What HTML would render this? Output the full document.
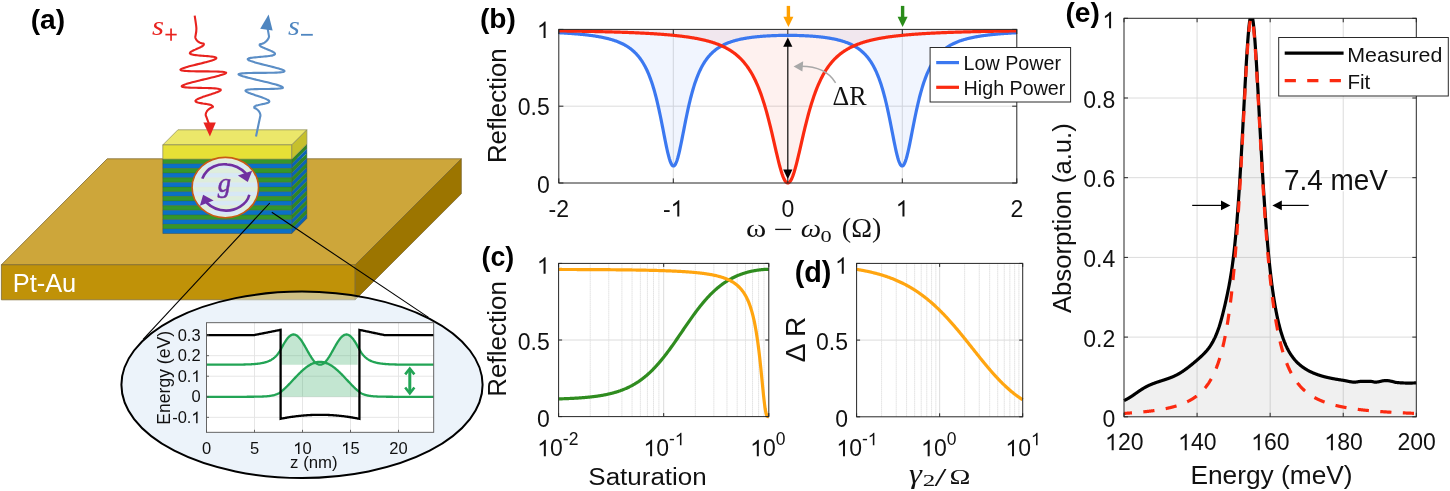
<!DOCTYPE html>
<html><head><meta charset="utf-8"><style>html,body{margin:0;padding:0;background:#fff;}svg{display:block;will-change:transform;}</style></head>
<body><svg width="1450" height="491" viewBox="0 0 1450 491">
<rect width="1450" height="491" fill="#fff"/>
<path d="M107.2,158.8 L461.3,158.8 L355.2,264.8 L1.4,264.8 Z" fill="#cda63a" stroke="#7d6a34" stroke-width="0.8" stroke-linejoin="round"/>
<path d="M1.4,264.8 L355.2,264.8 L355.2,299.8 L1.4,299.8 Z" fill="#c09208" stroke="#7d6a34" stroke-width="0.8" stroke-linejoin="round"/>
<path d="M355.2,264.8 L461.3,158.8 L461.3,193.8 L355.2,299.8 Z" fill="#9c7500" stroke="#7d6a34" stroke-width="0.8" stroke-linejoin="round"/>
<text x="12.68" y="291.85" style="font-family:'Liberation Sans', sans-serif;font-size:25.43px" fill="#fff">Pt-Au</text>
<rect x="162.8" y="159.1" width="129" height="4.7" fill="#35962a"/>
<path d="M291.8,159.1 L306.9,144 L306.9,148.7 L291.8,163.8 Z" fill="#2e8626" stroke="none" stroke-width="1" stroke-linejoin="round"/>
<rect x="162.8" y="163.75" width="129" height="4.7" fill="#0b70c6"/>
<path d="M291.8,163.75 L306.9,148.65 L306.9,153.35 L291.8,168.45 Z" fill="#0b62b4" stroke="none" stroke-width="1" stroke-linejoin="round"/>
<rect x="162.8" y="168.4" width="129" height="4.7" fill="#35962a"/>
<path d="M291.8,168.4 L306.9,153.3 L306.9,158 L291.8,173.1 Z" fill="#2e8626" stroke="none" stroke-width="1" stroke-linejoin="round"/>
<rect x="162.8" y="173.05" width="129" height="4.7" fill="#0b70c6"/>
<path d="M291.8,173.05 L306.9,157.95 L306.9,162.65 L291.8,177.75 Z" fill="#0b62b4" stroke="none" stroke-width="1" stroke-linejoin="round"/>
<rect x="162.8" y="177.7" width="129" height="4.7" fill="#35962a"/>
<path d="M291.8,177.7 L306.9,162.6 L306.9,167.3 L291.8,182.4 Z" fill="#2e8626" stroke="none" stroke-width="1" stroke-linejoin="round"/>
<rect x="162.8" y="182.35" width="129" height="4.7" fill="#0b70c6"/>
<path d="M291.8,182.35 L306.9,167.25 L306.9,171.95 L291.8,187.05 Z" fill="#0b62b4" stroke="none" stroke-width="1" stroke-linejoin="round"/>
<rect x="162.8" y="187" width="129" height="4.7" fill="#35962a"/>
<path d="M291.8,187 L306.9,171.9 L306.9,176.6 L291.8,191.7 Z" fill="#2e8626" stroke="none" stroke-width="1" stroke-linejoin="round"/>
<rect x="162.8" y="191.65" width="129" height="4.7" fill="#0b70c6"/>
<path d="M291.8,191.65 L306.9,176.55 L306.9,181.25 L291.8,196.35 Z" fill="#0b62b4" stroke="none" stroke-width="1" stroke-linejoin="round"/>
<rect x="162.8" y="196.3" width="129" height="4.7" fill="#35962a"/>
<path d="M291.8,196.3 L306.9,181.2 L306.9,185.9 L291.8,201 Z" fill="#2e8626" stroke="none" stroke-width="1" stroke-linejoin="round"/>
<rect x="162.8" y="200.95" width="129" height="4.7" fill="#0b70c6"/>
<path d="M291.8,200.95 L306.9,185.85 L306.9,190.55 L291.8,205.65 Z" fill="#0b62b4" stroke="none" stroke-width="1" stroke-linejoin="round"/>
<rect x="162.8" y="205.6" width="129" height="4.7" fill="#35962a"/>
<path d="M291.8,205.6 L306.9,190.5 L306.9,195.2 L291.8,210.3 Z" fill="#2e8626" stroke="none" stroke-width="1" stroke-linejoin="round"/>
<rect x="162.8" y="210.25" width="129" height="4.7" fill="#0b70c6"/>
<path d="M291.8,210.25 L306.9,195.15 L306.9,199.85 L291.8,214.95 Z" fill="#0b62b4" stroke="none" stroke-width="1" stroke-linejoin="round"/>
<rect x="162.8" y="214.9" width="129" height="4.7" fill="#35962a"/>
<path d="M291.8,214.9 L306.9,199.8 L306.9,204.5 L291.8,219.6 Z" fill="#2e8626" stroke="none" stroke-width="1" stroke-linejoin="round"/>
<rect x="162.8" y="219.55" width="129" height="4.7" fill="#0b70c6"/>
<path d="M291.8,219.55 L306.9,204.45 L306.9,209.15 L291.8,224.25 Z" fill="#0b62b4" stroke="none" stroke-width="1" stroke-linejoin="round"/>
<rect x="162.8" y="224.2" width="129" height="4.7" fill="#35962a"/>
<path d="M291.8,224.2 L306.9,209.1 L306.9,213.8 L291.8,228.9 Z" fill="#2e8626" stroke="none" stroke-width="1" stroke-linejoin="round"/>
<rect x="162.8" y="228.85" width="129" height="4.7" fill="#0b70c6"/>
<path d="M291.8,228.85 L306.9,213.75 L306.9,218.45 L291.8,233.55 Z" fill="#0b62b4" stroke="none" stroke-width="1" stroke-linejoin="round"/>
<line x1="162.8" y1="163.75" x2="291.8" y2="163.75" stroke="rgba(40,60,60,0.35)" stroke-width="0.6"/>
<line x1="162.8" y1="168.4" x2="291.8" y2="168.4" stroke="rgba(40,60,60,0.35)" stroke-width="0.6"/>
<line x1="162.8" y1="173.05" x2="291.8" y2="173.05" stroke="rgba(40,60,60,0.35)" stroke-width="0.6"/>
<line x1="162.8" y1="177.7" x2="291.8" y2="177.7" stroke="rgba(40,60,60,0.35)" stroke-width="0.6"/>
<line x1="162.8" y1="182.35" x2="291.8" y2="182.35" stroke="rgba(40,60,60,0.35)" stroke-width="0.6"/>
<line x1="162.8" y1="187" x2="291.8" y2="187" stroke="rgba(40,60,60,0.35)" stroke-width="0.6"/>
<line x1="162.8" y1="191.65" x2="291.8" y2="191.65" stroke="rgba(40,60,60,0.35)" stroke-width="0.6"/>
<line x1="162.8" y1="196.3" x2="291.8" y2="196.3" stroke="rgba(40,60,60,0.35)" stroke-width="0.6"/>
<line x1="162.8" y1="200.95" x2="291.8" y2="200.95" stroke="rgba(40,60,60,0.35)" stroke-width="0.6"/>
<line x1="162.8" y1="205.6" x2="291.8" y2="205.6" stroke="rgba(40,60,60,0.35)" stroke-width="0.6"/>
<line x1="162.8" y1="210.25" x2="291.8" y2="210.25" stroke="rgba(40,60,60,0.35)" stroke-width="0.6"/>
<line x1="162.8" y1="214.9" x2="291.8" y2="214.9" stroke="rgba(40,60,60,0.35)" stroke-width="0.6"/>
<line x1="162.8" y1="219.55" x2="291.8" y2="219.55" stroke="rgba(40,60,60,0.35)" stroke-width="0.6"/>
<line x1="162.8" y1="224.2" x2="291.8" y2="224.2" stroke="rgba(40,60,60,0.35)" stroke-width="0.6"/>
<line x1="162.8" y1="228.85" x2="291.8" y2="228.85" stroke="rgba(40,60,60,0.35)" stroke-width="0.6"/>
<path d="M177.9,129.8 L306.9,129.8 L291.8,144.9 L162.8,144.9 Z" fill="#ebe76a" stroke="#8a8a5a" stroke-width="0.7" stroke-linejoin="round"/>
<path d="M162.8,144.9 L291.8,144.9 L291.8,159.1 L162.8,159.1 Z" fill="#e6e036" stroke="#8a8a5a" stroke-width="0.7" stroke-linejoin="round"/>
<path d="M291.8,144.9 L306.9,129.8 L306.9,144 L291.8,159.1 Z" fill="#c6c02c" stroke="#8a8a5a" stroke-width="0.7" stroke-linejoin="round"/>
<path d="M162.8,159.1 L162.8,233.5 L291.8,233.5 L306.90000000000003,218.4 L306.90000000000003,144" fill="none" stroke="rgba(60,70,70,0.6)" stroke-width="0.7"/>
<line x1="291.8" y1="159.1" x2="291.8" y2="233.5" stroke="rgba(60,70,70,0.6)" stroke-width="0.7"/>
<ellipse cx="225.3" cy="187.6" rx="33.2" ry="30.2" fill="rgba(255,255,255,0.84)" stroke="#c85a14" stroke-width="1.6"/>
<path d="M202.3,178.6 C207,166 220,163.5 227,164.4 C235,165 241,168.5 246,173.5" fill="none" stroke="#7030a0" stroke-width="2.6"/>
<path d="M237.9,175.4 L252.2,170.7 L247.8,182 Z" fill="#7030a0" stroke="none" stroke-width="1" stroke-linejoin="round"/>
<path d="M249.3,194.8 C247,205 235,210.8 226,210.6 C218,210.4 211,207 206.5,202.5" fill="none" stroke="#7030a0" stroke-width="2.6"/>
<path d="M213.6,200.4 L203.1,194.8 L199.9,205.8 Z" fill="#7030a0" stroke="none" stroke-width="1" stroke-linejoin="round"/>
<text x="217.7" y="191.99" style="font-family:'Liberation Serif', serif;font-style:italic;font-size:26.57px" fill="#7030a0" stroke="#7030a0" stroke-width="0.5">g</text>
<path d="M194.7,15.7 C194.98,17.83 196.28,25.05 196.4,28.5 C196.52,31.95 195.58,35.02 195.4,36.4 C195.22,37.78 195.34,36.64 195.32,36.77 C195.31,36.9 195.31,37.05 195.32,37.19 C195.33,37.34 195.35,37.5 195.38,37.66 C195.42,37.82 195.46,37.98 195.52,38.15 C195.58,38.32 195.65,38.49 195.73,38.67 C195.81,38.84 195.91,39.02 196.01,39.19 C196.11,39.36 196.23,39.54 196.35,39.71 C196.47,39.89 196.61,40.06 196.75,40.23 C196.89,40.39 197.04,40.56 197.2,40.72 C197.36,40.88 197.52,41.03 197.69,41.18 C197.86,41.33 198.04,41.47 198.22,41.61 C198.4,41.75 198.59,41.88 198.77,42 C198.96,42.12 199.15,42.24 199.34,42.34 C199.53,42.45 199.73,42.55 199.91,42.64 C200.1,42.73 200.29,42.82 200.48,42.89 C200.66,42.97 200.85,43.03 201.03,43.09 C201.2,43.15 201.38,43.2 201.54,43.25 C201.71,43.29 201.87,43.33 202.02,43.36 C202.17,43.39 202.31,43.42 202.44,43.44 C202.57,43.46 202.7,43.47 202.81,43.48 C202.92,43.49 203.02,43.5 203.1,43.5 C203.19,43.51 203.26,43.51 203.32,43.51 C203.38,43.51 203.42,43.5 203.45,43.5 C203.48,43.5 203.46,43.45 203.5,43.5 C203.54,43.55 203.66,43.7 203.72,43.8 C203.77,43.91 203.82,44.01 203.84,44.12 C203.86,44.22 203.86,44.33 203.85,44.44 C203.83,44.55 203.8,44.66 203.74,44.78 C203.69,44.89 203.61,45.01 203.52,45.13 C203.43,45.24 203.32,45.36 203.19,45.49 C203.05,45.61 202.9,45.73 202.73,45.86 C202.57,45.99 202.38,46.12 202.18,46.25 C201.97,46.38 201.75,46.51 201.51,46.64 C201.28,46.78 201.02,46.91 200.76,47.05 C200.49,47.19 200.21,47.32 199.92,47.46 C199.64,47.6 199.33,47.75 199.02,47.89 C198.72,48.03 198.4,48.17 198.08,48.32 C197.75,48.46 197.42,48.6 197.09,48.75 C196.77,48.89 196.43,49.04 196.1,49.18 C195.77,49.33 195.44,49.47 195.12,49.62 C194.79,49.76 194.47,49.9 194.16,50.05 C193.85,50.19 193.55,50.33 193.26,50.47 C192.97,50.61 192.69,50.75 192.42,50.89 C192.16,51.03 191.91,51.17 191.68,51.3 C191.45,51.44 191.24,51.57 191.05,51.7 C190.86,51.83 190.69,51.96 190.55,52.08 C190.41,52.21 190.29,52.33 190.2,52.45 C190.1,52.57 190.05,52.68 190,52.8 C189.95,52.92 189.89,53.03 189.89,53.14 C189.88,53.25 189.9,53.36 189.95,53.46 C190.01,53.57 190.09,53.67 190.21,53.76 C190.33,53.86 190.48,53.95 190.66,54.04 C190.84,54.13 191.05,54.22 191.3,54.3 C191.54,54.38 191.82,54.46 192.12,54.54 C192.43,54.62 192.77,54.69 193.13,54.76 C193.5,54.83 193.89,54.89 194.31,54.96 C194.73,55.02 195.17,55.08 195.64,55.14 C196.1,55.2 196.6,55.26 197.1,55.31 C197.61,55.36 198.14,55.42 198.68,55.47 C199.22,55.52 199.78,55.56 200.35,55.61 C200.92,55.66 201.5,55.71 202.08,55.75 C202.66,55.8 203.25,55.84 203.84,55.89 C204.42,55.93 205.02,55.98 205.6,56.02 C206.18,56.07 206.76,56.12 207.32,56.16 C207.89,56.21 208.45,56.26 208.99,56.31 C209.53,56.36 210.05,56.41 210.56,56.46 C211.06,56.52 211.54,56.58 211.99,56.63 C212.45,56.69 212.88,56.76 213.28,56.82 C213.67,56.89 214.04,56.96 214.37,57.03 C214.7,57.1 215,57.18 215.25,57.26 C215.51,57.34 215.73,57.43 215.9,57.52 C216.08,57.61 216.22,57.7 216.3,57.8 C216.38,57.9 216.39,58.01 216.37,58.13 C216.35,58.24 216.28,58.36 216.17,58.48 C216.06,58.6 215.89,58.73 215.69,58.87 C215.48,59 215.23,59.14 214.93,59.28 C214.64,59.42 214.29,59.57 213.91,59.72 C213.52,59.88 213.09,60.03 212.63,60.2 C212.16,60.36 211.65,60.52 211.1,60.69 C210.56,60.86 209.98,61.04 209.36,61.21 C208.75,61.39 208.1,61.57 207.43,61.75 C206.76,61.94 206.05,62.12 205.33,62.31 C204.61,62.5 203.86,62.69 203.11,62.88 C202.35,63.07 201.57,63.27 200.79,63.46 C200.01,63.66 199.21,63.85 198.42,64.05 C197.62,64.24 196.82,64.44 196.03,64.63 C195.24,64.83 194.45,65.02 193.68,65.22 C192.91,65.41 192.14,65.6 191.4,65.79 C190.66,65.98 189.93,66.17 189.23,66.35 C188.54,66.54 187.86,66.72 187.23,66.9 C186.59,67.08 185.98,67.25 185.41,67.42 C184.84,67.59 184.31,67.76 183.83,67.92 C183.34,68.08 182.9,68.24 182.51,68.39 C182.12,68.54 181.77,68.69 181.48,68.83 C181.19,68.97 180.95,69.1 180.77,69.23 C180.59,69.36 180.43,69.48 180.4,69.6 C180.37,69.72 180.48,69.83 180.6,69.93 C180.73,70.04 180.91,70.13 181.16,70.22 C181.4,70.32 181.7,70.4 182.06,70.48 C182.41,70.56 182.83,70.63 183.29,70.7 C183.76,70.76 184.28,70.83 184.85,70.88 C185.42,70.94 186.04,70.98 186.7,71.03 C187.37,71.07 188.08,71.11 188.83,71.14 C189.57,71.18 190.37,71.21 191.19,71.23 C192.01,71.26 192.87,71.28 193.75,71.3 C194.63,71.32 195.55,71.33 196.47,71.34 C197.4,71.35 198.36,71.36 199.31,71.37 C200.27,71.38 201.25,71.38 202.22,71.39 C203.2,71.39 204.19,71.4 205.16,71.4 C206.13,71.4 207.11,71.41 208.07,71.41 C209.03,71.42 209.98,71.42 210.91,71.43 C211.83,71.44 212.74,71.45 213.62,71.46 C214.5,71.48 215.35,71.49 216.17,71.51 C216.98,71.53 217.77,71.55 218.51,71.58 C219.25,71.61 219.95,71.64 220.6,71.68 C221.24,71.71 221.85,71.75 222.4,71.8 C222.95,71.85 223.45,71.91 223.88,71.97 C224.32,72.03 224.7,72.09 225.02,72.17 C225.34,72.24 225.61,72.32 225.8,72.41 C226,72.5 226.18,72.59 226.2,72.7 C226.22,72.81 226.06,72.95 225.89,73.09 C225.73,73.22 225.5,73.36 225.21,73.51 C224.92,73.67 224.57,73.82 224.16,73.99 C223.75,74.15 223.28,74.32 222.76,74.5 C222.24,74.68 221.67,74.86 221.04,75.05 C220.42,75.24 219.75,75.44 219.04,75.64 C218.32,75.84 217.56,76.05 216.77,76.26 C215.98,76.47 215.15,76.68 214.29,76.9 C213.44,77.12 212.54,77.34 211.64,77.56 C210.73,77.79 209.8,78.01 208.86,78.24 C207.92,78.47 206.96,78.7 206,78.93 C205.04,79.16 204.07,79.39 203.11,79.62 C202.15,79.86 201.19,80.09 200.24,80.32 C199.3,80.55 198.35,80.77 197.44,81 C196.52,81.23 195.62,81.45 194.75,81.67 C193.88,81.89 193.02,82.11 192.21,82.33 C191.4,82.54 190.62,82.75 189.88,82.95 C189.14,83.16 188.44,83.36 187.78,83.56 C187.13,83.75 186.51,83.94 185.96,84.13 C185.4,84.31 184.88,84.49 184.43,84.66 C183.97,84.83 183.57,85 183.23,85.16 C182.88,85.32 182.59,85.47 182.36,85.61 C182.13,85.76 181.96,85.9 181.85,86.03 C181.74,86.16 181.65,86.29 181.7,86.4 C181.75,86.51 181.96,86.6 182.17,86.69 C182.38,86.78 182.66,86.87 182.98,86.95 C183.31,87.02 183.69,87.09 184.12,87.16 C184.55,87.22 185.03,87.28 185.56,87.34 C186.08,87.39 186.66,87.44 187.27,87.48 C187.88,87.52 188.53,87.56 189.22,87.6 C189.9,87.63 190.62,87.66 191.37,87.69 C192.11,87.72 192.89,87.74 193.68,87.76 C194.46,87.78 195.28,87.8 196.1,87.82 C196.93,87.84 197.77,87.85 198.61,87.87 C199.45,87.89 200.3,87.9 201.15,87.92 C201.99,87.93 202.84,87.95 203.68,87.96 C204.51,87.98 205.34,88 206.15,88.02 C206.96,88.03 207.76,88.06 208.53,88.08 C209.3,88.1 210.06,88.13 210.78,88.16 C211.5,88.19 212.2,88.22 212.87,88.26 C213.53,88.3 214.16,88.34 214.75,88.38 C215.35,88.43 215.91,88.48 216.42,88.53 C216.93,88.59 217.41,88.65 217.84,88.71 C218.27,88.78 218.65,88.84 218.99,88.92 C219.33,89 219.62,89.08 219.87,89.16 C220.12,89.25 220.31,89.34 220.46,89.44 C220.61,89.54 220.72,89.64 220.77,89.75 C220.83,89.86 220.85,89.98 220.8,90.1 C220.75,90.22 220.64,90.34 220.5,90.47 C220.35,90.6 220.16,90.74 219.93,90.88 C219.7,91.02 219.43,91.16 219.12,91.31 C218.82,91.46 218.47,91.61 218.1,91.77 C217.72,91.93 217.31,92.09 216.88,92.26 C216.44,92.42 215.98,92.59 215.49,92.76 C215.01,92.94 214.49,93.11 213.97,93.29 C213.45,93.47 212.9,93.65 212.35,93.83 C211.79,94.01 211.22,94.19 210.65,94.38 C210.08,94.56 209.5,94.75 208.92,94.93 C208.35,95.12 207.76,95.31 207.19,95.49 C206.62,95.68 206.05,95.87 205.49,96.05 C204.93,96.23 204.38,96.42 203.84,96.6 C203.31,96.78 202.79,96.96 202.29,97.14 C201.79,97.32 201.31,97.5 200.85,97.67 C200.39,97.85 199.96,98.02 199.55,98.19 C199.14,98.36 198.76,98.52 198.41,98.68 C198.05,98.85 197.73,99 197.44,99.16 C197.15,99.31 196.88,99.46 196.65,99.61 C196.43,99.76 196.23,99.9 196.07,100.04 C195.9,100.18 195.77,100.31 195.68,100.44 C195.58,100.57 195.52,100.7 195.49,100.82 C195.46,100.94 195.47,101.06 195.5,101.17 C195.54,101.29 195.62,101.4 195.7,101.5 C195.78,101.6 195.88,101.7 196.01,101.79 C196.13,101.89 196.3,101.98 196.48,102.07 C196.66,102.15 196.87,102.24 197.11,102.32 C197.34,102.4 197.6,102.47 197.87,102.55 C198.15,102.62 198.45,102.69 198.76,102.76 C199.07,102.83 199.4,102.9 199.74,102.96 C200.09,103.03 200.44,103.09 200.81,103.15 C201.17,103.22 201.55,103.28 201.93,103.34 C202.3,103.4 202.69,103.46 203.08,103.52 C203.46,103.57 203.85,103.63 204.24,103.69 C204.63,103.75 205.01,103.81 205.39,103.87 C205.77,103.93 206.15,103.99 206.51,104.05 C206.88,104.11 207.24,104.17 207.58,104.24 C207.93,104.3 208.27,104.37 208.59,104.43 C208.91,104.5 209.22,104.57 209.51,104.64 C209.8,104.71 210.07,104.79 210.33,104.86 C210.59,104.94 210.83,105.02 211.05,105.1 C211.26,105.18 211.47,105.26 211.65,105.35 C211.83,105.43 211.99,105.52 212.13,105.62 C212.26,105.71 212.38,105.8 212.48,105.9 C212.58,106 212.66,106.1 212.71,106.2 C212.77,106.3 212.81,106.41 212.82,106.52 C212.84,106.63 212.84,106.74 212.82,106.85 C212.8,106.96 212.73,107.14 212.7,107.2 C212.67,107.26 212.68,107.2 212.65,107.21 C212.62,107.21 212.57,107.22 212.51,107.24 C212.44,107.25 212.37,107.27 212.28,107.3 C212.19,107.32 212.08,107.35 211.97,107.39 C211.85,107.43 211.73,107.48 211.59,107.53 C211.46,107.58 211.31,107.64 211.16,107.71 C211.01,107.78 210.85,107.86 210.69,107.94 C210.53,108.03 210.35,108.12 210.18,108.23 C210.01,108.33 209.84,108.44 209.66,108.56 C209.48,108.68 209.31,108.81 209.13,108.95 C208.95,109.08 208.78,109.23 208.61,109.38 C208.43,109.53 208.26,109.7 208.1,109.86 C207.94,110.03 207.78,110.2 207.62,110.38 C207.47,110.56 207.32,110.75 207.18,110.94 C207.04,111.13 206.91,111.32 206.79,111.52 C206.67,111.71 206.55,111.91 206.45,112.11 C206.35,112.31 206.25,112.51 206.17,112.72 C206.09,112.92 206.02,113.12 205.96,113.31 C205.9,113.51 205.85,113.71 205.81,113.9 C205.77,114.09 205.75,114.27 205.73,114.45 C205.72,114.63 205.72,114.81 205.73,114.97 C205.73,115.14 205.76,115.3 205.79,115.44 C205.82,115.59 205.86,115.73 205.91,115.86 C205.96,115.98 205.55,114.76 206.1,116.2 C206.65,117.64 208.68,123.12 209.2,124.5" fill="none" stroke="#e8231f" stroke-width="2.1" stroke-linejoin="round"/>
<path d="M203.4,122.4 L215.8,122.4 L209.9,136.6 Z" fill="#e8231f" stroke="none" stroke-width="1" stroke-linejoin="round"/>
<path d="M256,136.5 C256.68,133.25 259.39,120.31 260.1,117 C260.81,113.69 260.22,116.78 260.26,116.65 C260.31,116.52 260.34,116.38 260.37,116.23 C260.4,116.08 260.42,115.92 260.42,115.76 C260.43,115.59 260.43,115.41 260.42,115.23 C260.41,115.05 260.38,114.86 260.35,114.67 C260.32,114.48 260.28,114.28 260.23,114.08 C260.17,113.88 260.11,113.68 260.04,113.48 C259.97,113.28 259.89,113.08 259.8,112.88 C259.71,112.67 259.61,112.47 259.51,112.28 C259.4,112.08 259.29,111.89 259.17,111.7 C259.05,111.51 258.92,111.32 258.79,111.14 C258.66,110.97 258.52,110.79 258.38,110.62 C258.23,110.46 258.09,110.3 257.94,110.15 C257.79,109.99 257.64,109.85 257.49,109.71 C257.33,109.58 257.18,109.45 257.03,109.33 C256.88,109.21 256.72,109.1 256.57,109 C256.43,108.9 256.28,108.81 256.14,108.72 C256,108.64 255.86,108.56 255.73,108.49 C255.6,108.43 255.47,108.37 255.36,108.32 C255.24,108.26 255.13,108.22 255.03,108.18 C254.93,108.15 254.84,108.12 254.77,108.09 C254.69,108.07 254.62,108.05 254.57,108.04 C254.51,108.02 254.47,108.01 254.44,108.01 C254.41,108 254.43,108.06 254.4,108 C254.37,107.94 254.29,107.76 254.26,107.65 C254.23,107.54 254.21,107.42 254.22,107.31 C254.22,107.21 254.24,107.1 254.27,106.99 C254.31,106.89 254.37,106.79 254.44,106.69 C254.52,106.59 254.61,106.49 254.72,106.4 C254.83,106.3 254.96,106.21 255.11,106.12 C255.26,106.03 255.42,105.94 255.61,105.86 C255.79,105.77 255.99,105.69 256.21,105.61 C256.43,105.53 256.67,105.45 256.92,105.38 C257.16,105.3 257.43,105.23 257.71,105.16 C257.98,105.08 258.28,105.01 258.58,104.94 C258.88,104.87 259.19,104.8 259.51,104.74 C259.83,104.67 260.16,104.6 260.5,104.54 C260.83,104.47 261.17,104.41 261.51,104.34 C261.85,104.28 262.2,104.21 262.54,104.15 C262.88,104.08 263.22,104.02 263.56,103.95 C263.89,103.88 264.23,103.82 264.55,103.75 C264.88,103.68 265.19,103.61 265.5,103.54 C265.8,103.47 266.1,103.4 266.38,103.32 C266.65,103.25 266.92,103.17 267.17,103.09 C267.41,103.01 267.64,102.93 267.85,102.85 C268.06,102.76 268.25,102.67 268.41,102.58 C268.57,102.49 268.72,102.4 268.83,102.3 C268.95,102.2 269.02,102.1 269.1,102 C269.18,101.9 269.26,101.8 269.3,101.69 C269.34,101.58 269.35,101.47 269.33,101.36 C269.31,101.24 269.26,101.13 269.18,101 C269.1,100.88 268.98,100.75 268.84,100.62 C268.7,100.49 268.52,100.36 268.31,100.22 C268.11,100.08 267.87,99.93 267.61,99.79 C267.34,99.64 267.04,99.49 266.72,99.34 C266.4,99.18 266.04,99.02 265.67,98.86 C265.29,98.7 264.89,98.54 264.46,98.37 C264.04,98.2 263.59,98.03 263.13,97.86 C262.66,97.69 262.17,97.51 261.68,97.34 C261.18,97.16 260.66,96.98 260.14,96.8 C259.61,96.62 259.08,96.44 258.54,96.26 C258,96.08 257.45,95.89 256.9,95.71 C256.36,95.53 255.81,95.34 255.27,95.16 C254.73,94.98 254.19,94.8 253.66,94.62 C253.14,94.44 252.62,94.26 252.12,94.09 C251.62,93.91 251.13,93.74 250.66,93.56 C250.2,93.39 249.75,93.22 249.33,93.06 C248.92,92.89 248.52,92.73 248.16,92.57 C247.8,92.42 247.46,92.26 247.16,92.11 C246.87,91.96 246.6,91.82 246.37,91.68 C246.15,91.54 245.96,91.4 245.81,91.27 C245.67,91.14 245.55,91.02 245.5,90.9 C245.45,90.78 245.45,90.68 245.49,90.57 C245.53,90.47 245.61,90.37 245.74,90.28 C245.87,90.19 246.05,90.1 246.27,90.02 C246.5,89.94 246.76,89.86 247.08,89.79 C247.39,89.73 247.75,89.66 248.15,89.6 C248.55,89.55 248.99,89.49 249.47,89.45 C249.95,89.4 250.48,89.36 251.04,89.32 C251.6,89.28 252.2,89.25 252.82,89.22 C253.45,89.19 254.12,89.16 254.81,89.14 C255.49,89.12 256.21,89.1 256.95,89.08 C257.69,89.07 258.45,89.05 259.23,89.04 C260,89.03 260.8,89.02 261.6,89.01 C262.4,89 263.22,89 264.03,88.99 C264.84,88.98 265.66,88.97 266.47,88.97 C267.28,88.96 268.1,88.95 268.89,88.94 C269.69,88.93 270.48,88.92 271.24,88.9 C272.01,88.89 272.76,88.87 273.48,88.85 C274.2,88.83 274.9,88.81 275.57,88.78 C276.23,88.76 276.87,88.72 277.46,88.69 C278.05,88.65 278.61,88.61 279.13,88.56 C279.64,88.52 280.11,88.46 280.53,88.41 C280.95,88.35 281.32,88.28 281.64,88.21 C281.96,88.14 282.23,88.06 282.44,87.98 C282.65,87.89 282.85,87.81 282.9,87.7 C282.95,87.59 282.86,87.46 282.76,87.33 C282.65,87.2 282.49,87.07 282.26,86.92 C282.04,86.78 281.76,86.63 281.42,86.47 C281.09,86.31 280.69,86.15 280.25,85.98 C279.8,85.8 279.3,85.63 278.75,85.44 C278.2,85.26 277.6,85.07 276.95,84.88 C276.31,84.68 275.62,84.48 274.89,84.28 C274.16,84.08 273.38,83.87 272.58,83.66 C271.78,83.45 270.94,83.23 270.08,83.01 C269.22,82.8 268.32,82.57 267.41,82.35 C266.5,82.13 265.57,81.9 264.63,81.68 C263.69,81.45 262.73,81.23 261.77,81 C260.82,80.77 259.85,80.55 258.9,80.32 C257.94,80.1 256.98,79.87 256.05,79.65 C255.11,79.43 254.17,79.2 253.27,78.99 C252.36,78.77 251.47,78.55 250.61,78.34 C249.75,78.13 248.91,77.92 248.12,77.72 C247.32,77.52 246.56,77.32 245.84,77.12 C245.12,76.93 244.44,76.74 243.81,76.56 C243.18,76.37 242.59,76.2 242.06,76.02 C241.53,75.85 241.06,75.69 240.64,75.53 C240.22,75.37 239.86,75.22 239.56,75.08 C239.26,74.93 239.01,74.8 238.84,74.67 C238.66,74.54 238.49,74.41 238.5,74.3 C238.51,74.19 238.69,74.09 238.89,74 C239.08,73.91 239.34,73.82 239.65,73.74 C239.97,73.67 240.35,73.59 240.78,73.53 C241.22,73.46 241.71,73.4 242.26,73.35 C242.81,73.3 243.41,73.25 244.06,73.21 C244.7,73.17 245.4,73.13 246.14,73.1 C246.88,73.07 247.66,73.04 248.48,73.02 C249.29,72.99 250.15,72.98 251.03,72.96 C251.91,72.94 252.82,72.93 253.75,72.92 C254.68,72.91 255.63,72.9 256.59,72.89 C257.55,72.88 258.54,72.87 259.51,72.87 C260.49,72.86 261.48,72.86 262.46,72.85 C263.44,72.84 264.43,72.84 265.39,72.83 C266.35,72.82 267.31,72.81 268.25,72.8 C269.18,72.79 270.1,72.77 270.99,72.75 C271.88,72.74 272.75,72.72 273.58,72.69 C274.4,72.67 275.2,72.64 275.96,72.61 C276.71,72.57 277.43,72.54 278.1,72.49 C278.77,72.45 279.4,72.4 279.98,72.35 C280.55,72.3 281.08,72.24 281.55,72.18 C282.03,72.11 282.45,72.04 282.81,71.96 C283.17,71.89 283.48,71.8 283.72,71.71 C283.97,71.62 284.16,71.53 284.29,71.43 C284.42,71.32 284.53,71.22 284.5,71.1 C284.47,70.98 284.31,70.85 284.12,70.71 C283.94,70.58 283.7,70.44 283.41,70.29 C283.12,70.14 282.77,69.99 282.37,69.83 C281.98,69.68 281.53,69.51 281.04,69.34 C280.55,69.18 280.01,69 279.43,68.83 C278.86,68.65 278.24,68.47 277.59,68.28 C276.94,68.1 276.26,67.91 275.55,67.72 C274.84,67.52 274.1,67.33 273.35,67.13 C272.6,66.94 271.82,66.74 271.03,66.54 C270.25,66.34 269.44,66.14 268.64,65.94 C267.83,65.73 267.01,65.53 266.21,65.33 C265.4,65.13 264.59,64.93 263.79,64.72 C262.99,64.52 262.19,64.32 261.42,64.13 C260.65,63.93 259.88,63.73 259.14,63.54 C258.41,63.34 257.68,63.15 257,62.96 C256.31,62.78 255.64,62.59 255.01,62.41 C254.38,62.23 253.78,62.05 253.22,61.87 C252.66,61.7 252.14,61.53 251.66,61.36 C251.17,61.2 250.73,61.04 250.33,60.88 C249.93,60.72 249.58,60.57 249.27,60.42 C248.96,60.28 248.69,60.13 248.48,60 C248.26,59.86 248.09,59.73 247.97,59.6 C247.85,59.47 247.77,59.35 247.74,59.24 C247.72,59.12 247.73,59 247.8,58.9 C247.87,58.8 248.01,58.7 248.19,58.61 C248.36,58.52 248.58,58.43 248.83,58.34 C249.09,58.26 249.39,58.18 249.72,58.1 C250.05,58.03 250.42,57.96 250.82,57.89 C251.22,57.82 251.66,57.75 252.12,57.69 C252.58,57.63 253.08,57.57 253.59,57.51 C254.1,57.45 254.64,57.39 255.19,57.34 C255.74,57.28 256.31,57.23 256.89,57.18 C257.47,57.13 258.06,57.08 258.66,57.03 C259.26,56.97 259.86,56.92 260.47,56.87 C261.07,56.82 261.68,56.77 262.28,56.72 C262.88,56.67 263.48,56.62 264.06,56.56 C264.65,56.51 265.23,56.45 265.79,56.4 C266.35,56.34 266.9,56.28 267.42,56.22 C267.95,56.16 268.46,56.1 268.95,56.03 C269.43,55.96 269.9,55.9 270.33,55.83 C270.77,55.75 271.18,55.68 271.56,55.6 C271.94,55.53 272.3,55.44 272.62,55.36 C272.94,55.28 273.23,55.19 273.49,55.1 C273.75,55.01 273.98,54.92 274.17,54.82 C274.36,54.72 274.52,54.62 274.65,54.52 C274.77,54.42 274.87,54.31 274.93,54.2 C274.99,54.09 275.01,53.97 275.01,53.86 C275,53.74 274.95,53.62 274.9,53.5 C274.85,53.38 274.79,53.25 274.69,53.12 C274.59,52.99 274.46,52.86 274.3,52.72 C274.15,52.59 273.97,52.45 273.77,52.31 C273.56,52.18 273.34,52.04 273.09,51.9 C272.85,51.75 272.58,51.61 272.29,51.47 C272.01,51.33 271.71,51.18 271.4,51.04 C271.09,50.89 270.76,50.74 270.42,50.6 C270.09,50.45 269.74,50.31 269.39,50.16 C269.04,50.02 268.68,49.87 268.33,49.73 C267.97,49.58 267.6,49.44 267.25,49.3 C266.89,49.15 266.53,49.01 266.18,48.87 C265.83,48.73 265.48,48.59 265.14,48.45 C264.8,48.31 264.47,48.17 264.15,48.04 C263.83,47.9 263.52,47.77 263.22,47.64 C262.93,47.51 262.65,47.38 262.38,47.25 C262.12,47.12 261.87,47 261.64,46.87 C261.41,46.75 261.19,46.62 261,46.5 C260.81,46.38 260.63,46.26 260.48,46.15 C260.32,46.03 260.19,45.92 260.07,45.8 C259.96,45.69 259.87,45.58 259.8,45.47 C259.72,45.36 259.67,45.25 259.64,45.14 C259.61,45.03 259.6,44.93 259.61,44.82 C259.62,44.72 259.65,44.61 259.7,44.51 C259.75,44.4 259.86,44.25 259.9,44.2 C259.94,44.15 259.92,44.2 259.95,44.2 C259.98,44.2 260.03,44.2 260.1,44.19 C260.17,44.19 260.25,44.18 260.34,44.17 C260.44,44.16 260.55,44.14 260.67,44.12 C260.79,44.1 260.93,44.08 261.08,44.04 C261.22,44.01 261.38,43.97 261.55,43.92 C261.71,43.88 261.89,43.82 262.08,43.76 C262.26,43.69 262.45,43.62 262.65,43.54 C262.85,43.46 263.05,43.37 263.26,43.27 C263.46,43.17 263.67,43.06 263.88,42.95 C264.09,42.83 264.31,42.7 264.52,42.57 C264.73,42.43 264.94,42.29 265.15,42.14 C265.36,41.99 265.56,41.82 265.76,41.66 C265.96,41.49 266.16,41.31 266.35,41.13 C266.54,40.95 266.73,40.77 266.9,40.57 C267.07,40.38 267.24,40.19 267.4,39.99 C267.56,39.79 267.71,39.59 267.84,39.38 C267.98,39.18 268.11,38.97 268.22,38.77 C268.34,38.57 268.44,38.36 268.53,38.16 C268.62,37.96 268.7,37.76 268.76,37.57 C268.83,37.37 268.88,37.18 268.92,37 C268.96,36.82 268.98,36.65 268.99,36.48 C269,36.31 269,36.15 268.99,36.01 C268.97,35.86 269.2,37.27 268.9,35.6 C268.6,33.93 267.48,27.6 267.2,26" fill="none" stroke="#5b8ec6" stroke-width="2.1" stroke-linejoin="round"/>
<path d="M260.2,28.8 L272.6,30.6 L268.6,14.6 Z" fill="#4f86c0" stroke="none" stroke-width="1" stroke-linejoin="round"/>
<text x="152.09" y="34.82" style="font-family:'Liberation Serif', serif;font-style:italic;font-size:27.92px" fill="#e8231f" textLength="12.01" lengthAdjust="spacingAndGlyphs">s</text>
<line x1="165.4" y1="34.6" x2="176.7" y2="34.6" stroke="#e8231f" stroke-width="1.7"/>
<line x1="171.05" y1="28.6" x2="171.05" y2="40.8" stroke="#e8231f" stroke-width="1.7"/>
<text x="288.1" y="34.82" style="font-family:'Liberation Serif', serif;font-style:italic;font-size:27.92px" fill="#4f86c0" textLength="11.79" lengthAdjust="spacingAndGlyphs">s</text>
<line x1="301" y1="34.8" x2="312.8" y2="34.8" stroke="#4f86c0" stroke-width="1.8"/>
<line x1="269.8" y1="203" x2="143.1" y2="339.3" stroke="#000" stroke-width="1.1"/>
<line x1="271.8" y1="212.3" x2="428.5" y2="317.4" stroke="#000" stroke-width="1.1"/>
<ellipse cx="302" cy="384.8" rx="180.6" ry="93.2" fill="rgba(218,232,246,0.52)" stroke="#000" stroke-width="2"/>
<rect x="206.5" y="322.7" width="227.2" height="109.6" fill="#fff"/>
<line x1="254.5" y1="322.7" x2="254.5" y2="432.3" stroke="#e3e3e3" stroke-width="0.9"/>
<line x1="302.5" y1="322.7" x2="302.5" y2="432.3" stroke="#e3e3e3" stroke-width="0.9"/>
<line x1="350.5" y1="322.7" x2="350.5" y2="432.3" stroke="#e3e3e3" stroke-width="0.9"/>
<line x1="398.5" y1="322.7" x2="398.5" y2="432.3" stroke="#e3e3e3" stroke-width="0.9"/>
<line x1="206.5" y1="417.37" x2="433.7" y2="417.37" stroke="#e3e3e3" stroke-width="0.9"/>
<line x1="206.5" y1="396.8" x2="433.7" y2="396.8" stroke="#e3e3e3" stroke-width="0.9"/>
<line x1="206.5" y1="376.23" x2="433.7" y2="376.23" stroke="#e3e3e3" stroke-width="0.9"/>
<line x1="206.5" y1="355.66" x2="433.7" y2="355.66" stroke="#e3e3e3" stroke-width="0.9"/>
<line x1="206.5" y1="335.09" x2="433.7" y2="335.09" stroke="#e3e3e3" stroke-width="0.9"/>
<clipPath id="icl"><rect x="206.5" y="322.7" width="227.2" height="109.6"/></clipPath>
<g clip-path="url(#icl)">
<path d="M280.71,391.96 L281.16,391.61 L281.62,391.24 L282.07,390.87 L282.53,390.49 L282.98,390.1 L283.44,389.7 L283.9,389.29 L284.35,388.88 L284.81,388.46 L285.26,388.03 L285.72,387.59 L286.17,387.15 L286.63,386.7 L287.08,386.25 L287.54,385.79 L287.99,385.33 L288.45,384.87 L288.9,384.4 L289.36,383.92 L289.81,383.44 L290.27,382.97 L290.72,382.48 L291.18,382 L291.64,381.51 L292.09,381.03 L292.55,380.54 L293,380.05 L293.46,379.57 L293.91,379.08 L294.37,378.59 L294.82,378.11 L295.28,377.63 L295.73,377.14 L296.19,376.66 L296.64,376.19 L297.1,375.71 L297.55,375.24 L298.01,374.78 L298.46,374.31 L298.92,373.86 L299.37,373.4 L299.83,372.95 L300.29,372.51 L300.74,372.07 L301.2,371.64 L301.65,371.21 L302.11,370.79 L302.56,370.38 L303.02,369.97 L303.47,369.57 L303.93,369.18 L304.38,368.8 L304.84,368.42 L305.29,368.06 L305.75,367.7 L306.2,367.35 L306.66,367.01 L307.11,366.68 L307.57,366.35 L308.02,366.04 L308.48,365.74 L308.94,365.45 L309.39,365.17 L309.85,364.89 L310.3,364.63 L310.76,364.38 L311.21,364.14 L311.67,363.92 L312.12,363.7 L312.58,363.49 L313.03,363.3 L313.49,363.12 L313.94,362.95 L314.4,362.79 L314.85,362.64 L315.31,362.51 L315.76,362.38 L316.22,362.27 L316.67,362.17 L317.13,362.09 L317.59,362.01 L318.04,361.95 L318.5,361.9 L318.95,361.87 L319.41,361.84 L319.86,361.83 L320.32,361.83 L320.77,361.85 L321.23,361.87 L321.68,361.91 L322.14,361.96 L322.59,362.03 L323.05,362.1 L323.5,362.19 L323.96,362.29 L324.41,362.4 L324.87,362.53 L325.32,362.67 L325.78,362.82 L326.24,362.98 L326.69,363.15 L327.15,363.33 L327.6,363.53 L328.06,363.74 L328.51,363.96 L328.97,364.19 L329.42,364.43 L329.88,364.68 L330.33,364.94 L330.79,365.22 L331.24,365.5 L331.7,365.8 L332.15,366.1 L332.61,366.41 L333.06,366.74 L333.52,367.07 L333.97,367.41 L334.43,367.76 L334.89,368.13 L335.34,368.49 L335.8,368.87 L336.25,369.26 L336.71,369.65 L337.16,370.05 L337.62,370.46 L338.07,370.87 L338.53,371.29 L338.98,371.72 L339.44,372.15 L339.89,372.59 L340.35,373.04 L340.8,373.49 L341.26,373.94 L341.71,374.4 L342.17,374.87 L342.63,375.34 L343.08,375.81 L343.54,376.28 L343.99,376.76 L344.45,377.24 L344.9,377.72 L345.36,378.21 L345.81,378.69 L346.27,379.18 L346.72,379.67 L347.18,380.15 L347.63,380.64 L348.09,381.13 L348.54,381.61 L349,382.1 L349.45,382.58 L349.91,383.06 L350.36,383.54 L350.82,384.02 L351.28,384.49 L351.73,384.96 L352.19,385.43 L352.64,385.89 L353.1,386.35 L353.55,386.8 L354.01,387.25 L354.46,387.69 L354.92,388.12 L355.37,388.55 L355.83,388.97 L356.28,389.38 L356.74,389.79 L357.19,390.19 L357.65,390.57 L357.65,396.8 L280.71,396.8 Z" fill="rgba(40,165,90,0.28)" stroke="none" stroke-width="1" stroke-linejoin="round"/>
<path d="M280.71,349.46 L281.16,348.62 L281.62,347.79 L282.07,346.96 L282.53,346.14 L282.98,345.33 L283.44,344.53 L283.9,343.75 L284.35,342.99 L284.81,342.25 L285.26,341.53 L285.72,340.84 L286.17,340.17 L286.63,339.53 L287.08,338.93 L287.54,338.35 L287.99,337.81 L288.45,337.31 L288.9,336.84 L289.36,336.42 L289.81,336.03 L290.27,335.68 L290.72,335.38 L291.18,335.12 L291.64,334.9 L292.09,334.73 L292.55,334.6 L293,334.51 L293.46,334.48 L293.91,334.48 L294.37,334.53 L294.82,334.63 L295.28,334.77 L295.73,334.96 L296.19,335.18 L296.64,335.46 L297.1,335.77 L297.55,336.12 L298.01,336.52 L298.46,336.95 L298.92,337.42 L299.37,337.92 L299.83,338.46 L300.29,339.04 L300.74,339.64 L301.2,340.27 L301.65,340.93 L302.11,341.62 L302.56,342.32 L303.02,343.05 L303.47,343.8 L303.93,344.57 L304.38,345.34 L304.84,346.14 L305.29,346.94 L305.75,347.75 L306.2,348.56 L306.66,349.38 L307.11,350.19 L307.57,351.01 L308.02,351.82 L308.48,352.62 L308.94,353.42 L309.39,354.2 L309.85,354.97 L310.3,355.73 L310.76,356.46 L311.21,357.18 L311.67,357.87 L312.12,358.54 L312.58,359.19 L313.03,359.8 L313.49,360.39 L313.94,360.94 L314.4,361.47 L314.85,361.95 L315.31,362.4 L315.76,362.82 L316.22,363.19 L316.67,363.53 L317.13,363.82 L317.59,364.08 L318.04,364.29 L318.5,364.46 L318.95,364.59 L319.41,364.67 L319.86,364.71 L320.32,364.7 L320.77,364.65 L321.23,364.56 L321.68,364.43 L322.14,364.25 L322.59,364.03 L323.05,363.76 L323.5,363.46 L323.96,363.12 L324.41,362.73 L324.87,362.31 L325.32,361.85 L325.78,361.36 L326.24,360.83 L326.69,360.27 L327.15,359.68 L327.6,359.05 L328.06,358.4 L328.51,357.73 L328.97,357.03 L329.42,356.31 L329.88,355.57 L330.33,354.81 L330.79,354.04 L331.24,353.25 L331.7,352.46 L332.15,351.65 L332.61,350.84 L333.06,350.02 L333.52,349.2 L333.97,348.39 L334.43,347.58 L334.89,346.77 L335.34,345.97 L335.8,345.18 L336.25,344.4 L336.71,343.64 L337.16,342.9 L337.62,342.17 L338.07,341.47 L338.53,340.79 L338.98,340.14 L339.44,339.51 L339.89,338.91 L340.35,338.35 L340.8,337.82 L341.26,337.32 L341.71,336.86 L342.17,336.43 L342.63,336.05 L343.08,335.7 L343.54,335.4 L343.99,335.14 L344.45,334.92 L344.9,334.74 L345.36,334.61 L345.81,334.53 L346.27,334.48 L346.72,334.49 L347.18,334.54 L347.63,334.63 L348.09,334.77 L348.54,334.95 L349,335.18 L349.45,335.45 L349.91,335.76 L350.36,336.12 L350.82,336.52 L351.28,336.95 L351.73,337.43 L352.19,337.94 L352.64,338.49 L353.1,339.07 L353.55,339.68 L354.01,340.32 L354.46,341 L354.92,341.7 L355.37,342.42 L355.83,343.17 L356.28,343.93 L356.74,344.72 L357.19,345.52 L357.65,346.33 L357.65,364.71 L280.71,364.71 Z" fill="rgba(40,165,90,0.28)" stroke="none" stroke-width="1" stroke-linejoin="round"/>
<path d="M206.5,396.8 L206.96,396.8 L207.41,396.8 L207.87,396.8 L208.32,396.8 L208.78,396.8 L209.23,396.8 L209.69,396.8 L210.14,396.8 L210.6,396.8 L211.05,396.8 L211.51,396.8 L211.96,396.8 L212.42,396.8 L212.87,396.8 L213.33,396.8 L213.78,396.8 L214.24,396.8 L214.69,396.8 L215.15,396.8 L215.61,396.8 L216.06,396.8 L216.52,396.8 L216.97,396.8 L217.43,396.8 L217.88,396.8 L218.34,396.8 L218.79,396.8 L219.25,396.8 L219.7,396.8 L220.16,396.8 L220.61,396.8 L221.07,396.8 L221.52,396.8 L221.98,396.8 L222.43,396.8 L222.89,396.8 L223.34,396.8 L223.8,396.8 L224.26,396.8 L224.71,396.8 L225.17,396.8 L225.62,396.8 L226.08,396.8 L226.53,396.8 L226.99,396.8 L227.44,396.8 L227.9,396.8 L228.35,396.8 L228.81,396.8 L229.26,396.8 L229.72,396.8 L230.17,396.8 L230.63,396.8 L231.08,396.8 L231.54,396.8 L231.99,396.8 L232.45,396.8 L232.91,396.8 L233.36,396.8 L233.82,396.8 L234.27,396.8 L234.73,396.8 L235.18,396.8 L235.64,396.8 L236.09,396.8 L236.55,396.8 L237,396.79 L237.46,396.79 L237.91,396.79 L238.37,396.79 L238.82,396.79 L239.28,396.79 L239.73,396.79 L240.19,396.79 L240.65,396.79 L241.1,396.79 L241.56,396.79 L242.01,396.79 L242.47,396.79 L242.92,396.79 L243.38,396.79 L243.83,396.78 L244.29,396.78 L244.74,396.78 L245.2,396.78 L245.65,396.78 L246.11,396.78 L246.56,396.78 L247.02,396.77 L247.47,396.77 L247.93,396.77 L248.38,396.77 L248.84,396.77 L249.3,396.76 L249.75,396.76 L250.21,396.76 L250.66,396.76 L251.12,396.75 L251.57,396.75 L252.03,396.75 L252.48,396.74 L252.94,396.74 L253.39,396.73 L253.85,396.73 L254.3,396.72 L254.76,396.72 L255.21,396.71 L255.67,396.7 L256.12,396.7 L256.58,396.69 L257.03,396.68 L257.49,396.67 L257.95,396.66 L258.4,396.65 L258.86,396.64 L259.31,396.63 L259.77,396.62 L260.22,396.61 L260.68,396.59 L261.13,396.58 L261.59,396.56 L262.04,396.54 L262.5,396.52 L262.95,396.5 L263.41,396.48 L263.86,396.46 L264.32,396.43 L264.77,396.41 L265.23,396.38 L265.68,396.35 L266.14,396.31 L266.6,396.28 L267.05,396.24 L267.51,396.2 L267.96,396.15 L268.42,396.1 L268.87,396.05 L269.33,396 L269.78,395.94 L270.24,395.87 L270.69,395.81 L271.15,395.73 L271.6,395.65 L272.06,395.57 L272.51,395.48 L272.97,395.38 L273.42,395.27 L273.88,395.16 L274.33,395.04 L274.79,394.91 L275.25,394.76 L275.7,394.61 L276.16,394.45 L276.61,394.27 L277.07,394.09 L277.52,393.88 L277.98,393.66 L278.43,393.43 L278.89,393.18 L279.34,392.91 L279.8,392.61 L280.25,392.3 L280.71,391.96 L281.16,391.61 L281.62,391.24 L282.07,390.87 L282.53,390.49 L282.98,390.1 L283.44,389.7 L283.9,389.29 L284.35,388.88 L284.81,388.46 L285.26,388.03 L285.72,387.59 L286.17,387.15 L286.63,386.7 L287.08,386.25 L287.54,385.79 L287.99,385.33 L288.45,384.87 L288.9,384.4 L289.36,383.92 L289.81,383.44 L290.27,382.97 L290.72,382.48 L291.18,382 L291.64,381.51 L292.09,381.03 L292.55,380.54 L293,380.05 L293.46,379.57 L293.91,379.08 L294.37,378.59 L294.82,378.11 L295.28,377.63 L295.73,377.14 L296.19,376.66 L296.64,376.19 L297.1,375.71 L297.55,375.24 L298.01,374.78 L298.46,374.31 L298.92,373.86 L299.37,373.4 L299.83,372.95 L300.29,372.51 L300.74,372.07 L301.2,371.64 L301.65,371.21 L302.11,370.79 L302.56,370.38 L303.02,369.97 L303.47,369.57 L303.93,369.18 L304.38,368.8 L304.84,368.42 L305.29,368.06 L305.75,367.7 L306.2,367.35 L306.66,367.01 L307.11,366.68 L307.57,366.35 L308.02,366.04 L308.48,365.74 L308.94,365.45 L309.39,365.17 L309.85,364.89 L310.3,364.63 L310.76,364.38 L311.21,364.14 L311.67,363.92 L312.12,363.7 L312.58,363.49 L313.03,363.3 L313.49,363.12 L313.94,362.95 L314.4,362.79 L314.85,362.64 L315.31,362.51 L315.76,362.38 L316.22,362.27 L316.67,362.17 L317.13,362.09 L317.59,362.01 L318.04,361.95 L318.5,361.9 L318.95,361.87 L319.41,361.84 L319.86,361.83 L320.32,361.83 L320.77,361.85 L321.23,361.87 L321.68,361.91 L322.14,361.96 L322.59,362.03 L323.05,362.1 L323.5,362.19 L323.96,362.29 L324.41,362.4 L324.87,362.53 L325.32,362.67 L325.78,362.82 L326.24,362.98 L326.69,363.15 L327.15,363.33 L327.6,363.53 L328.06,363.74 L328.51,363.96 L328.97,364.19 L329.42,364.43 L329.88,364.68 L330.33,364.94 L330.79,365.22 L331.24,365.5 L331.7,365.8 L332.15,366.1 L332.61,366.41 L333.06,366.74 L333.52,367.07 L333.97,367.41 L334.43,367.76 L334.89,368.13 L335.34,368.49 L335.8,368.87 L336.25,369.26 L336.71,369.65 L337.16,370.05 L337.62,370.46 L338.07,370.87 L338.53,371.29 L338.98,371.72 L339.44,372.15 L339.89,372.59 L340.35,373.04 L340.8,373.49 L341.26,373.94 L341.71,374.4 L342.17,374.87 L342.63,375.34 L343.08,375.81 L343.54,376.28 L343.99,376.76 L344.45,377.24 L344.9,377.72 L345.36,378.21 L345.81,378.69 L346.27,379.18 L346.72,379.67 L347.18,380.15 L347.63,380.64 L348.09,381.13 L348.54,381.61 L349,382.1 L349.45,382.58 L349.91,383.06 L350.36,383.54 L350.82,384.02 L351.28,384.49 L351.73,384.96 L352.19,385.43 L352.64,385.89 L353.1,386.35 L353.55,386.8 L354.01,387.25 L354.46,387.69 L354.92,388.12 L355.37,388.55 L355.83,388.97 L356.28,389.38 L356.74,389.79 L357.19,390.19 L357.65,390.57 L358.1,390.95 L358.56,391.33 L359.01,391.69 L359.47,392.04 L359.93,392.37 L360.38,392.68 L360.84,392.97 L361.29,393.23 L361.75,393.48 L362.2,393.71 L362.66,393.93 L363.11,394.13 L363.57,394.31 L364.02,394.49 L364.48,394.65 L364.93,394.8 L365.39,394.93 L365.84,395.06 L366.3,395.18 L366.75,395.3 L367.21,395.4 L367.66,395.5 L368.12,395.59 L368.58,395.67 L369.03,395.75 L369.49,395.82 L369.94,395.89 L370.4,395.95 L370.85,396.01 L371.31,396.06 L371.76,396.11 L372.22,396.16 L372.67,396.2 L373.13,396.25 L373.58,396.28 L374.04,396.32 L374.49,396.35 L374.95,396.38 L375.4,396.41 L375.86,396.44 L376.31,396.46 L376.77,396.49 L377.23,396.51 L377.68,396.53 L378.14,396.55 L378.59,396.56 L379.05,396.58 L379.5,396.59 L379.96,396.61 L380.41,396.62 L380.87,396.63 L381.32,396.64 L381.78,396.66 L382.23,396.67 L382.69,396.67 L383.14,396.68 L383.6,396.69 L384.05,396.7 L384.51,396.71 L384.96,396.71 L385.42,396.72 L385.88,396.72 L386.33,396.73 L386.79,396.73 L387.24,396.74 L387.7,396.74 L388.15,396.75 L388.61,396.75 L389.06,396.75 L389.52,396.76 L389.97,396.76 L390.43,396.76 L390.88,396.76 L391.34,396.77 L391.79,396.77 L392.25,396.77 L392.7,396.77 L393.16,396.78 L393.61,396.78 L394.07,396.78 L394.53,396.78 L394.98,396.78 L395.44,396.78 L395.89,396.78 L396.35,396.78 L396.8,396.79 L397.26,396.79 L397.71,396.79 L398.17,396.79 L398.62,396.79 L399.08,396.79 L399.53,396.79 L399.99,396.79 L400.44,396.79 L400.9,396.79 L401.35,396.79 L401.81,396.79 L402.27,396.79 L402.72,396.79 L403.18,396.79 L403.63,396.8 L404.09,396.8 L404.54,396.8 L405,396.8 L405.45,396.8 L405.91,396.8 L406.36,396.8 L406.82,396.8 L407.27,396.8 L407.73,396.8 L408.18,396.8 L408.64,396.8 L409.09,396.8 L409.55,396.8 L410,396.8 L410.46,396.8 L410.92,396.8 L411.37,396.8 L411.83,396.8 L412.28,396.8 L412.74,396.8 L413.19,396.8 L413.65,396.8 L414.1,396.8 L414.56,396.8 L415.01,396.8 L415.47,396.8 L415.92,396.8 L416.38,396.8 L416.83,396.8 L417.29,396.8 L417.74,396.8 L418.2,396.8 L418.65,396.8 L419.11,396.8 L419.57,396.8 L420.02,396.8 L420.48,396.8 L420.93,396.8 L421.39,396.8 L421.84,396.8 L422.3,396.8 L422.75,396.8 L423.21,396.8 L423.66,396.8 L424.12,396.8 L424.57,396.8 L425.03,396.8 L425.48,396.8 L425.94,396.8 L426.39,396.8 L426.85,396.8 L427.3,396.8 L427.76,396.8 L428.22,396.8 L428.67,396.8 L429.13,396.8 L429.58,396.8 L430.04,396.8 L430.49,396.8 L430.95,396.8 L431.4,396.8 L431.86,396.8 L432.31,396.8 L432.77,396.8 L433.22,396.8 L433.68,396.8" fill="none" stroke="#22a455" stroke-width="2.3"/>
<path d="M206.5,364.71 L206.96,364.71 L207.41,364.71 L207.87,364.71 L208.32,364.71 L208.78,364.71 L209.23,364.71 L209.69,364.71 L210.14,364.71 L210.6,364.71 L211.05,364.71 L211.51,364.71 L211.96,364.71 L212.42,364.71 L212.87,364.71 L213.33,364.71 L213.78,364.71 L214.24,364.71 L214.69,364.71 L215.15,364.71 L215.61,364.71 L216.06,364.71 L216.52,364.71 L216.97,364.71 L217.43,364.71 L217.88,364.71 L218.34,364.71 L218.79,364.7 L219.25,364.7 L219.7,364.7 L220.16,364.7 L220.61,364.7 L221.07,364.7 L221.52,364.7 L221.98,364.7 L222.43,364.7 L222.89,364.7 L223.34,364.7 L223.8,364.7 L224.26,364.7 L224.71,364.69 L225.17,364.69 L225.62,364.69 L226.08,364.69 L226.53,364.69 L226.99,364.69 L227.44,364.69 L227.9,364.68 L228.35,364.68 L228.81,364.68 L229.26,364.68 L229.72,364.68 L230.17,364.68 L230.63,364.67 L231.08,364.67 L231.54,364.67 L231.99,364.67 L232.45,364.66 L232.91,364.66 L233.36,364.66 L233.82,364.65 L234.27,364.65 L234.73,364.65 L235.18,364.64 L235.64,364.64 L236.09,364.64 L236.55,364.63 L237,364.63 L237.46,364.62 L237.91,364.62 L238.37,364.61 L238.82,364.61 L239.28,364.6 L239.73,364.59 L240.19,364.59 L240.65,364.58 L241.1,364.57 L241.56,364.56 L242.01,364.56 L242.47,364.55 L242.92,364.54 L243.38,364.53 L243.83,364.52 L244.29,364.51 L244.74,364.5 L245.2,364.49 L245.65,364.47 L246.11,364.46 L246.56,364.45 L247.02,364.43 L247.47,364.42 L247.93,364.4 L248.38,364.38 L248.84,364.36 L249.3,364.34 L249.75,364.32 L250.21,364.3 L250.66,364.28 L251.12,364.26 L251.57,364.23 L252.03,364.21 L252.48,364.18 L252.94,364.15 L253.39,364.12 L253.85,364.08 L254.3,364.05 L254.76,364.01 L255.21,363.98 L255.67,363.94 L256.12,363.89 L256.58,363.85 L257.03,363.8 L257.49,363.75 L257.95,363.7 L258.4,363.64 L258.86,363.58 L259.31,363.52 L259.77,363.46 L260.22,363.39 L260.68,363.32 L261.13,363.24 L261.59,363.16 L262.04,363.07 L262.5,362.98 L262.95,362.89 L263.41,362.79 L263.86,362.68 L264.32,362.57 L264.77,362.45 L265.23,362.33 L265.68,362.19 L266.14,362.06 L266.6,361.91 L267.05,361.75 L267.51,361.59 L267.96,361.42 L268.42,361.23 L268.87,361.04 L269.33,360.84 L269.78,360.62 L270.24,360.39 L270.69,360.15 L271.15,359.9 L271.6,359.63 L272.06,359.34 L272.51,359.04 L272.97,358.72 L273.42,358.39 L273.88,358.03 L274.33,357.66 L274.79,357.26 L275.25,356.84 L275.7,356.4 L276.16,355.93 L276.61,355.43 L277.07,354.91 L277.52,354.35 L277.98,353.77 L278.43,353.15 L278.89,352.49 L279.34,351.8 L279.8,351.06 L280.25,350.28 L280.71,349.46 L281.16,348.62 L281.62,347.79 L282.07,346.96 L282.53,346.14 L282.98,345.33 L283.44,344.53 L283.9,343.75 L284.35,342.99 L284.81,342.25 L285.26,341.53 L285.72,340.84 L286.17,340.17 L286.63,339.53 L287.08,338.93 L287.54,338.35 L287.99,337.81 L288.45,337.31 L288.9,336.84 L289.36,336.42 L289.81,336.03 L290.27,335.68 L290.72,335.38 L291.18,335.12 L291.64,334.9 L292.09,334.73 L292.55,334.6 L293,334.51 L293.46,334.48 L293.91,334.48 L294.37,334.53 L294.82,334.63 L295.28,334.77 L295.73,334.96 L296.19,335.18 L296.64,335.46 L297.1,335.77 L297.55,336.12 L298.01,336.52 L298.46,336.95 L298.92,337.42 L299.37,337.92 L299.83,338.46 L300.29,339.04 L300.74,339.64 L301.2,340.27 L301.65,340.93 L302.11,341.62 L302.56,342.32 L303.02,343.05 L303.47,343.8 L303.93,344.57 L304.38,345.34 L304.84,346.14 L305.29,346.94 L305.75,347.75 L306.2,348.56 L306.66,349.38 L307.11,350.19 L307.57,351.01 L308.02,351.82 L308.48,352.62 L308.94,353.42 L309.39,354.2 L309.85,354.97 L310.3,355.73 L310.76,356.46 L311.21,357.18 L311.67,357.87 L312.12,358.54 L312.58,359.19 L313.03,359.8 L313.49,360.39 L313.94,360.94 L314.4,361.47 L314.85,361.95 L315.31,362.4 L315.76,362.82 L316.22,363.19 L316.67,363.53 L317.13,363.82 L317.59,364.08 L318.04,364.29 L318.5,364.46 L318.95,364.59 L319.41,364.67 L319.86,364.71 L320.32,364.7 L320.77,364.65 L321.23,364.56 L321.68,364.43 L322.14,364.25 L322.59,364.03 L323.05,363.76 L323.5,363.46 L323.96,363.12 L324.41,362.73 L324.87,362.31 L325.32,361.85 L325.78,361.36 L326.24,360.83 L326.69,360.27 L327.15,359.68 L327.6,359.05 L328.06,358.4 L328.51,357.73 L328.97,357.03 L329.42,356.31 L329.88,355.57 L330.33,354.81 L330.79,354.04 L331.24,353.25 L331.7,352.46 L332.15,351.65 L332.61,350.84 L333.06,350.02 L333.52,349.2 L333.97,348.39 L334.43,347.58 L334.89,346.77 L335.34,345.97 L335.8,345.18 L336.25,344.4 L336.71,343.64 L337.16,342.9 L337.62,342.17 L338.07,341.47 L338.53,340.79 L338.98,340.14 L339.44,339.51 L339.89,338.91 L340.35,338.35 L340.8,337.82 L341.26,337.32 L341.71,336.86 L342.17,336.43 L342.63,336.05 L343.08,335.7 L343.54,335.4 L343.99,335.14 L344.45,334.92 L344.9,334.74 L345.36,334.61 L345.81,334.53 L346.27,334.48 L346.72,334.49 L347.18,334.54 L347.63,334.63 L348.09,334.77 L348.54,334.95 L349,335.18 L349.45,335.45 L349.91,335.76 L350.36,336.12 L350.82,336.52 L351.28,336.95 L351.73,337.43 L352.19,337.94 L352.64,338.49 L353.1,339.07 L353.55,339.68 L354.01,340.32 L354.46,341 L354.92,341.7 L355.37,342.42 L355.83,343.17 L356.28,343.93 L356.74,344.72 L357.19,345.52 L357.65,346.33 L358.1,347.15 L358.56,347.98 L359.01,348.82 L359.47,349.66 L359.93,350.47 L360.38,351.23 L360.84,351.96 L361.29,352.64 L361.75,353.29 L362.2,353.9 L362.66,354.48 L363.11,355.03 L363.57,355.55 L364.02,356.03 L364.48,356.5 L364.93,356.93 L365.39,357.35 L365.84,357.74 L366.3,358.11 L366.75,358.46 L367.21,358.79 L367.66,359.11 L368.12,359.4 L368.58,359.68 L369.03,359.95 L369.49,360.2 L369.94,360.44 L370.4,360.66 L370.85,360.88 L371.31,361.08 L371.76,361.27 L372.22,361.45 L372.67,361.62 L373.13,361.78 L373.58,361.94 L374.04,362.08 L374.49,362.22 L374.95,362.35 L375.4,362.47 L375.86,362.59 L376.31,362.7 L376.77,362.8 L377.23,362.9 L377.68,363 L378.14,363.09 L378.59,363.17 L379.05,363.25 L379.5,363.33 L379.96,363.4 L380.41,363.47 L380.87,363.53 L381.32,363.59 L381.78,363.65 L382.23,363.71 L382.69,363.76 L383.14,363.81 L383.6,363.85 L384.05,363.9 L384.51,363.94 L384.96,363.98 L385.42,364.02 L385.88,364.06 L386.33,364.09 L386.79,364.12 L387.24,364.15 L387.7,364.18 L388.15,364.21 L388.61,364.24 L389.06,364.26 L389.52,364.28 L389.97,364.31 L390.43,364.33 L390.88,364.35 L391.34,364.37 L391.79,364.38 L392.25,364.4 L392.7,364.42 L393.16,364.43 L393.61,364.45 L394.07,364.46 L394.53,364.47 L394.98,364.49 L395.44,364.5 L395.89,364.51 L396.35,364.52 L396.8,364.53 L397.26,364.54 L397.71,364.55 L398.17,364.56 L398.62,364.57 L399.08,364.57 L399.53,364.58 L399.99,364.59 L400.44,364.59 L400.9,364.6 L401.35,364.61 L401.81,364.61 L402.27,364.62 L402.72,364.62 L403.18,364.63 L403.63,364.63 L404.09,364.64 L404.54,364.64 L405,364.64 L405.45,364.65 L405.91,364.65 L406.36,364.65 L406.82,364.66 L407.27,364.66 L407.73,364.66 L408.18,364.67 L408.64,364.67 L409.09,364.67 L409.55,364.67 L410,364.68 L410.46,364.68 L410.92,364.68 L411.37,364.68 L411.83,364.68 L412.28,364.68 L412.74,364.69 L413.19,364.69 L413.65,364.69 L414.1,364.69 L414.56,364.69 L415.01,364.69 L415.47,364.69 L415.92,364.7 L416.38,364.7 L416.83,364.7 L417.29,364.7 L417.74,364.7 L418.2,364.7 L418.65,364.7 L419.11,364.7 L419.57,364.7 L420.02,364.7 L420.48,364.7 L420.93,364.7 L421.39,364.7 L421.84,364.7 L422.3,364.71 L422.75,364.71 L423.21,364.71 L423.66,364.71 L424.12,364.71 L424.57,364.71 L425.03,364.71 L425.48,364.71 L425.94,364.71 L426.39,364.71 L426.85,364.71 L427.3,364.71 L427.76,364.71 L428.22,364.71 L428.67,364.71 L429.13,364.71 L429.58,364.71 L430.04,364.71 L430.49,364.71 L430.95,364.71 L431.4,364.71 L431.86,364.71 L432.31,364.71 L432.77,364.71 L433.22,364.71 L433.68,364.71" fill="none" stroke="#22a455" stroke-width="2.3"/>
<path d="M206.5,335.09 L207.25,335.09 L208,335.09 L208.75,335.09 L209.49,335.09 L210.24,335.09 L210.99,335.09 L211.74,335.09 L212.49,335.09 L213.24,335.09 L213.99,335.09 L214.73,335.09 L215.48,335.09 L216.23,335.09 L216.98,335.09 L217.73,335.09 L218.48,335.09 L219.23,335.09 L219.97,335.09 L220.72,335.09 L221.47,335.09 L222.22,335.09 L222.97,335.09 L223.72,335.09 L224.47,335.09 L225.22,335.09 L225.96,335.09 L226.71,335.09 L227.46,335.09 L228.21,335.09 L228.96,335.09 L229.71,335.09 L230.46,335.09 L231.2,335.09 L231.95,335.09 L232.7,335.09 L233.45,335.09 L234.2,335.09 L234.95,335.09 L235.7,335.09 L236.44,335.09 L237.19,335.09 L237.94,335.09 L238.69,335.09 L239.44,335.09 L240.19,335.09 L240.94,335.09 L241.68,335.09 L242.43,335.09 L243.18,335.09 L243.93,335.09 L244.68,335.09 L245.43,335.09 L246.18,335.09 L246.92,335.09 L247.67,335.09 L248.42,335.09 L249.17,335.09 L249.92,335.09 L250.67,335.09 L251.42,335.09 L252.16,335.09 L252.91,335.09 L253.66,335.09 L254.41,335.03 L255.16,334.88 L255.91,334.74 L256.66,334.59 L257.41,334.44 L258.15,334.29 L258.9,334.14 L259.65,333.99 L260.4,333.85 L261.15,333.7 L261.9,333.55 L262.65,333.4 L263.39,333.25 L264.14,333.11 L264.89,332.96 L265.64,332.81 L266.39,332.66 L267.14,332.51 L267.89,332.36 L268.63,332.22 L269.38,332.07 L270.13,331.92 L270.88,331.77 L271.63,331.62 L272.38,331.47 L273.13,331.33 L273.87,331.18 L274.62,331.03 L275.37,330.88 L276.12,330.73 L276.87,330.59 L277.62,330.44 L278.37,330.29 L279.11,330.14 L279.86,329.99 L280.61,329.84 L280.61,418.81 L281.41,418.65 L282.2,418.49 L283,418.34 L283.8,418.19 L284.59,418.04 L285.39,417.9 L286.18,417.75 L286.98,417.62 L287.78,417.48 L288.57,417.35 L289.37,417.22 L290.17,417.1 L290.96,416.98 L291.76,416.86 L292.55,416.75 L293.35,416.63 L294.15,416.53 L294.94,416.42 L295.74,416.32 L296.53,416.22 L297.33,416.13 L298.13,416.03 L298.92,415.95 L299.72,415.86 L300.52,415.78 L301.31,415.7 L302.11,415.63 L302.9,415.55 L303.7,415.48 L304.5,415.42 L305.29,415.36 L306.09,415.3 L306.88,415.24 L307.68,415.19 L308.48,415.14 L309.27,415.1 L310.07,415.05 L310.86,415.01 L311.66,414.98 L312.46,414.94 L313.25,414.92 L314.05,414.89 L314.85,414.87 L315.64,414.85 L316.44,414.83 L317.23,414.82 L318.03,414.81 L318.83,414.8 L319.62,414.8 L320.42,414.8 L321.21,414.8 L322.01,414.81 L322.81,414.82 L323.6,414.83 L324.4,414.85 L325.19,414.87 L325.99,414.89 L326.79,414.92 L327.58,414.95 L328.38,414.98 L329.18,415.02 L329.97,415.06 L330.77,415.1 L331.56,415.15 L332.36,415.2 L333.16,415.25 L333.95,415.3 L334.75,415.36 L335.54,415.43 L336.34,415.49 L337.14,415.56 L337.93,415.63 L338.73,415.71 L339.52,415.79 L340.32,415.87 L341.12,415.96 L341.91,416.05 L342.71,416.14 L343.51,416.23 L344.3,416.33 L345.1,416.43 L345.89,416.54 L346.69,416.65 L347.49,416.76 L348.28,416.87 L349.08,416.99 L349.87,417.11 L350.67,417.24 L351.47,417.37 L352.26,417.5 L353.06,417.63 L353.86,417.77 L354.65,417.91 L355.45,418.06 L356.24,418.21 L357.04,418.36 L357.84,418.51 L358.63,418.67 L359.43,418.83 L359.43,329.84 L360.18,330 L360.93,330.16 L361.69,330.32 L362.44,330.48 L363.2,330.63 L363.95,330.79 L364.7,330.95 L365.46,331.11 L366.21,331.26 L366.96,331.42 L367.72,331.58 L368.47,331.74 L369.22,331.9 L369.98,332.05 L370.73,332.21 L371.48,332.37 L372.24,332.53 L372.99,332.68 L373.74,332.84 L374.5,333 L375.25,333.16 L376,333.31 L376.76,333.47 L377.51,333.63 L378.26,333.79 L379.02,333.95 L379.77,334.1 L380.52,334.26 L381.28,334.42 L382.03,334.58 L382.79,334.73 L383.54,334.89 L384.29,335.05 L385.05,335.09 L385.8,335.09 L386.55,335.09 L387.31,335.09 L388.06,335.09 L388.81,335.09 L389.57,335.09 L390.32,335.09 L391.07,335.09 L391.83,335.09 L392.58,335.09 L393.33,335.09 L394.09,335.09 L394.84,335.09 L395.59,335.09 L396.35,335.09 L397.1,335.09 L397.85,335.09 L398.61,335.09 L399.36,335.09 L400.11,335.09 L400.87,335.09 L401.62,335.09 L402.37,335.09 L403.13,335.09 L403.88,335.09 L404.64,335.09 L405.39,335.09 L406.14,335.09 L406.9,335.09 L407.65,335.09 L408.4,335.09 L409.16,335.09 L409.91,335.09 L410.66,335.09 L411.42,335.09 L412.17,335.09 L412.92,335.09 L413.68,335.09 L414.43,335.09 L415.18,335.09 L415.94,335.09 L416.69,335.09 L417.44,335.09 L418.2,335.09 L418.95,335.09 L419.7,335.09 L420.46,335.09 L421.21,335.09 L421.96,335.09 L422.72,335.09 L423.47,335.09 L424.23,335.09 L424.98,335.09 L425.73,335.09 L426.49,335.09 L427.24,335.09 L427.99,335.09 L428.75,335.09 L429.5,335.09 L430.25,335.09 L431.01,335.09 L431.76,335.09 L432.51,335.09 L433.27,335.09 L434.02,335.09" fill="none" stroke="#000" stroke-width="2.3" stroke-linejoin="miter"/>
<line x1="409.8" y1="370.61" x2="409.8" y2="391.3" stroke="#22a455" stroke-width="3"/>
<polyline points="405.2,374.41 409.8,368.61 414.4,374.41" fill="none" stroke="#22a455" stroke-width="2.6" stroke-linejoin="miter"/>
<polyline points="405.2,387.5 409.8,393.3 414.4,387.5" fill="none" stroke="#22a455" stroke-width="2.6" stroke-linejoin="miter"/>
</g>
<rect x="206.5" y="322.7" width="227.2" height="109.6" fill="none" stroke="#555" stroke-width="0.9"/>
<line x1="206.5" y1="432.3" x2="206.5" y2="429.8" stroke="#555" stroke-width="0.9"/>
<text x="201.91" y="454" style="font-family:'Liberation Sans', sans-serif;font-size:16.5px" fill="#111">0</text>
<line x1="254.5" y1="432.3" x2="254.5" y2="429.8" stroke="#555" stroke-width="0.9"/>
<text x="249.91" y="454" style="font-family:'Liberation Sans', sans-serif;font-size:16.5px" fill="#111">5</text>
<line x1="302.5" y1="432.3" x2="302.5" y2="429.8" stroke="#555" stroke-width="0.9"/>
<path d="M0.3726,0 L0.2847,0 L0.2847,-0.560 C0.2637,-0.540 0.235,-0.519 0.1987,-0.497 C0.1625,-0.475 0.1303,-0.459 0.104,-0.454 L0.104,-0.539 C0.1504,-0.561 0.1952,-0.589 0.2446,-0.630 C0.2940,-0.672 0.3090,-0.695 0.3228,-0.716 L0.3726,-0.716 Z" transform="translate(293.32,454) scale(16.5)" fill="#111"/>
<text x="302.5" y="454" style="font-family:'Liberation Sans', sans-serif;font-size:16.5px" fill="#111">0</text>
<line x1="350.5" y1="432.3" x2="350.5" y2="429.8" stroke="#555" stroke-width="0.9"/>
<path d="M0.3726,0 L0.2847,0 L0.2847,-0.560 C0.2637,-0.540 0.235,-0.519 0.1987,-0.497 C0.1625,-0.475 0.1303,-0.459 0.104,-0.454 L0.104,-0.539 C0.1504,-0.561 0.1952,-0.589 0.2446,-0.630 C0.2940,-0.672 0.3090,-0.695 0.3228,-0.716 L0.3726,-0.716 Z" transform="translate(341.32,454) scale(16.5)" fill="#111"/>
<text x="350.5" y="454" style="font-family:'Liberation Sans', sans-serif;font-size:16.5px" fill="#111">5</text>
<line x1="398.5" y1="432.3" x2="398.5" y2="429.8" stroke="#555" stroke-width="0.9"/>
<text x="389.32" y="454" style="font-family:'Liberation Sans', sans-serif;font-size:16.5px" fill="#111">20</text>
<line x1="206.5" y1="417.37" x2="209" y2="417.37" stroke="#555" stroke-width="0.9"/>
<text x="172.17" y="423.19" style="font-family:'Liberation Sans', sans-serif;font-size:16.5px" fill="#111">-0.</text>
<path d="M0.3726,0 L0.2847,0 L0.2847,-0.560 C0.2637,-0.540 0.235,-0.519 0.1987,-0.497 C0.1625,-0.475 0.1303,-0.459 0.104,-0.454 L0.104,-0.539 C0.1504,-0.561 0.1952,-0.589 0.2446,-0.630 C0.2940,-0.672 0.3090,-0.695 0.3228,-0.716 L0.3726,-0.716 Z" transform="translate(191.42,423.19) scale(16.5)" fill="#111"/>
<line x1="206.5" y1="396.8" x2="209" y2="396.8" stroke="#555" stroke-width="0.9"/>
<text x="191.42" y="402.49" style="font-family:'Liberation Sans', sans-serif;font-size:16.5px" fill="#111">0</text>
<line x1="206.5" y1="376.23" x2="209" y2="376.23" stroke="#555" stroke-width="0.9"/>
<text x="177.66" y="382.05" style="font-family:'Liberation Sans', sans-serif;font-size:16.5px" fill="#111">0.</text>
<path d="M0.3726,0 L0.2847,0 L0.2847,-0.560 C0.2637,-0.540 0.235,-0.519 0.1987,-0.497 C0.1625,-0.475 0.1303,-0.459 0.104,-0.454 L0.104,-0.539 C0.1504,-0.561 0.1952,-0.589 0.2446,-0.630 C0.2940,-0.672 0.3090,-0.695 0.3228,-0.716 L0.3726,-0.716 Z" transform="translate(191.42,382.05) scale(16.5)" fill="#111"/>
<line x1="206.5" y1="355.66" x2="209" y2="355.66" stroke="#555" stroke-width="0.9"/>
<text x="177.66" y="361.35" style="font-family:'Liberation Sans', sans-serif;font-size:16.5px" fill="#111">0.2</text>
<line x1="206.5" y1="335.09" x2="209" y2="335.09" stroke="#555" stroke-width="0.9"/>
<text x="177.66" y="340.78" style="font-family:'Liberation Sans', sans-serif;font-size:16.5px" fill="#111">0.3</text>
<text x="0" y="0" transform="translate(170.04,424.71) rotate(-90)" style="font-family:'Liberation Sans', sans-serif;font-size:17.57px" fill="#111">Energy (eV)</text>
<text x="290.13" y="467.61" style="font-family:'Liberation Sans', sans-serif;font-size:16.15px" fill="#111" textLength="47.53" lengthAdjust="spacingAndGlyphs">z (nm)</text>
<text x="30.69" y="29.39" style="font-family:'Liberation Sans', sans-serif;font-weight:bold;font-size:28.13px" fill="#000">(a)</text>
<line x1="673.3" y1="29.4" x2="673.3" y2="183" stroke="#dcdcdc" stroke-width="1"/>
<line x1="787.8" y1="29.4" x2="787.8" y2="183" stroke="#dcdcdc" stroke-width="1"/>
<line x1="902.3" y1="29.4" x2="902.3" y2="183" stroke="#dcdcdc" stroke-width="1"/>
<line x1="558.8" y1="106.2" x2="1016.8" y2="106.2" stroke="#dcdcdc" stroke-width="1"/>
<path d="M558.8,32.73 L559.37,32.76 L559.94,32.79 L560.52,32.82 L561.09,32.86 L561.66,32.89 L562.24,32.92 L562.81,32.95 L563.38,32.99 L563.95,33.02 L564.52,33.06 L565.1,33.09 L565.67,33.13 L566.24,33.16 L566.81,33.2 L567.39,33.24 L567.96,33.28 L568.53,33.32 L569.11,33.36 L569.68,33.4 L570.25,33.44 L570.82,33.48 L571.39,33.52 L571.97,33.56 L572.54,33.6 L573.11,33.65 L573.68,33.69 L574.26,33.74 L574.83,33.78 L575.4,33.83 L575.97,33.88 L576.55,33.93 L577.12,33.98 L577.69,34.03 L578.26,34.08 L578.84,34.13 L579.41,34.18 L579.98,34.24 L580.55,34.29 L581.13,34.35 L581.7,34.4 L582.27,34.46 L582.84,34.52 L583.42,34.58 L583.99,34.64 L584.56,34.7 L585.13,34.76 L585.71,34.83 L586.28,34.89 L586.85,34.96 L587.42,35.03 L588,35.09 L588.57,35.17 L589.14,35.24 L589.71,35.31 L590.29,35.38 L590.86,35.46 L591.43,35.54 L592,35.62 L592.58,35.7 L593.15,35.78 L593.72,35.86 L594.29,35.95 L594.87,36.03 L595.44,36.12 L596.01,36.21 L596.58,36.31 L597.16,36.4 L597.73,36.5 L598.3,36.59 L598.88,36.7 L599.45,36.8 L600.02,36.9 L600.59,37.01 L601.16,37.12 L601.74,37.23 L602.31,37.35 L602.88,37.46 L603.45,37.58 L604.03,37.7 L604.6,37.83 L605.17,37.96 L605.75,38.09 L606.32,38.22 L606.89,38.36 L607.46,38.5 L608.03,38.64 L608.61,38.79 L609.18,38.94 L609.75,39.1 L610.32,39.25 L610.9,39.42 L611.47,39.58 L612.04,39.75 L612.62,39.93 L613.19,40.11 L613.76,40.29 L614.33,40.48 L614.9,40.67 L615.48,40.87 L616.05,41.08 L616.62,41.29 L617.19,41.5 L617.77,41.72 L618.34,41.95 L618.91,42.18 L619.48,42.42 L620.06,42.67 L620.63,42.92 L621.2,43.18 L621.77,43.45 L622.35,43.73 L622.92,44.01 L623.49,44.3 L624.06,44.6 L624.64,44.91 L625.21,45.23 L625.78,45.56 L626.35,45.9 L626.93,46.25 L627.5,46.61 L628.07,46.99 L628.64,47.37 L629.22,47.77 L629.79,48.18 L630.36,48.6 L630.93,49.04 L631.51,49.49 L632.08,49.96 L632.65,50.44 L633.22,50.94 L633.8,51.45 L634.37,51.99 L634.94,52.54 L635.51,53.11 L636.09,53.7 L636.66,54.32 L637.23,54.95 L637.8,55.61 L638.38,56.29 L638.95,57 L639.52,57.74 L640.09,58.5 L640.67,59.29 L641.24,60.11 L641.81,60.96 L642.38,61.84 L642.96,62.76 L643.53,63.72 L644.1,64.71 L644.67,65.74 L645.25,66.81 L645.82,67.92 L646.39,69.08 L646.96,70.29 L647.54,71.54 L648.11,72.84 L648.68,74.2 L649.25,75.6 L649.83,77.07 L650.4,78.59 L650.97,80.18 L651.54,81.82 L652.12,83.53 L652.69,85.31 L653.26,87.16 L653.83,89.07 L654.41,91.06 L654.98,93.12 L655.55,95.26 L656.12,97.47 L656.7,99.76 L657.27,102.12 L657.84,104.55 L658.41,107.06 L658.99,109.64 L659.56,112.29 L660.13,115 L660.7,117.77 L661.28,120.6 L661.85,123.47 L662.42,126.37 L663,129.3 L663.57,132.24 L664.14,135.18 L664.71,138.11 L665.28,140.99 L665.86,143.83 L666.43,146.59 L667,149.26 L667.57,151.81 L668.15,154.22 L668.72,156.46 L669.29,158.52 L669.87,160.36 L670.44,161.98 L671.01,163.34 L671.58,164.44 L672.15,165.26 L672.73,165.78 L673.3,166.01 L673.87,165.93 L674.44,165.56 L675.02,164.89 L675.59,163.93 L676.16,162.7 L676.73,161.21 L677.31,159.48 L677.88,157.52 L678.45,155.37 L679.02,153.05 L679.6,150.57 L680.17,147.96 L680.74,145.25 L681.31,142.45 L681.89,139.59 L682.46,136.68 L683.03,133.76 L683.61,130.82 L684.18,127.89 L684.75,124.97 L685.32,122.09 L685.89,119.25 L686.47,116.46 L687.04,113.72 L687.61,111.05 L688.18,108.44 L688.76,105.9 L689.33,103.44 L689.9,101.05 L690.47,98.73 L691.05,96.49 L691.62,94.32 L692.19,92.23 L692.76,90.22 L693.34,88.27 L693.91,86.4 L694.48,84.6 L695.05,82.86 L695.63,81.19 L696.2,79.59 L696.77,78.04 L697.34,76.56 L697.92,75.13 L698.49,73.76 L699.06,72.44 L699.63,71.17 L700.21,69.95 L700.78,68.78 L701.35,67.65 L701.92,66.57 L702.5,65.53 L703.07,64.53 L703.64,63.56 L704.21,62.64 L704.79,61.74 L705.36,60.88 L705.93,60.06 L706.5,59.26 L707.08,58.5 L707.65,57.76 L708.22,57.05 L708.79,56.36 L709.37,55.7 L709.94,55.06 L710.51,54.45 L711.08,53.85 L711.66,53.28 L712.23,52.73 L712.8,52.2 L713.38,51.68 L713.95,51.18 L714.52,50.7 L715.09,50.24 L715.66,49.79 L716.24,49.35 L716.81,48.93 L717.38,48.53 L717.95,48.13 L718.53,47.75 L719.1,47.39 L719.67,47.03 L720.24,46.68 L720.82,46.35 L721.39,46.02 L721.96,45.71 L722.53,45.41 L723.11,45.11 L723.68,44.82 L724.25,44.55 L724.82,44.28 L725.4,44.02 L725.97,43.76 L726.54,43.52 L727.12,43.28 L727.69,43.04 L728.26,42.82 L728.83,42.6 L729.4,42.39 L729.98,42.18 L730.55,41.98 L731.12,41.78 L731.69,41.59 L732.27,41.41 L732.84,41.23 L733.41,41.06 L733.98,40.89 L734.56,40.72 L735.13,40.56 L735.7,40.4 L736.27,40.25 L736.85,40.1 L737.42,39.96 L737.99,39.82 L738.56,39.68 L739.14,39.55 L739.71,39.42 L740.28,39.29 L740.86,39.17 L741.43,39.05 L742,38.93 L742.57,38.82 L743.14,38.71 L743.72,38.6 L744.29,38.5 L744.86,38.39 L745.43,38.3 L746.01,38.2 L746.58,38.1 L747.15,38.01 L747.72,37.92 L748.3,37.83 L748.87,37.75 L749.44,37.67 L750.01,37.58 L750.59,37.51 L751.16,37.43 L751.73,37.35 L752.3,37.28 L752.88,37.21 L753.45,37.14 L754.02,37.07 L754.59,37.01 L755.17,36.94 L755.74,36.88 L756.31,36.82 L756.88,36.76 L757.46,36.71 L758.03,36.65 L758.6,36.6 L759.17,36.54 L759.75,36.49 L760.32,36.44 L760.89,36.39 L761.46,36.35 L762.04,36.3 L762.61,36.26 L763.18,36.21 L763.75,36.17 L764.33,36.13 L764.9,36.09 L765.47,36.05 L766.04,36.02 L766.62,35.98 L767.19,35.95 L767.76,35.91 L768.33,35.88 L768.91,35.85 L769.48,35.82 L770.05,35.79 L770.62,35.76 L771.2,35.74 L771.77,35.71 L772.34,35.68 L772.91,35.66 L773.49,35.64 L774.06,35.62 L774.63,35.6 L775.2,35.58 L775.78,35.56 L776.35,35.54 L776.92,35.52 L777.5,35.5 L778.07,35.49 L778.64,35.47 L779.21,35.46 L779.78,35.45 L780.36,35.44 L780.93,35.43 L781.5,35.42 L782.07,35.41 L782.65,35.4 L783.22,35.39 L783.79,35.39 L784.37,35.38 L784.94,35.38 L785.51,35.37 L786.08,35.37 L786.65,35.37 L787.23,35.36 L787.8,35.36 L788.37,35.36 L788.94,35.37 L789.52,35.37 L790.09,35.37 L790.66,35.38 L791.24,35.38 L791.81,35.39 L792.38,35.39 L792.95,35.4 L793.52,35.41 L794.1,35.42 L794.67,35.43 L795.24,35.44 L795.81,35.45 L796.39,35.46 L796.96,35.47 L797.53,35.49 L798.1,35.5 L798.68,35.52 L799.25,35.54 L799.82,35.56 L800.39,35.58 L800.97,35.6 L801.54,35.62 L802.11,35.64 L802.68,35.66 L803.26,35.68 L803.83,35.71 L804.4,35.74 L804.97,35.76 L805.55,35.79 L806.12,35.82 L806.69,35.85 L807.26,35.88 L807.84,35.91 L808.41,35.95 L808.98,35.98 L809.55,36.02 L810.13,36.05 L810.7,36.09 L811.27,36.13 L811.84,36.17 L812.42,36.21 L812.99,36.26 L813.56,36.3 L814.13,36.35 L814.71,36.39 L815.28,36.44 L815.85,36.49 L816.42,36.54 L817,36.6 L817.57,36.65 L818.14,36.71 L818.71,36.76 L819.29,36.82 L819.86,36.88 L820.43,36.94 L821,37.01 L821.58,37.07 L822.15,37.14 L822.72,37.21 L823.29,37.28 L823.87,37.35 L824.44,37.43 L825.01,37.51 L825.59,37.58 L826.16,37.67 L826.73,37.75 L827.3,37.83 L827.88,37.92 L828.45,38.01 L829.02,38.1 L829.59,38.2 L830.16,38.3 L830.74,38.39 L831.31,38.5 L831.88,38.6 L832.45,38.71 L833.03,38.82 L833.6,38.93 L834.17,39.05 L834.74,39.17 L835.32,39.29 L835.89,39.42 L836.46,39.55 L837.03,39.68 L837.61,39.82 L838.18,39.96 L838.75,40.1 L839.33,40.25 L839.9,40.4 L840.47,40.56 L841.04,40.72 L841.62,40.89 L842.19,41.06 L842.76,41.23 L843.33,41.41 L843.9,41.59 L844.48,41.78 L845.05,41.98 L845.62,42.18 L846.19,42.39 L846.77,42.6 L847.34,42.82 L847.91,43.04 L848.48,43.28 L849.06,43.52 L849.63,43.76 L850.2,44.02 L850.77,44.28 L851.35,44.55 L851.92,44.82 L852.49,45.11 L853.06,45.41 L853.64,45.71 L854.21,46.02 L854.78,46.35 L855.36,46.68 L855.93,47.03 L856.5,47.39 L857.07,47.75 L857.64,48.13 L858.22,48.53 L858.79,48.93 L859.36,49.35 L859.93,49.79 L860.51,50.24 L861.08,50.7 L861.65,51.18 L862.22,51.68 L862.8,52.2 L863.37,52.73 L863.94,53.28 L864.51,53.85 L865.09,54.45 L865.66,55.06 L866.23,55.7 L866.8,56.36 L867.38,57.05 L867.95,57.76 L868.52,58.5 L869.1,59.26 L869.67,60.06 L870.24,60.88 L870.81,61.74 L871.38,62.64 L871.96,63.56 L872.53,64.53 L873.1,65.53 L873.67,66.57 L874.25,67.65 L874.82,68.78 L875.39,69.95 L875.96,71.17 L876.54,72.44 L877.11,73.76 L877.68,75.13 L878.25,76.56 L878.83,78.04 L879.4,79.59 L879.97,81.19 L880.54,82.86 L881.12,84.6 L881.69,86.4 L882.26,88.27 L882.84,90.22 L883.41,92.23 L883.98,94.32 L884.55,96.49 L885.12,98.73 L885.7,101.05 L886.27,103.44 L886.84,105.9 L887.41,108.44 L887.99,111.05 L888.56,113.72 L889.13,116.46 L889.7,119.25 L890.28,122.09 L890.85,124.97 L891.42,127.89 L891.99,130.82 L892.57,133.76 L893.14,136.68 L893.71,139.59 L894.28,142.45 L894.86,145.25 L895.43,147.96 L896,150.57 L896.58,153.05 L897.15,155.37 L897.72,157.52 L898.29,159.48 L898.87,161.21 L899.44,162.7 L900.01,163.93 L900.58,164.89 L901.15,165.56 L901.73,165.93 L902.3,166.01 L902.87,165.78 L903.44,165.26 L904.02,164.44 L904.59,163.34 L905.16,161.98 L905.73,160.36 L906.31,158.52 L906.88,156.46 L907.45,154.22 L908.02,151.81 L908.6,149.26 L909.17,146.59 L909.74,143.83 L910.32,140.99 L910.89,138.11 L911.46,135.18 L912.03,132.24 L912.61,129.3 L913.18,126.37 L913.75,123.47 L914.32,120.6 L914.89,117.77 L915.47,115 L916.04,112.29 L916.61,109.64 L917.18,107.06 L917.76,104.55 L918.33,102.12 L918.9,99.76 L919.47,97.47 L920.05,95.26 L920.62,93.12 L921.19,91.06 L921.76,89.07 L922.34,87.16 L922.91,85.31 L923.48,83.53 L924.05,81.82 L924.63,80.18 L925.2,78.59 L925.77,77.07 L926.35,75.6 L926.92,74.2 L927.49,72.84 L928.06,71.54 L928.63,70.29 L929.21,69.08 L929.78,67.92 L930.35,66.81 L930.92,65.74 L931.5,64.71 L932.07,63.72 L932.64,62.76 L933.21,61.84 L933.79,60.96 L934.36,60.11 L934.93,59.29 L935.5,58.5 L936.08,57.74 L936.65,57 L937.22,56.29 L937.79,55.61 L938.37,54.95 L938.94,54.32 L939.51,53.7 L940.09,53.11 L940.66,52.54 L941.23,51.99 L941.8,51.45 L942.38,50.94 L942.95,50.44 L943.52,49.96 L944.09,49.49 L944.66,49.04 L945.24,48.6 L945.81,48.18 L946.38,47.77 L946.95,47.37 L947.53,46.99 L948.1,46.61 L948.67,46.25 L949.24,45.9 L949.82,45.56 L950.39,45.23 L950.96,44.91 L951.53,44.6 L952.11,44.3 L952.68,44.01 L953.25,43.73 L953.83,43.45 L954.4,43.18 L954.97,42.92 L955.54,42.67 L956.12,42.42 L956.69,42.18 L957.26,41.95 L957.83,41.72 L958.4,41.5 L958.98,41.29 L959.55,41.08 L960.12,40.87 L960.69,40.67 L961.27,40.48 L961.84,40.29 L962.41,40.11 L962.98,39.93 L963.56,39.75 L964.13,39.58 L964.7,39.42 L965.27,39.25 L965.85,39.1 L966.42,38.94 L966.99,38.79 L967.57,38.64 L968.14,38.5 L968.71,38.36 L969.28,38.22 L969.86,38.09 L970.43,37.96 L971,37.83 L971.57,37.7 L972.14,37.58 L972.72,37.46 L973.29,37.35 L973.86,37.23 L974.43,37.12 L975.01,37.01 L975.58,36.9 L976.15,36.8 L976.72,36.7 L977.3,36.59 L977.87,36.5 L978.44,36.4 L979.01,36.31 L979.59,36.21 L980.16,36.12 L980.73,36.03 L981.3,35.95 L981.88,35.86 L982.45,35.78 L983.02,35.7 L983.6,35.62 L984.17,35.54 L984.74,35.46 L985.31,35.38 L985.88,35.31 L986.46,35.24 L987.03,35.17 L987.6,35.09 L988.17,35.03 L988.75,34.96 L989.32,34.89 L989.89,34.83 L990.46,34.76 L991.04,34.7 L991.61,34.64 L992.18,34.58 L992.75,34.52 L993.33,34.46 L993.9,34.4 L994.47,34.35 L995.04,34.29 L995.62,34.24 L996.19,34.18 L996.76,34.13 L997.34,34.08 L997.91,34.03 L998.48,33.98 L999.05,33.93 L999.62,33.88 L1000.2,33.83 L1000.77,33.78 L1001.34,33.74 L1001.91,33.69 L1002.49,33.65 L1003.06,33.6 L1003.63,33.56 L1004.2,33.52 L1004.78,33.48 L1005.35,33.44 L1005.92,33.4 L1006.49,33.36 L1007.07,33.32 L1007.64,33.28 L1008.21,33.24 L1008.78,33.2 L1009.36,33.16 L1009.93,33.13 L1010.5,33.09 L1011.08,33.06 L1011.65,33.02 L1012.22,32.99 L1012.79,32.95 L1013.37,32.92 L1013.94,32.89 L1014.51,32.86 L1015.08,32.82 L1015.65,32.79 L1016.23,32.76 L1016.8,32.73 L1016.8,29.4 L558.8,29.4 Z" fill="rgba(60,120,235,0.07)" stroke="none" stroke-width="1" stroke-linejoin="round"/>
<path d="M558.8,30.92 L559.37,30.93 L559.94,30.94 L560.52,30.94 L561.09,30.95 L561.66,30.96 L562.24,30.97 L562.81,30.97 L563.38,30.98 L563.95,30.99 L564.52,31 L565.1,31.01 L565.67,31.02 L566.24,31.02 L566.81,31.03 L567.39,31.04 L567.96,31.05 L568.53,31.06 L569.11,31.07 L569.68,31.07 L570.25,31.08 L570.82,31.09 L571.39,31.1 L571.97,31.11 L572.54,31.12 L573.11,31.13 L573.68,31.14 L574.26,31.15 L574.83,31.16 L575.4,31.16 L575.97,31.17 L576.55,31.18 L577.12,31.19 L577.69,31.2 L578.26,31.21 L578.84,31.22 L579.41,31.23 L579.98,31.24 L580.55,31.25 L581.13,31.26 L581.7,31.27 L582.27,31.28 L582.84,31.29 L583.42,31.3 L583.99,31.31 L584.56,31.33 L585.13,31.34 L585.71,31.35 L586.28,31.36 L586.85,31.37 L587.42,31.38 L588,31.39 L588.57,31.4 L589.14,31.41 L589.71,31.43 L590.29,31.44 L590.86,31.45 L591.43,31.46 L592,31.47 L592.58,31.48 L593.15,31.5 L593.72,31.51 L594.29,31.52 L594.87,31.53 L595.44,31.55 L596.01,31.56 L596.58,31.57 L597.16,31.58 L597.73,31.6 L598.3,31.61 L598.88,31.62 L599.45,31.64 L600.02,31.65 L600.59,31.66 L601.16,31.68 L601.74,31.69 L602.31,31.71 L602.88,31.72 L603.45,31.73 L604.03,31.75 L604.6,31.76 L605.17,31.78 L605.75,31.79 L606.32,31.81 L606.89,31.82 L607.46,31.84 L608.03,31.85 L608.61,31.87 L609.18,31.88 L609.75,31.9 L610.32,31.92 L610.9,31.93 L611.47,31.95 L612.04,31.96 L612.62,31.98 L613.19,32 L613.76,32.01 L614.33,32.03 L614.9,32.05 L615.48,32.07 L616.05,32.08 L616.62,32.1 L617.19,32.12 L617.77,32.14 L618.34,32.15 L618.91,32.17 L619.48,32.19 L620.06,32.21 L620.63,32.23 L621.2,32.25 L621.77,32.27 L622.35,32.29 L622.92,32.31 L623.49,32.33 L624.06,32.35 L624.64,32.37 L625.21,32.39 L625.78,32.41 L626.35,32.43 L626.93,32.45 L627.5,32.47 L628.07,32.49 L628.64,32.52 L629.22,32.54 L629.79,32.56 L630.36,32.58 L630.93,32.61 L631.51,32.63 L632.08,32.65 L632.65,32.68 L633.22,32.7 L633.8,32.72 L634.37,32.75 L634.94,32.77 L635.51,32.8 L636.09,32.82 L636.66,32.85 L637.23,32.87 L637.8,32.9 L638.38,32.92 L638.95,32.95 L639.52,32.98 L640.09,33.01 L640.67,33.03 L641.24,33.06 L641.81,33.09 L642.38,33.12 L642.96,33.15 L643.53,33.17 L644.1,33.2 L644.67,33.23 L645.25,33.26 L645.82,33.29 L646.39,33.33 L646.96,33.36 L647.54,33.39 L648.11,33.42 L648.68,33.45 L649.25,33.48 L649.83,33.52 L650.4,33.55 L650.97,33.59 L651.54,33.62 L652.12,33.65 L652.69,33.69 L653.26,33.72 L653.83,33.76 L654.41,33.8 L654.98,33.83 L655.55,33.87 L656.12,33.91 L656.7,33.95 L657.27,33.99 L657.84,34.03 L658.41,34.07 L658.99,34.11 L659.56,34.15 L660.13,34.19 L660.7,34.23 L661.28,34.27 L661.85,34.32 L662.42,34.36 L663,34.4 L663.57,34.45 L664.14,34.49 L664.71,34.54 L665.28,34.59 L665.86,34.63 L666.43,34.68 L667,34.73 L667.57,34.78 L668.15,34.83 L668.72,34.88 L669.29,34.93 L669.87,34.98 L670.44,35.03 L671.01,35.09 L671.58,35.14 L672.15,35.2 L672.73,35.25 L673.3,35.31 L673.87,35.36 L674.44,35.42 L675.02,35.48 L675.59,35.54 L676.16,35.6 L676.73,35.66 L677.31,35.73 L677.88,35.79 L678.45,35.85 L679.02,35.92 L679.6,35.99 L680.17,36.05 L680.74,36.12 L681.31,36.19 L681.89,36.26 L682.46,36.33 L683.03,36.4 L683.61,36.48 L684.18,36.55 L684.75,36.63 L685.32,36.71 L685.89,36.78 L686.47,36.86 L687.04,36.94 L687.61,37.03 L688.18,37.11 L688.76,37.19 L689.33,37.28 L689.9,37.37 L690.47,37.46 L691.05,37.55 L691.62,37.64 L692.19,37.73 L692.76,37.83 L693.34,37.93 L693.91,38.02 L694.48,38.12 L695.05,38.23 L695.63,38.33 L696.2,38.44 L696.77,38.54 L697.34,38.65 L697.92,38.76 L698.49,38.88 L699.06,38.99 L699.63,39.11 L700.21,39.23 L700.78,39.35 L701.35,39.47 L701.92,39.6 L702.5,39.73 L703.07,39.86 L703.64,39.99 L704.21,40.12 L704.79,40.26 L705.36,40.4 L705.93,40.55 L706.5,40.69 L707.08,40.84 L707.65,40.99 L708.22,41.15 L708.79,41.3 L709.37,41.47 L709.94,41.63 L710.51,41.8 L711.08,41.97 L711.66,42.14 L712.23,42.32 L712.8,42.5 L713.38,42.68 L713.95,42.87 L714.52,43.07 L715.09,43.26 L715.66,43.46 L716.24,43.67 L716.81,43.88 L717.38,44.09 L717.95,44.31 L718.53,44.53 L719.1,44.76 L719.67,44.99 L720.24,45.23 L720.82,45.47 L721.39,45.72 L721.96,45.98 L722.53,46.24 L723.11,46.5 L723.68,46.78 L724.25,47.05 L724.82,47.34 L725.4,47.63 L725.97,47.93 L726.54,48.23 L727.12,48.55 L727.69,48.87 L728.26,49.19 L728.83,49.53 L729.4,49.87 L729.98,50.23 L730.55,50.59 L731.12,50.96 L731.69,51.34 L732.27,51.72 L732.84,52.12 L733.41,52.53 L733.98,52.95 L734.56,53.38 L735.13,53.82 L735.7,54.27 L736.27,54.74 L736.85,55.21 L737.42,55.7 L737.99,56.2 L738.56,56.72 L739.14,57.25 L739.71,57.79 L740.28,58.35 L740.86,58.92 L741.43,59.51 L742,60.12 L742.57,60.74 L743.14,61.38 L743.72,62.04 L744.29,62.72 L744.86,63.42 L745.43,64.13 L746.01,64.87 L746.58,65.63 L747.15,66.41 L747.72,67.21 L748.3,68.04 L748.87,68.89 L749.44,69.76 L750.01,70.66 L750.59,71.59 L751.16,72.55 L751.73,73.53 L752.3,74.54 L752.88,75.59 L753.45,76.66 L754.02,77.77 L754.59,78.91 L755.17,80.08 L755.74,81.29 L756.31,82.54 L756.88,83.82 L757.46,85.14 L758.03,86.5 L758.6,87.9 L759.17,89.34 L759.75,90.82 L760.32,92.35 L760.89,93.92 L761.46,95.54 L762.04,97.2 L762.61,98.9 L763.18,100.66 L763.75,102.46 L764.33,104.3 L764.9,106.2 L765.47,108.14 L766.04,110.14 L766.62,112.18 L767.19,114.26 L767.76,116.39 L768.33,118.57 L768.91,120.79 L769.48,123.06 L770.05,125.36 L770.62,127.7 L771.2,130.08 L771.77,132.49 L772.34,134.92 L772.91,137.38 L773.49,139.85 L774.06,142.34 L774.63,144.83 L775.2,147.33 L775.78,149.81 L776.35,152.28 L776.92,154.72 L777.5,157.13 L778.07,159.5 L778.64,161.81 L779.21,164.06 L779.78,166.24 L780.36,168.33 L780.93,170.32 L781.5,172.2 L782.07,173.96 L782.65,175.6 L783.22,177.09 L783.79,178.44 L784.37,179.62 L784.94,180.64 L785.51,181.48 L786.08,182.14 L786.65,182.62 L787.23,182.9 L787.8,183 L788.37,182.9 L788.94,182.62 L789.52,182.14 L790.09,181.48 L790.66,180.64 L791.24,179.62 L791.81,178.44 L792.38,177.09 L792.95,175.6 L793.52,173.96 L794.1,172.2 L794.67,170.32 L795.24,168.33 L795.81,166.24 L796.39,164.06 L796.96,161.81 L797.53,159.5 L798.1,157.13 L798.68,154.72 L799.25,152.28 L799.82,149.81 L800.39,147.33 L800.97,144.83 L801.54,142.34 L802.11,139.85 L802.68,137.38 L803.26,134.92 L803.83,132.49 L804.4,130.08 L804.97,127.7 L805.55,125.36 L806.12,123.06 L806.69,120.79 L807.26,118.57 L807.84,116.39 L808.41,114.26 L808.98,112.18 L809.55,110.14 L810.13,108.14 L810.7,106.2 L811.27,104.3 L811.84,102.46 L812.42,100.66 L812.99,98.9 L813.56,97.2 L814.13,95.54 L814.71,93.92 L815.28,92.35 L815.85,90.82 L816.42,89.34 L817,87.9 L817.57,86.5 L818.14,85.14 L818.71,83.82 L819.29,82.54 L819.86,81.29 L820.43,80.08 L821,78.91 L821.58,77.77 L822.15,76.66 L822.72,75.59 L823.29,74.54 L823.87,73.53 L824.44,72.55 L825.01,71.59 L825.59,70.66 L826.16,69.76 L826.73,68.89 L827.3,68.04 L827.88,67.21 L828.45,66.41 L829.02,65.63 L829.59,64.87 L830.16,64.13 L830.74,63.42 L831.31,62.72 L831.88,62.04 L832.45,61.38 L833.03,60.74 L833.6,60.12 L834.17,59.51 L834.74,58.92 L835.32,58.35 L835.89,57.79 L836.46,57.25 L837.03,56.72 L837.61,56.2 L838.18,55.7 L838.75,55.21 L839.33,54.74 L839.9,54.27 L840.47,53.82 L841.04,53.38 L841.62,52.95 L842.19,52.53 L842.76,52.12 L843.33,51.72 L843.9,51.34 L844.48,50.96 L845.05,50.59 L845.62,50.23 L846.19,49.87 L846.77,49.53 L847.34,49.19 L847.91,48.87 L848.48,48.55 L849.06,48.23 L849.63,47.93 L850.2,47.63 L850.77,47.34 L851.35,47.05 L851.92,46.78 L852.49,46.5 L853.06,46.24 L853.64,45.98 L854.21,45.72 L854.78,45.47 L855.36,45.23 L855.93,44.99 L856.5,44.76 L857.07,44.53 L857.64,44.31 L858.22,44.09 L858.79,43.88 L859.36,43.67 L859.93,43.46 L860.51,43.26 L861.08,43.07 L861.65,42.87 L862.22,42.68 L862.8,42.5 L863.37,42.32 L863.94,42.14 L864.51,41.97 L865.09,41.8 L865.66,41.63 L866.23,41.47 L866.8,41.3 L867.38,41.15 L867.95,40.99 L868.52,40.84 L869.1,40.69 L869.67,40.55 L870.24,40.4 L870.81,40.26 L871.38,40.12 L871.96,39.99 L872.53,39.86 L873.1,39.73 L873.67,39.6 L874.25,39.47 L874.82,39.35 L875.39,39.23 L875.96,39.11 L876.54,38.99 L877.11,38.88 L877.68,38.76 L878.25,38.65 L878.83,38.54 L879.4,38.44 L879.97,38.33 L880.54,38.23 L881.12,38.12 L881.69,38.02 L882.26,37.93 L882.84,37.83 L883.41,37.73 L883.98,37.64 L884.55,37.55 L885.12,37.46 L885.7,37.37 L886.27,37.28 L886.84,37.19 L887.41,37.11 L887.99,37.03 L888.56,36.94 L889.13,36.86 L889.7,36.78 L890.28,36.71 L890.85,36.63 L891.42,36.55 L891.99,36.48 L892.57,36.4 L893.14,36.33 L893.71,36.26 L894.28,36.19 L894.86,36.12 L895.43,36.05 L896,35.99 L896.58,35.92 L897.15,35.85 L897.72,35.79 L898.29,35.73 L898.87,35.66 L899.44,35.6 L900.01,35.54 L900.58,35.48 L901.15,35.42 L901.73,35.36 L902.3,35.31 L902.87,35.25 L903.44,35.2 L904.02,35.14 L904.59,35.09 L905.16,35.03 L905.73,34.98 L906.31,34.93 L906.88,34.88 L907.45,34.83 L908.02,34.78 L908.6,34.73 L909.17,34.68 L909.74,34.63 L910.32,34.59 L910.89,34.54 L911.46,34.49 L912.03,34.45 L912.61,34.4 L913.18,34.36 L913.75,34.32 L914.32,34.27 L914.89,34.23 L915.47,34.19 L916.04,34.15 L916.61,34.11 L917.18,34.07 L917.76,34.03 L918.33,33.99 L918.9,33.95 L919.47,33.91 L920.05,33.87 L920.62,33.83 L921.19,33.8 L921.76,33.76 L922.34,33.72 L922.91,33.69 L923.48,33.65 L924.05,33.62 L924.63,33.59 L925.2,33.55 L925.77,33.52 L926.35,33.48 L926.92,33.45 L927.49,33.42 L928.06,33.39 L928.63,33.36 L929.21,33.33 L929.78,33.29 L930.35,33.26 L930.92,33.23 L931.5,33.2 L932.07,33.17 L932.64,33.15 L933.21,33.12 L933.79,33.09 L934.36,33.06 L934.93,33.03 L935.5,33.01 L936.08,32.98 L936.65,32.95 L937.22,32.92 L937.79,32.9 L938.37,32.87 L938.94,32.85 L939.51,32.82 L940.09,32.8 L940.66,32.77 L941.23,32.75 L941.8,32.72 L942.38,32.7 L942.95,32.68 L943.52,32.65 L944.09,32.63 L944.66,32.61 L945.24,32.58 L945.81,32.56 L946.38,32.54 L946.95,32.52 L947.53,32.49 L948.1,32.47 L948.67,32.45 L949.24,32.43 L949.82,32.41 L950.39,32.39 L950.96,32.37 L951.53,32.35 L952.11,32.33 L952.68,32.31 L953.25,32.29 L953.83,32.27 L954.4,32.25 L954.97,32.23 L955.54,32.21 L956.12,32.19 L956.69,32.17 L957.26,32.15 L957.83,32.14 L958.4,32.12 L958.98,32.1 L959.55,32.08 L960.12,32.07 L960.69,32.05 L961.27,32.03 L961.84,32.01 L962.41,32 L962.98,31.98 L963.56,31.96 L964.13,31.95 L964.7,31.93 L965.27,31.92 L965.85,31.9 L966.42,31.88 L966.99,31.87 L967.57,31.85 L968.14,31.84 L968.71,31.82 L969.28,31.81 L969.86,31.79 L970.43,31.78 L971,31.76 L971.57,31.75 L972.14,31.73 L972.72,31.72 L973.29,31.71 L973.86,31.69 L974.43,31.68 L975.01,31.66 L975.58,31.65 L976.15,31.64 L976.72,31.62 L977.3,31.61 L977.87,31.6 L978.44,31.58 L979.01,31.57 L979.59,31.56 L980.16,31.55 L980.73,31.53 L981.3,31.52 L981.88,31.51 L982.45,31.5 L983.02,31.48 L983.6,31.47 L984.17,31.46 L984.74,31.45 L985.31,31.44 L985.88,31.43 L986.46,31.41 L987.03,31.4 L987.6,31.39 L988.17,31.38 L988.75,31.37 L989.32,31.36 L989.89,31.35 L990.46,31.34 L991.04,31.33 L991.61,31.31 L992.18,31.3 L992.75,31.29 L993.33,31.28 L993.9,31.27 L994.47,31.26 L995.04,31.25 L995.62,31.24 L996.19,31.23 L996.76,31.22 L997.34,31.21 L997.91,31.2 L998.48,31.19 L999.05,31.18 L999.62,31.17 L1000.2,31.16 L1000.77,31.16 L1001.34,31.15 L1001.91,31.14 L1002.49,31.13 L1003.06,31.12 L1003.63,31.11 L1004.2,31.1 L1004.78,31.09 L1005.35,31.08 L1005.92,31.07 L1006.49,31.07 L1007.07,31.06 L1007.64,31.05 L1008.21,31.04 L1008.78,31.03 L1009.36,31.02 L1009.93,31.02 L1010.5,31.01 L1011.08,31 L1011.65,30.99 L1012.22,30.98 L1012.79,30.97 L1013.37,30.97 L1013.94,30.96 L1014.51,30.95 L1015.08,30.94 L1015.65,30.94 L1016.23,30.93 L1016.8,30.92 L1016.8,29.4 L558.8,29.4 Z" fill="rgba(245,60,30,0.07)" stroke="none" stroke-width="1" stroke-linejoin="round"/>
<path d="M558.8,32.73 L559.37,32.76 L559.94,32.79 L560.52,32.82 L561.09,32.86 L561.66,32.89 L562.24,32.92 L562.81,32.95 L563.38,32.99 L563.95,33.02 L564.52,33.06 L565.1,33.09 L565.67,33.13 L566.24,33.16 L566.81,33.2 L567.39,33.24 L567.96,33.28 L568.53,33.32 L569.11,33.36 L569.68,33.4 L570.25,33.44 L570.82,33.48 L571.39,33.52 L571.97,33.56 L572.54,33.6 L573.11,33.65 L573.68,33.69 L574.26,33.74 L574.83,33.78 L575.4,33.83 L575.97,33.88 L576.55,33.93 L577.12,33.98 L577.69,34.03 L578.26,34.08 L578.84,34.13 L579.41,34.18 L579.98,34.24 L580.55,34.29 L581.13,34.35 L581.7,34.4 L582.27,34.46 L582.84,34.52 L583.42,34.58 L583.99,34.64 L584.56,34.7 L585.13,34.76 L585.71,34.83 L586.28,34.89 L586.85,34.96 L587.42,35.03 L588,35.09 L588.57,35.17 L589.14,35.24 L589.71,35.31 L590.29,35.38 L590.86,35.46 L591.43,35.54 L592,35.62 L592.58,35.7 L593.15,35.78 L593.72,35.86 L594.29,35.95 L594.87,36.03 L595.44,36.12 L596.01,36.21 L596.58,36.31 L597.16,36.4 L597.73,36.5 L598.3,36.59 L598.88,36.7 L599.45,36.8 L600.02,36.9 L600.59,37.01 L601.16,37.12 L601.74,37.23 L602.31,37.35 L602.88,37.46 L603.45,37.58 L604.03,37.7 L604.6,37.83 L605.17,37.96 L605.75,38.09 L606.32,38.22 L606.89,38.36 L607.46,38.5 L608.03,38.64 L608.61,38.79 L609.18,38.94 L609.75,39.1 L610.32,39.25 L610.9,39.42 L611.47,39.58 L612.04,39.75 L612.62,39.93 L613.19,40.11 L613.76,40.29 L614.33,40.48 L614.9,40.67 L615.48,40.87 L616.05,41.08 L616.62,41.29 L617.19,41.5 L617.77,41.72 L618.34,41.95 L618.91,42.18 L619.48,42.42 L620.06,42.67 L620.63,42.92 L621.2,43.18 L621.77,43.45 L622.35,43.73 L622.92,44.01 L623.49,44.3 L624.06,44.6 L624.64,44.91 L625.21,45.23 L625.78,45.56 L626.35,45.9 L626.93,46.25 L627.5,46.61 L628.07,46.99 L628.64,47.37 L629.22,47.77 L629.79,48.18 L630.36,48.6 L630.93,49.04 L631.51,49.49 L632.08,49.96 L632.65,50.44 L633.22,50.94 L633.8,51.45 L634.37,51.99 L634.94,52.54 L635.51,53.11 L636.09,53.7 L636.66,54.32 L637.23,54.95 L637.8,55.61 L638.38,56.29 L638.95,57 L639.52,57.74 L640.09,58.5 L640.67,59.29 L641.24,60.11 L641.81,60.96 L642.38,61.84 L642.96,62.76 L643.53,63.72 L644.1,64.71 L644.67,65.74 L645.25,66.81 L645.82,67.92 L646.39,69.08 L646.96,70.29 L647.54,71.54 L648.11,72.84 L648.68,74.2 L649.25,75.6 L649.83,77.07 L650.4,78.59 L650.97,80.18 L651.54,81.82 L652.12,83.53 L652.69,85.31 L653.26,87.16 L653.83,89.07 L654.41,91.06 L654.98,93.12 L655.55,95.26 L656.12,97.47 L656.7,99.76 L657.27,102.12 L657.84,104.55 L658.41,107.06 L658.99,109.64 L659.56,112.29 L660.13,115 L660.7,117.77 L661.28,120.6 L661.85,123.47 L662.42,126.37 L663,129.3 L663.57,132.24 L664.14,135.18 L664.71,138.11 L665.28,140.99 L665.86,143.83 L666.43,146.59 L667,149.26 L667.57,151.81 L668.15,154.22 L668.72,156.46 L669.29,158.52 L669.87,160.36 L670.44,161.98 L671.01,163.34 L671.58,164.44 L672.15,165.26 L672.73,165.78 L673.3,166.01 L673.87,165.93 L674.44,165.56 L675.02,164.89 L675.59,163.93 L676.16,162.7 L676.73,161.21 L677.31,159.48 L677.88,157.52 L678.45,155.37 L679.02,153.05 L679.6,150.57 L680.17,147.96 L680.74,145.25 L681.31,142.45 L681.89,139.59 L682.46,136.68 L683.03,133.76 L683.61,130.82 L684.18,127.89 L684.75,124.97 L685.32,122.09 L685.89,119.25 L686.47,116.46 L687.04,113.72 L687.61,111.05 L688.18,108.44 L688.76,105.9 L689.33,103.44 L689.9,101.05 L690.47,98.73 L691.05,96.49 L691.62,94.32 L692.19,92.23 L692.76,90.22 L693.34,88.27 L693.91,86.4 L694.48,84.6 L695.05,82.86 L695.63,81.19 L696.2,79.59 L696.77,78.04 L697.34,76.56 L697.92,75.13 L698.49,73.76 L699.06,72.44 L699.63,71.17 L700.21,69.95 L700.78,68.78 L701.35,67.65 L701.92,66.57 L702.5,65.53 L703.07,64.53 L703.64,63.56 L704.21,62.64 L704.79,61.74 L705.36,60.88 L705.93,60.06 L706.5,59.26 L707.08,58.5 L707.65,57.76 L708.22,57.05 L708.79,56.36 L709.37,55.7 L709.94,55.06 L710.51,54.45 L711.08,53.85 L711.66,53.28 L712.23,52.73 L712.8,52.2 L713.38,51.68 L713.95,51.18 L714.52,50.7 L715.09,50.24 L715.66,49.79 L716.24,49.35 L716.81,48.93 L717.38,48.53 L717.95,48.13 L718.53,47.75 L719.1,47.39 L719.67,47.03 L720.24,46.68 L720.82,46.35 L721.39,46.02 L721.96,45.71 L722.53,45.41 L723.11,45.11 L723.68,44.82 L724.25,44.55 L724.82,44.28 L725.4,44.02 L725.97,43.76 L726.54,43.52 L727.12,43.28 L727.69,43.04 L728.26,42.82 L728.83,42.6 L729.4,42.39 L729.98,42.18 L730.55,41.98 L731.12,41.78 L731.69,41.59 L732.27,41.41 L732.84,41.23 L733.41,41.06 L733.98,40.89 L734.56,40.72 L735.13,40.56 L735.7,40.4 L736.27,40.25 L736.85,40.1 L737.42,39.96 L737.99,39.82 L738.56,39.68 L739.14,39.55 L739.71,39.42 L740.28,39.29 L740.86,39.17 L741.43,39.05 L742,38.93 L742.57,38.82 L743.14,38.71 L743.72,38.6 L744.29,38.5 L744.86,38.39 L745.43,38.3 L746.01,38.2 L746.58,38.1 L747.15,38.01 L747.72,37.92 L748.3,37.83 L748.87,37.75 L749.44,37.67 L750.01,37.58 L750.59,37.51 L751.16,37.43 L751.73,37.35 L752.3,37.28 L752.88,37.21 L753.45,37.14 L754.02,37.07 L754.59,37.01 L755.17,36.94 L755.74,36.88 L756.31,36.82 L756.88,36.76 L757.46,36.71 L758.03,36.65 L758.6,36.6 L759.17,36.54 L759.75,36.49 L760.32,36.44 L760.89,36.39 L761.46,36.35 L762.04,36.3 L762.61,36.26 L763.18,36.21 L763.75,36.17 L764.33,36.13 L764.9,36.09 L765.47,36.05 L766.04,36.02 L766.62,35.98 L767.19,35.95 L767.76,35.91 L768.33,35.88 L768.91,35.85 L769.48,35.82 L770.05,35.79 L770.62,35.76 L771.2,35.74 L771.77,35.71 L772.34,35.68 L772.91,35.66 L773.49,35.64 L774.06,35.62 L774.63,35.6 L775.2,35.58 L775.78,35.56 L776.35,35.54 L776.92,35.52 L777.5,35.5 L778.07,35.49 L778.64,35.47 L779.21,35.46 L779.78,35.45 L780.36,35.44 L780.93,35.43 L781.5,35.42 L782.07,35.41 L782.65,35.4 L783.22,35.39 L783.79,35.39 L784.37,35.38 L784.94,35.38 L785.51,35.37 L786.08,35.37 L786.65,35.37 L787.23,35.36 L787.8,35.36 L788.37,35.36 L788.94,35.37 L789.52,35.37 L790.09,35.37 L790.66,35.38 L791.24,35.38 L791.81,35.39 L792.38,35.39 L792.95,35.4 L793.52,35.41 L794.1,35.42 L794.67,35.43 L795.24,35.44 L795.81,35.45 L796.39,35.46 L796.96,35.47 L797.53,35.49 L798.1,35.5 L798.68,35.52 L799.25,35.54 L799.82,35.56 L800.39,35.58 L800.97,35.6 L801.54,35.62 L802.11,35.64 L802.68,35.66 L803.26,35.68 L803.83,35.71 L804.4,35.74 L804.97,35.76 L805.55,35.79 L806.12,35.82 L806.69,35.85 L807.26,35.88 L807.84,35.91 L808.41,35.95 L808.98,35.98 L809.55,36.02 L810.13,36.05 L810.7,36.09 L811.27,36.13 L811.84,36.17 L812.42,36.21 L812.99,36.26 L813.56,36.3 L814.13,36.35 L814.71,36.39 L815.28,36.44 L815.85,36.49 L816.42,36.54 L817,36.6 L817.57,36.65 L818.14,36.71 L818.71,36.76 L819.29,36.82 L819.86,36.88 L820.43,36.94 L821,37.01 L821.58,37.07 L822.15,37.14 L822.72,37.21 L823.29,37.28 L823.87,37.35 L824.44,37.43 L825.01,37.51 L825.59,37.58 L826.16,37.67 L826.73,37.75 L827.3,37.83 L827.88,37.92 L828.45,38.01 L829.02,38.1 L829.59,38.2 L830.16,38.3 L830.74,38.39 L831.31,38.5 L831.88,38.6 L832.45,38.71 L833.03,38.82 L833.6,38.93 L834.17,39.05 L834.74,39.17 L835.32,39.29 L835.89,39.42 L836.46,39.55 L837.03,39.68 L837.61,39.82 L838.18,39.96 L838.75,40.1 L839.33,40.25 L839.9,40.4 L840.47,40.56 L841.04,40.72 L841.62,40.89 L842.19,41.06 L842.76,41.23 L843.33,41.41 L843.9,41.59 L844.48,41.78 L845.05,41.98 L845.62,42.18 L846.19,42.39 L846.77,42.6 L847.34,42.82 L847.91,43.04 L848.48,43.28 L849.06,43.52 L849.63,43.76 L850.2,44.02 L850.77,44.28 L851.35,44.55 L851.92,44.82 L852.49,45.11 L853.06,45.41 L853.64,45.71 L854.21,46.02 L854.78,46.35 L855.36,46.68 L855.93,47.03 L856.5,47.39 L857.07,47.75 L857.64,48.13 L858.22,48.53 L858.79,48.93 L859.36,49.35 L859.93,49.79 L860.51,50.24 L861.08,50.7 L861.65,51.18 L862.22,51.68 L862.8,52.2 L863.37,52.73 L863.94,53.28 L864.51,53.85 L865.09,54.45 L865.66,55.06 L866.23,55.7 L866.8,56.36 L867.38,57.05 L867.95,57.76 L868.52,58.5 L869.1,59.26 L869.67,60.06 L870.24,60.88 L870.81,61.74 L871.38,62.64 L871.96,63.56 L872.53,64.53 L873.1,65.53 L873.67,66.57 L874.25,67.65 L874.82,68.78 L875.39,69.95 L875.96,71.17 L876.54,72.44 L877.11,73.76 L877.68,75.13 L878.25,76.56 L878.83,78.04 L879.4,79.59 L879.97,81.19 L880.54,82.86 L881.12,84.6 L881.69,86.4 L882.26,88.27 L882.84,90.22 L883.41,92.23 L883.98,94.32 L884.55,96.49 L885.12,98.73 L885.7,101.05 L886.27,103.44 L886.84,105.9 L887.41,108.44 L887.99,111.05 L888.56,113.72 L889.13,116.46 L889.7,119.25 L890.28,122.09 L890.85,124.97 L891.42,127.89 L891.99,130.82 L892.57,133.76 L893.14,136.68 L893.71,139.59 L894.28,142.45 L894.86,145.25 L895.43,147.96 L896,150.57 L896.58,153.05 L897.15,155.37 L897.72,157.52 L898.29,159.48 L898.87,161.21 L899.44,162.7 L900.01,163.93 L900.58,164.89 L901.15,165.56 L901.73,165.93 L902.3,166.01 L902.87,165.78 L903.44,165.26 L904.02,164.44 L904.59,163.34 L905.16,161.98 L905.73,160.36 L906.31,158.52 L906.88,156.46 L907.45,154.22 L908.02,151.81 L908.6,149.26 L909.17,146.59 L909.74,143.83 L910.32,140.99 L910.89,138.11 L911.46,135.18 L912.03,132.24 L912.61,129.3 L913.18,126.37 L913.75,123.47 L914.32,120.6 L914.89,117.77 L915.47,115 L916.04,112.29 L916.61,109.64 L917.18,107.06 L917.76,104.55 L918.33,102.12 L918.9,99.76 L919.47,97.47 L920.05,95.26 L920.62,93.12 L921.19,91.06 L921.76,89.07 L922.34,87.16 L922.91,85.31 L923.48,83.53 L924.05,81.82 L924.63,80.18 L925.2,78.59 L925.77,77.07 L926.35,75.6 L926.92,74.2 L927.49,72.84 L928.06,71.54 L928.63,70.29 L929.21,69.08 L929.78,67.92 L930.35,66.81 L930.92,65.74 L931.5,64.71 L932.07,63.72 L932.64,62.76 L933.21,61.84 L933.79,60.96 L934.36,60.11 L934.93,59.29 L935.5,58.5 L936.08,57.74 L936.65,57 L937.22,56.29 L937.79,55.61 L938.37,54.95 L938.94,54.32 L939.51,53.7 L940.09,53.11 L940.66,52.54 L941.23,51.99 L941.8,51.45 L942.38,50.94 L942.95,50.44 L943.52,49.96 L944.09,49.49 L944.66,49.04 L945.24,48.6 L945.81,48.18 L946.38,47.77 L946.95,47.37 L947.53,46.99 L948.1,46.61 L948.67,46.25 L949.24,45.9 L949.82,45.56 L950.39,45.23 L950.96,44.91 L951.53,44.6 L952.11,44.3 L952.68,44.01 L953.25,43.73 L953.83,43.45 L954.4,43.18 L954.97,42.92 L955.54,42.67 L956.12,42.42 L956.69,42.18 L957.26,41.95 L957.83,41.72 L958.4,41.5 L958.98,41.29 L959.55,41.08 L960.12,40.87 L960.69,40.67 L961.27,40.48 L961.84,40.29 L962.41,40.11 L962.98,39.93 L963.56,39.75 L964.13,39.58 L964.7,39.42 L965.27,39.25 L965.85,39.1 L966.42,38.94 L966.99,38.79 L967.57,38.64 L968.14,38.5 L968.71,38.36 L969.28,38.22 L969.86,38.09 L970.43,37.96 L971,37.83 L971.57,37.7 L972.14,37.58 L972.72,37.46 L973.29,37.35 L973.86,37.23 L974.43,37.12 L975.01,37.01 L975.58,36.9 L976.15,36.8 L976.72,36.7 L977.3,36.59 L977.87,36.5 L978.44,36.4 L979.01,36.31 L979.59,36.21 L980.16,36.12 L980.73,36.03 L981.3,35.95 L981.88,35.86 L982.45,35.78 L983.02,35.7 L983.6,35.62 L984.17,35.54 L984.74,35.46 L985.31,35.38 L985.88,35.31 L986.46,35.24 L987.03,35.17 L987.6,35.09 L988.17,35.03 L988.75,34.96 L989.32,34.89 L989.89,34.83 L990.46,34.76 L991.04,34.7 L991.61,34.64 L992.18,34.58 L992.75,34.52 L993.33,34.46 L993.9,34.4 L994.47,34.35 L995.04,34.29 L995.62,34.24 L996.19,34.18 L996.76,34.13 L997.34,34.08 L997.91,34.03 L998.48,33.98 L999.05,33.93 L999.62,33.88 L1000.2,33.83 L1000.77,33.78 L1001.34,33.74 L1001.91,33.69 L1002.49,33.65 L1003.06,33.6 L1003.63,33.56 L1004.2,33.52 L1004.78,33.48 L1005.35,33.44 L1005.92,33.4 L1006.49,33.36 L1007.07,33.32 L1007.64,33.28 L1008.21,33.24 L1008.78,33.2 L1009.36,33.16 L1009.93,33.13 L1010.5,33.09 L1011.08,33.06 L1011.65,33.02 L1012.22,32.99 L1012.79,32.95 L1013.37,32.92 L1013.94,32.89 L1014.51,32.86 L1015.08,32.82 L1015.65,32.79 L1016.23,32.76 L1016.8,32.73" fill="none" stroke="#3b78f0" stroke-width="3.2" stroke-linejoin="round"/>
<path d="M558.8,30.92 L559.37,30.93 L559.94,30.94 L560.52,30.94 L561.09,30.95 L561.66,30.96 L562.24,30.97 L562.81,30.97 L563.38,30.98 L563.95,30.99 L564.52,31 L565.1,31.01 L565.67,31.02 L566.24,31.02 L566.81,31.03 L567.39,31.04 L567.96,31.05 L568.53,31.06 L569.11,31.07 L569.68,31.07 L570.25,31.08 L570.82,31.09 L571.39,31.1 L571.97,31.11 L572.54,31.12 L573.11,31.13 L573.68,31.14 L574.26,31.15 L574.83,31.16 L575.4,31.16 L575.97,31.17 L576.55,31.18 L577.12,31.19 L577.69,31.2 L578.26,31.21 L578.84,31.22 L579.41,31.23 L579.98,31.24 L580.55,31.25 L581.13,31.26 L581.7,31.27 L582.27,31.28 L582.84,31.29 L583.42,31.3 L583.99,31.31 L584.56,31.33 L585.13,31.34 L585.71,31.35 L586.28,31.36 L586.85,31.37 L587.42,31.38 L588,31.39 L588.57,31.4 L589.14,31.41 L589.71,31.43 L590.29,31.44 L590.86,31.45 L591.43,31.46 L592,31.47 L592.58,31.48 L593.15,31.5 L593.72,31.51 L594.29,31.52 L594.87,31.53 L595.44,31.55 L596.01,31.56 L596.58,31.57 L597.16,31.58 L597.73,31.6 L598.3,31.61 L598.88,31.62 L599.45,31.64 L600.02,31.65 L600.59,31.66 L601.16,31.68 L601.74,31.69 L602.31,31.71 L602.88,31.72 L603.45,31.73 L604.03,31.75 L604.6,31.76 L605.17,31.78 L605.75,31.79 L606.32,31.81 L606.89,31.82 L607.46,31.84 L608.03,31.85 L608.61,31.87 L609.18,31.88 L609.75,31.9 L610.32,31.92 L610.9,31.93 L611.47,31.95 L612.04,31.96 L612.62,31.98 L613.19,32 L613.76,32.01 L614.33,32.03 L614.9,32.05 L615.48,32.07 L616.05,32.08 L616.62,32.1 L617.19,32.12 L617.77,32.14 L618.34,32.15 L618.91,32.17 L619.48,32.19 L620.06,32.21 L620.63,32.23 L621.2,32.25 L621.77,32.27 L622.35,32.29 L622.92,32.31 L623.49,32.33 L624.06,32.35 L624.64,32.37 L625.21,32.39 L625.78,32.41 L626.35,32.43 L626.93,32.45 L627.5,32.47 L628.07,32.49 L628.64,32.52 L629.22,32.54 L629.79,32.56 L630.36,32.58 L630.93,32.61 L631.51,32.63 L632.08,32.65 L632.65,32.68 L633.22,32.7 L633.8,32.72 L634.37,32.75 L634.94,32.77 L635.51,32.8 L636.09,32.82 L636.66,32.85 L637.23,32.87 L637.8,32.9 L638.38,32.92 L638.95,32.95 L639.52,32.98 L640.09,33.01 L640.67,33.03 L641.24,33.06 L641.81,33.09 L642.38,33.12 L642.96,33.15 L643.53,33.17 L644.1,33.2 L644.67,33.23 L645.25,33.26 L645.82,33.29 L646.39,33.33 L646.96,33.36 L647.54,33.39 L648.11,33.42 L648.68,33.45 L649.25,33.48 L649.83,33.52 L650.4,33.55 L650.97,33.59 L651.54,33.62 L652.12,33.65 L652.69,33.69 L653.26,33.72 L653.83,33.76 L654.41,33.8 L654.98,33.83 L655.55,33.87 L656.12,33.91 L656.7,33.95 L657.27,33.99 L657.84,34.03 L658.41,34.07 L658.99,34.11 L659.56,34.15 L660.13,34.19 L660.7,34.23 L661.28,34.27 L661.85,34.32 L662.42,34.36 L663,34.4 L663.57,34.45 L664.14,34.49 L664.71,34.54 L665.28,34.59 L665.86,34.63 L666.43,34.68 L667,34.73 L667.57,34.78 L668.15,34.83 L668.72,34.88 L669.29,34.93 L669.87,34.98 L670.44,35.03 L671.01,35.09 L671.58,35.14 L672.15,35.2 L672.73,35.25 L673.3,35.31 L673.87,35.36 L674.44,35.42 L675.02,35.48 L675.59,35.54 L676.16,35.6 L676.73,35.66 L677.31,35.73 L677.88,35.79 L678.45,35.85 L679.02,35.92 L679.6,35.99 L680.17,36.05 L680.74,36.12 L681.31,36.19 L681.89,36.26 L682.46,36.33 L683.03,36.4 L683.61,36.48 L684.18,36.55 L684.75,36.63 L685.32,36.71 L685.89,36.78 L686.47,36.86 L687.04,36.94 L687.61,37.03 L688.18,37.11 L688.76,37.19 L689.33,37.28 L689.9,37.37 L690.47,37.46 L691.05,37.55 L691.62,37.64 L692.19,37.73 L692.76,37.83 L693.34,37.93 L693.91,38.02 L694.48,38.12 L695.05,38.23 L695.63,38.33 L696.2,38.44 L696.77,38.54 L697.34,38.65 L697.92,38.76 L698.49,38.88 L699.06,38.99 L699.63,39.11 L700.21,39.23 L700.78,39.35 L701.35,39.47 L701.92,39.6 L702.5,39.73 L703.07,39.86 L703.64,39.99 L704.21,40.12 L704.79,40.26 L705.36,40.4 L705.93,40.55 L706.5,40.69 L707.08,40.84 L707.65,40.99 L708.22,41.15 L708.79,41.3 L709.37,41.47 L709.94,41.63 L710.51,41.8 L711.08,41.97 L711.66,42.14 L712.23,42.32 L712.8,42.5 L713.38,42.68 L713.95,42.87 L714.52,43.07 L715.09,43.26 L715.66,43.46 L716.24,43.67 L716.81,43.88 L717.38,44.09 L717.95,44.31 L718.53,44.53 L719.1,44.76 L719.67,44.99 L720.24,45.23 L720.82,45.47 L721.39,45.72 L721.96,45.98 L722.53,46.24 L723.11,46.5 L723.68,46.78 L724.25,47.05 L724.82,47.34 L725.4,47.63 L725.97,47.93 L726.54,48.23 L727.12,48.55 L727.69,48.87 L728.26,49.19 L728.83,49.53 L729.4,49.87 L729.98,50.23 L730.55,50.59 L731.12,50.96 L731.69,51.34 L732.27,51.72 L732.84,52.12 L733.41,52.53 L733.98,52.95 L734.56,53.38 L735.13,53.82 L735.7,54.27 L736.27,54.74 L736.85,55.21 L737.42,55.7 L737.99,56.2 L738.56,56.72 L739.14,57.25 L739.71,57.79 L740.28,58.35 L740.86,58.92 L741.43,59.51 L742,60.12 L742.57,60.74 L743.14,61.38 L743.72,62.04 L744.29,62.72 L744.86,63.42 L745.43,64.13 L746.01,64.87 L746.58,65.63 L747.15,66.41 L747.72,67.21 L748.3,68.04 L748.87,68.89 L749.44,69.76 L750.01,70.66 L750.59,71.59 L751.16,72.55 L751.73,73.53 L752.3,74.54 L752.88,75.59 L753.45,76.66 L754.02,77.77 L754.59,78.91 L755.17,80.08 L755.74,81.29 L756.31,82.54 L756.88,83.82 L757.46,85.14 L758.03,86.5 L758.6,87.9 L759.17,89.34 L759.75,90.82 L760.32,92.35 L760.89,93.92 L761.46,95.54 L762.04,97.2 L762.61,98.9 L763.18,100.66 L763.75,102.46 L764.33,104.3 L764.9,106.2 L765.47,108.14 L766.04,110.14 L766.62,112.18 L767.19,114.26 L767.76,116.39 L768.33,118.57 L768.91,120.79 L769.48,123.06 L770.05,125.36 L770.62,127.7 L771.2,130.08 L771.77,132.49 L772.34,134.92 L772.91,137.38 L773.49,139.85 L774.06,142.34 L774.63,144.83 L775.2,147.33 L775.78,149.81 L776.35,152.28 L776.92,154.72 L777.5,157.13 L778.07,159.5 L778.64,161.81 L779.21,164.06 L779.78,166.24 L780.36,168.33 L780.93,170.32 L781.5,172.2 L782.07,173.96 L782.65,175.6 L783.22,177.09 L783.79,178.44 L784.37,179.62 L784.94,180.64 L785.51,181.48 L786.08,182.14 L786.65,182.62 L787.23,182.9 L787.8,183 L788.37,182.9 L788.94,182.62 L789.52,182.14 L790.09,181.48 L790.66,180.64 L791.24,179.62 L791.81,178.44 L792.38,177.09 L792.95,175.6 L793.52,173.96 L794.1,172.2 L794.67,170.32 L795.24,168.33 L795.81,166.24 L796.39,164.06 L796.96,161.81 L797.53,159.5 L798.1,157.13 L798.68,154.72 L799.25,152.28 L799.82,149.81 L800.39,147.33 L800.97,144.83 L801.54,142.34 L802.11,139.85 L802.68,137.38 L803.26,134.92 L803.83,132.49 L804.4,130.08 L804.97,127.7 L805.55,125.36 L806.12,123.06 L806.69,120.79 L807.26,118.57 L807.84,116.39 L808.41,114.26 L808.98,112.18 L809.55,110.14 L810.13,108.14 L810.7,106.2 L811.27,104.3 L811.84,102.46 L812.42,100.66 L812.99,98.9 L813.56,97.2 L814.13,95.54 L814.71,93.92 L815.28,92.35 L815.85,90.82 L816.42,89.34 L817,87.9 L817.57,86.5 L818.14,85.14 L818.71,83.82 L819.29,82.54 L819.86,81.29 L820.43,80.08 L821,78.91 L821.58,77.77 L822.15,76.66 L822.72,75.59 L823.29,74.54 L823.87,73.53 L824.44,72.55 L825.01,71.59 L825.59,70.66 L826.16,69.76 L826.73,68.89 L827.3,68.04 L827.88,67.21 L828.45,66.41 L829.02,65.63 L829.59,64.87 L830.16,64.13 L830.74,63.42 L831.31,62.72 L831.88,62.04 L832.45,61.38 L833.03,60.74 L833.6,60.12 L834.17,59.51 L834.74,58.92 L835.32,58.35 L835.89,57.79 L836.46,57.25 L837.03,56.72 L837.61,56.2 L838.18,55.7 L838.75,55.21 L839.33,54.74 L839.9,54.27 L840.47,53.82 L841.04,53.38 L841.62,52.95 L842.19,52.53 L842.76,52.12 L843.33,51.72 L843.9,51.34 L844.48,50.96 L845.05,50.59 L845.62,50.23 L846.19,49.87 L846.77,49.53 L847.34,49.19 L847.91,48.87 L848.48,48.55 L849.06,48.23 L849.63,47.93 L850.2,47.63 L850.77,47.34 L851.35,47.05 L851.92,46.78 L852.49,46.5 L853.06,46.24 L853.64,45.98 L854.21,45.72 L854.78,45.47 L855.36,45.23 L855.93,44.99 L856.5,44.76 L857.07,44.53 L857.64,44.31 L858.22,44.09 L858.79,43.88 L859.36,43.67 L859.93,43.46 L860.51,43.26 L861.08,43.07 L861.65,42.87 L862.22,42.68 L862.8,42.5 L863.37,42.32 L863.94,42.14 L864.51,41.97 L865.09,41.8 L865.66,41.63 L866.23,41.47 L866.8,41.3 L867.38,41.15 L867.95,40.99 L868.52,40.84 L869.1,40.69 L869.67,40.55 L870.24,40.4 L870.81,40.26 L871.38,40.12 L871.96,39.99 L872.53,39.86 L873.1,39.73 L873.67,39.6 L874.25,39.47 L874.82,39.35 L875.39,39.23 L875.96,39.11 L876.54,38.99 L877.11,38.88 L877.68,38.76 L878.25,38.65 L878.83,38.54 L879.4,38.44 L879.97,38.33 L880.54,38.23 L881.12,38.12 L881.69,38.02 L882.26,37.93 L882.84,37.83 L883.41,37.73 L883.98,37.64 L884.55,37.55 L885.12,37.46 L885.7,37.37 L886.27,37.28 L886.84,37.19 L887.41,37.11 L887.99,37.03 L888.56,36.94 L889.13,36.86 L889.7,36.78 L890.28,36.71 L890.85,36.63 L891.42,36.55 L891.99,36.48 L892.57,36.4 L893.14,36.33 L893.71,36.26 L894.28,36.19 L894.86,36.12 L895.43,36.05 L896,35.99 L896.58,35.92 L897.15,35.85 L897.72,35.79 L898.29,35.73 L898.87,35.66 L899.44,35.6 L900.01,35.54 L900.58,35.48 L901.15,35.42 L901.73,35.36 L902.3,35.31 L902.87,35.25 L903.44,35.2 L904.02,35.14 L904.59,35.09 L905.16,35.03 L905.73,34.98 L906.31,34.93 L906.88,34.88 L907.45,34.83 L908.02,34.78 L908.6,34.73 L909.17,34.68 L909.74,34.63 L910.32,34.59 L910.89,34.54 L911.46,34.49 L912.03,34.45 L912.61,34.4 L913.18,34.36 L913.75,34.32 L914.32,34.27 L914.89,34.23 L915.47,34.19 L916.04,34.15 L916.61,34.11 L917.18,34.07 L917.76,34.03 L918.33,33.99 L918.9,33.95 L919.47,33.91 L920.05,33.87 L920.62,33.83 L921.19,33.8 L921.76,33.76 L922.34,33.72 L922.91,33.69 L923.48,33.65 L924.05,33.62 L924.63,33.59 L925.2,33.55 L925.77,33.52 L926.35,33.48 L926.92,33.45 L927.49,33.42 L928.06,33.39 L928.63,33.36 L929.21,33.33 L929.78,33.29 L930.35,33.26 L930.92,33.23 L931.5,33.2 L932.07,33.17 L932.64,33.15 L933.21,33.12 L933.79,33.09 L934.36,33.06 L934.93,33.03 L935.5,33.01 L936.08,32.98 L936.65,32.95 L937.22,32.92 L937.79,32.9 L938.37,32.87 L938.94,32.85 L939.51,32.82 L940.09,32.8 L940.66,32.77 L941.23,32.75 L941.8,32.72 L942.38,32.7 L942.95,32.68 L943.52,32.65 L944.09,32.63 L944.66,32.61 L945.24,32.58 L945.81,32.56 L946.38,32.54 L946.95,32.52 L947.53,32.49 L948.1,32.47 L948.67,32.45 L949.24,32.43 L949.82,32.41 L950.39,32.39 L950.96,32.37 L951.53,32.35 L952.11,32.33 L952.68,32.31 L953.25,32.29 L953.83,32.27 L954.4,32.25 L954.97,32.23 L955.54,32.21 L956.12,32.19 L956.69,32.17 L957.26,32.15 L957.83,32.14 L958.4,32.12 L958.98,32.1 L959.55,32.08 L960.12,32.07 L960.69,32.05 L961.27,32.03 L961.84,32.01 L962.41,32 L962.98,31.98 L963.56,31.96 L964.13,31.95 L964.7,31.93 L965.27,31.92 L965.85,31.9 L966.42,31.88 L966.99,31.87 L967.57,31.85 L968.14,31.84 L968.71,31.82 L969.28,31.81 L969.86,31.79 L970.43,31.78 L971,31.76 L971.57,31.75 L972.14,31.73 L972.72,31.72 L973.29,31.71 L973.86,31.69 L974.43,31.68 L975.01,31.66 L975.58,31.65 L976.15,31.64 L976.72,31.62 L977.3,31.61 L977.87,31.6 L978.44,31.58 L979.01,31.57 L979.59,31.56 L980.16,31.55 L980.73,31.53 L981.3,31.52 L981.88,31.51 L982.45,31.5 L983.02,31.48 L983.6,31.47 L984.17,31.46 L984.74,31.45 L985.31,31.44 L985.88,31.43 L986.46,31.41 L987.03,31.4 L987.6,31.39 L988.17,31.38 L988.75,31.37 L989.32,31.36 L989.89,31.35 L990.46,31.34 L991.04,31.33 L991.61,31.31 L992.18,31.3 L992.75,31.29 L993.33,31.28 L993.9,31.27 L994.47,31.26 L995.04,31.25 L995.62,31.24 L996.19,31.23 L996.76,31.22 L997.34,31.21 L997.91,31.2 L998.48,31.19 L999.05,31.18 L999.62,31.17 L1000.2,31.16 L1000.77,31.16 L1001.34,31.15 L1001.91,31.14 L1002.49,31.13 L1003.06,31.12 L1003.63,31.11 L1004.2,31.1 L1004.78,31.09 L1005.35,31.08 L1005.92,31.07 L1006.49,31.07 L1007.07,31.06 L1007.64,31.05 L1008.21,31.04 L1008.78,31.03 L1009.36,31.02 L1009.93,31.02 L1010.5,31.01 L1011.08,31 L1011.65,30.99 L1012.22,30.98 L1012.79,30.97 L1013.37,30.97 L1013.94,30.96 L1014.51,30.95 L1015.08,30.94 L1015.65,30.94 L1016.23,30.93 L1016.8,30.92" fill="none" stroke="#fb2a10" stroke-width="3.2" stroke-linejoin="round"/>
<rect x="558.8" y="29.4" width="458" height="153.6" fill="none" stroke="#262626" stroke-width="1"/>
<line x1="558.8" y1="183" x2="558.8" y2="178.4" stroke="#262626" stroke-width="1"/>
<line x1="558.8" y1="29.4" x2="558.8" y2="34" stroke="#262626" stroke-width="1"/>
<line x1="673.3" y1="183" x2="673.3" y2="178.4" stroke="#262626" stroke-width="1"/>
<line x1="673.3" y1="29.4" x2="673.3" y2="34" stroke="#262626" stroke-width="1"/>
<line x1="787.8" y1="183" x2="787.8" y2="178.4" stroke="#262626" stroke-width="1"/>
<line x1="787.8" y1="29.4" x2="787.8" y2="34" stroke="#262626" stroke-width="1"/>
<line x1="902.3" y1="183" x2="902.3" y2="178.4" stroke="#262626" stroke-width="1"/>
<line x1="902.3" y1="29.4" x2="902.3" y2="34" stroke="#262626" stroke-width="1"/>
<line x1="1016.8" y1="183" x2="1016.8" y2="178.4" stroke="#262626" stroke-width="1"/>
<line x1="1016.8" y1="29.4" x2="1016.8" y2="34" stroke="#262626" stroke-width="1"/>
<line x1="558.8" y1="183" x2="563.4" y2="183" stroke="#262626" stroke-width="1"/>
<line x1="1016.8" y1="183" x2="1012.2" y2="183" stroke="#262626" stroke-width="1"/>
<line x1="558.8" y1="106.2" x2="563.4" y2="106.2" stroke="#262626" stroke-width="1"/>
<line x1="1016.8" y1="106.2" x2="1012.2" y2="106.2" stroke="#262626" stroke-width="1"/>
<line x1="558.8" y1="29.4" x2="563.4" y2="29.4" stroke="#262626" stroke-width="1"/>
<line x1="1016.8" y1="29.4" x2="1012.2" y2="29.4" stroke="#262626" stroke-width="1"/>
<text x="548.57" y="216.6" style="font-family:'Liberation Sans', sans-serif;font-size:23px" fill="#111">-2</text>
<text x="663.07" y="216.6" style="font-family:'Liberation Sans', sans-serif;font-size:23px" fill="#111">-</text>
<path d="M0.3726,0 L0.2847,0 L0.2847,-0.560 C0.2637,-0.540 0.235,-0.519 0.1987,-0.497 C0.1625,-0.475 0.1303,-0.459 0.104,-0.454 L0.104,-0.539 C0.1504,-0.561 0.1952,-0.589 0.2446,-0.630 C0.2940,-0.672 0.3090,-0.695 0.3228,-0.716 L0.3726,-0.716 Z" transform="translate(670.73,216.6) scale(23)" fill="#111"/>
<text x="781.4" y="216.6" style="font-family:'Liberation Sans', sans-serif;font-size:23px" fill="#111">0</text>
<path d="M0.3726,0 L0.2847,0 L0.2847,-0.560 C0.2637,-0.540 0.235,-0.519 0.1987,-0.497 C0.1625,-0.475 0.1303,-0.459 0.104,-0.454 L0.104,-0.539 C0.1504,-0.561 0.1952,-0.589 0.2446,-0.630 C0.2940,-0.672 0.3090,-0.695 0.3228,-0.716 L0.3726,-0.716 Z" transform="translate(895.9,216.6) scale(23)" fill="#111"/>
<text x="1010.4" y="216.6" style="font-family:'Liberation Sans', sans-serif;font-size:23px" fill="#111">2</text>
<text x="537.01" y="192.94" style="font-family:'Liberation Sans', sans-serif;font-size:23px" fill="#111">0</text>
<text x="517.83" y="115.34" style="font-family:'Liberation Sans', sans-serif;font-size:23px" fill="#111">0.5</text>
<path d="M0.3726,0 L0.2847,0 L0.2847,-0.560 C0.2637,-0.540 0.235,-0.519 0.1987,-0.497 C0.1625,-0.475 0.1303,-0.459 0.104,-0.454 L0.104,-0.539 C0.1504,-0.561 0.1952,-0.589 0.2446,-0.630 C0.2940,-0.672 0.3090,-0.695 0.3228,-0.716 L0.3726,-0.716 Z" transform="translate(537.01,38.03) scale(23)" fill="#111"/>
<text x="0" y="0" transform="translate(505.7,163.06) rotate(-90)" style="font-family:'Liberation Sans', sans-serif;font-size:25.79px" fill="#111">Reflection</text>
<text x="745.97" y="237.24" style="font-family:'Liberation Serif', serif;font-size:25.83px" fill="#111" textLength="20.2" lengthAdjust="spacingAndGlyphs">ω</text>
<line x1="775.2" y1="229.4" x2="791" y2="229.4" stroke="#111" stroke-width="1.3"/>
<text x="800.79" y="237.24" style="font-family:'Liberation Serif', serif;font-style:italic;font-size:25.83px" fill="#111" textLength="20.4" lengthAdjust="spacingAndGlyphs">ω</text>
<text x="820.6" y="242.43" style="font-family:'Liberation Serif', serif;font-size:17.48px" fill="#111" textLength="11.19" lengthAdjust="spacingAndGlyphs">0</text>
<text x="841.84" y="236.91" style="font-family:'Liberation Serif', serif;font-size:26.48px" fill="#111" textLength="39.5" lengthAdjust="spacingAndGlyphs">(Ω)</text>
<rect x="930.1" y="47.5" width="140.5" height="54.5" fill="#fff" stroke="#2a2a2a" stroke-width="1"/>
<line x1="936.2" y1="62.6" x2="959" y2="62.6" stroke="#3b78f0" stroke-width="3.2"/>
<line x1="936.2" y1="87.3" x2="959" y2="87.3" stroke="#fb2a10" stroke-width="3.2"/>
<text x="963.62" y="69.7" style="font-family:'Liberation Sans', sans-serif;font-size:19.7px" fill="#111">Low Power</text>
<text x="963.62" y="94.9" style="font-family:'Liberation Sans', sans-serif;font-size:19.7px" fill="#111">High Power</text>
<line x1="787.8" y1="44" x2="787.8" y2="172" stroke="#111" stroke-width="1.2"/>
<path d="M787.8,37.6 L783.2,46.8 L792.4,46.8 Z" fill="#000" stroke="none" stroke-width="1" stroke-linejoin="round"/>
<path d="M787.8,179.2 L783.2,169.6 L792.4,169.6 Z" fill="#000" stroke="none" stroke-width="1" stroke-linejoin="round"/>
<path d="M835.6,82.8 C828,70 815,66 800,66.2" fill="none" stroke="#a8a8a8" stroke-width="1.5"/>
<path d="M793.6,66.6 L803.2,61.2 L802.4,71.4 Z" fill="#a8a8a8" stroke="none" stroke-width="1" stroke-linejoin="round"/>
<text x="832.56" y="104.5" style="font-family:'Liberation Serif', serif;font-size:26.97px" fill="#111" textLength="34.04" lengthAdjust="spacingAndGlyphs">ΔR</text>
<rect x="786.7" y="5.9" width="3.4" height="11.5" fill="#ffa000"/>
<path d="M783.4,16.7 L793.4,16.7 L788.4,26.9 Z" fill="#ffa000" stroke="none" stroke-width="1" stroke-linejoin="round"/>
<rect x="900.9" y="5.9" width="3.4" height="11.5" fill="#2a8c1a"/>
<path d="M897.6,16.7 L907.6,16.7 L902.6,26.9 Z" fill="#2a8c1a" stroke="none" stroke-width="1" stroke-linejoin="round"/>
<text x="479.9" y="27.59" style="font-family:'Liberation Sans', sans-serif;font-weight:bold;font-size:28.13px" fill="#000">(b)</text>
<line x1="590.24" y1="263.4" x2="590.24" y2="416.6" stroke="#c8c8c8" stroke-width="0.8" stroke-dasharray="1,1"/>
<line x1="608.75" y1="263.4" x2="608.75" y2="416.6" stroke="#c8c8c8" stroke-width="0.8" stroke-dasharray="1,1"/>
<line x1="621.88" y1="263.4" x2="621.88" y2="416.6" stroke="#c8c8c8" stroke-width="0.8" stroke-dasharray="1,1"/>
<line x1="632.06" y1="263.4" x2="632.06" y2="416.6" stroke="#c8c8c8" stroke-width="0.8" stroke-dasharray="1,1"/>
<line x1="640.38" y1="263.4" x2="640.38" y2="416.6" stroke="#c8c8c8" stroke-width="0.8" stroke-dasharray="1,1"/>
<line x1="647.42" y1="263.4" x2="647.42" y2="416.6" stroke="#c8c8c8" stroke-width="0.8" stroke-dasharray="1,1"/>
<line x1="653.51" y1="263.4" x2="653.51" y2="416.6" stroke="#c8c8c8" stroke-width="0.8" stroke-dasharray="1,1"/>
<line x1="658.89" y1="263.4" x2="658.89" y2="416.6" stroke="#c8c8c8" stroke-width="0.8" stroke-dasharray="1,1"/>
<line x1="695.34" y1="263.4" x2="695.34" y2="416.6" stroke="#c8c8c8" stroke-width="0.8" stroke-dasharray="1,1"/>
<line x1="713.85" y1="263.4" x2="713.85" y2="416.6" stroke="#c8c8c8" stroke-width="0.8" stroke-dasharray="1,1"/>
<line x1="726.98" y1="263.4" x2="726.98" y2="416.6" stroke="#c8c8c8" stroke-width="0.8" stroke-dasharray="1,1"/>
<line x1="737.16" y1="263.4" x2="737.16" y2="416.6" stroke="#c8c8c8" stroke-width="0.8" stroke-dasharray="1,1"/>
<line x1="745.48" y1="263.4" x2="745.48" y2="416.6" stroke="#c8c8c8" stroke-width="0.8" stroke-dasharray="1,1"/>
<line x1="752.52" y1="263.4" x2="752.52" y2="416.6" stroke="#c8c8c8" stroke-width="0.8" stroke-dasharray="1,1"/>
<line x1="758.61" y1="263.4" x2="758.61" y2="416.6" stroke="#c8c8c8" stroke-width="0.8" stroke-dasharray="1,1"/>
<line x1="763.99" y1="263.4" x2="763.99" y2="416.6" stroke="#c8c8c8" stroke-width="0.8" stroke-dasharray="1,1"/>
<line x1="663.7" y1="263.4" x2="663.7" y2="416.6" stroke="#dcdcdc" stroke-width="1"/>
<line x1="558.6" y1="340" x2="768.8" y2="340" stroke="#dcdcdc" stroke-width="1"/>
<path d="M558.6,398.9 L559.13,398.89 L559.65,398.87 L560.18,398.86 L560.71,398.84 L561.23,398.82 L561.76,398.8 L562.29,398.79 L562.81,398.77 L563.34,398.75 L563.87,398.73 L564.39,398.71 L564.92,398.69 L565.45,398.67 L565.98,398.65 L566.5,398.63 L567.03,398.61 L567.56,398.59 L568.08,398.56 L568.61,398.54 L569.14,398.52 L569.66,398.49 L570.19,398.47 L570.72,398.44 L571.24,398.42 L571.77,398.39 L572.3,398.36 L572.82,398.34 L573.35,398.31 L573.88,398.28 L574.4,398.25 L574.93,398.22 L575.46,398.19 L575.98,398.16 L576.51,398.13 L577.04,398.09 L577.57,398.06 L578.09,398.03 L578.62,397.99 L579.15,397.95 L579.67,397.92 L580.2,397.88 L580.73,397.84 L581.25,397.8 L581.78,397.76 L582.31,397.72 L582.83,397.68 L583.36,397.64 L583.89,397.6 L584.41,397.55 L584.94,397.51 L585.47,397.46 L585.99,397.41 L586.52,397.36 L587.05,397.32 L587.57,397.26 L588.1,397.21 L588.63,397.16 L589.16,397.11 L589.68,397.05 L590.21,397 L590.74,396.94 L591.26,396.88 L591.79,396.82 L592.32,396.76 L592.84,396.7 L593.37,396.63 L593.9,396.57 L594.42,396.5 L594.95,396.43 L595.48,396.36 L596,396.29 L596.53,396.22 L597.06,396.14 L597.58,396.07 L598.11,395.99 L598.64,395.91 L599.16,395.83 L599.69,395.75 L600.22,395.66 L600.75,395.58 L601.27,395.49 L601.8,395.4 L602.33,395.31 L602.85,395.21 L603.38,395.12 L603.91,395.02 L604.43,394.92 L604.96,394.82 L605.49,394.71 L606.01,394.61 L606.54,394.5 L607.07,394.39 L607.59,394.27 L608.12,394.16 L608.65,394.04 L609.17,393.92 L609.7,393.79 L610.23,393.67 L610.75,393.54 L611.28,393.41 L611.81,393.27 L612.34,393.14 L612.86,393 L613.39,392.86 L613.92,392.71 L614.44,392.56 L614.97,392.41 L615.5,392.26 L616.02,392.1 L616.55,391.94 L617.08,391.77 L617.6,391.61 L618.13,391.44 L618.66,391.26 L619.18,391.08 L619.71,390.9 L620.24,390.72 L620.76,390.53 L621.29,390.34 L621.82,390.14 L622.34,389.94 L622.87,389.74 L623.4,389.53 L623.93,389.32 L624.45,389.1 L624.98,388.88 L625.51,388.65 L626.03,388.43 L626.56,388.19 L627.09,387.95 L627.61,387.71 L628.14,387.46 L628.67,387.21 L629.19,386.96 L629.72,386.69 L630.25,386.43 L630.77,386.16 L631.3,385.88 L631.83,385.6 L632.35,385.31 L632.88,385.02 L633.41,384.73 L633.93,384.42 L634.46,384.12 L634.99,383.8 L635.52,383.48 L636.04,383.16 L636.57,382.83 L637.1,382.49 L637.62,382.15 L638.15,381.81 L638.68,381.45 L639.2,381.09 L639.73,380.73 L640.26,380.36 L640.78,379.98 L641.31,379.6 L641.84,379.21 L642.36,378.81 L642.89,378.41 L643.42,378 L643.94,377.58 L644.47,377.16 L645,376.73 L645.52,376.3 L646.05,375.86 L646.58,375.41 L647.11,374.95 L647.63,374.49 L648.16,374.02 L648.69,373.55 L649.21,373.07 L649.74,372.58 L650.27,372.08 L650.79,371.58 L651.32,371.07 L651.85,370.56 L652.37,370.04 L652.9,369.51 L653.43,368.97 L653.95,368.43 L654.48,367.88 L655.01,367.32 L655.53,366.76 L656.06,366.19 L656.59,365.61 L657.11,365.03 L657.64,364.44 L658.17,363.84 L658.7,363.24 L659.22,362.63 L659.75,362.02 L660.28,361.39 L660.8,360.77 L661.33,360.13 L661.86,359.49 L662.38,358.84 L662.91,358.19 L663.44,357.53 L663.96,356.87 L664.49,356.2 L665.02,355.52 L665.54,354.84 L666.07,354.16 L666.6,353.46 L667.12,352.77 L667.65,352.07 L668.18,351.36 L668.7,350.65 L669.23,349.93 L669.76,349.21 L670.29,348.49 L670.81,347.76 L671.34,347.03 L671.87,346.29 L672.39,345.55 L672.92,344.8 L673.45,344.06 L673.97,343.31 L674.5,342.56 L675.03,341.8 L675.55,341.04 L676.08,340.28 L676.61,339.52 L677.13,338.75 L677.66,337.99 L678.19,337.22 L678.71,336.45 L679.24,335.68 L679.77,334.9 L680.29,334.13 L680.82,333.36 L681.35,332.58 L681.88,331.81 L682.4,331.04 L682.93,330.26 L683.46,329.49 L683.98,328.72 L684.51,327.94 L685.04,327.17 L685.56,326.4 L686.09,325.64 L686.62,324.87 L687.14,324.1 L687.67,323.34 L688.2,322.58 L688.72,321.82 L689.25,321.07 L689.78,320.31 L690.3,319.56 L690.83,318.82 L691.36,318.07 L691.88,317.33 L692.41,316.6 L692.94,315.86 L693.47,315.13 L693.99,314.41 L694.52,313.69 L695.05,312.97 L695.57,312.26 L696.1,311.56 L696.63,310.86 L697.15,310.16 L697.68,309.47 L698.21,308.78 L698.73,308.1 L699.26,307.43 L699.79,306.76 L700.31,306.09 L700.84,305.44 L701.37,304.78 L701.89,304.14 L702.42,303.5 L702.95,302.86 L703.47,302.24 L704,301.62 L704.53,301 L705.06,300.39 L705.58,299.79 L706.11,299.2 L706.64,298.61 L707.16,298.03 L707.69,297.45 L708.22,296.89 L708.74,296.32 L709.27,295.77 L709.8,295.22 L710.32,294.68 L710.85,294.15 L711.38,293.62 L711.9,293.1 L712.43,292.59 L712.96,292.08 L713.48,291.58 L714.01,291.09 L714.54,290.61 L715.06,290.13 L715.59,289.66 L716.12,289.19 L716.65,288.74 L717.17,288.28 L717.7,287.84 L718.23,287.4 L718.75,286.97 L719.28,286.55 L719.81,286.13 L720.33,285.72 L720.86,285.32 L721.39,284.92 L721.91,284.53 L722.44,284.15 L722.97,283.77 L723.49,283.4 L724.02,283.03 L724.55,282.67 L725.07,282.32 L725.6,281.97 L726.13,281.63 L726.65,281.3 L727.18,280.97 L727.71,280.65 L728.24,280.33 L728.76,280.02 L729.29,279.71 L729.82,279.41 L730.34,279.12 L730.87,278.83 L731.4,278.55 L731.92,278.27 L732.45,278 L732.98,277.73 L733.5,277.47 L734.03,277.22 L734.56,276.96 L735.08,276.72 L735.61,276.48 L736.14,276.24 L736.66,276.01 L737.19,275.78 L737.72,275.56 L738.24,275.34 L738.77,275.13 L739.3,274.92 L739.83,274.72 L740.35,274.52 L740.88,274.33 L741.41,274.14 L741.93,273.95 L742.46,273.77 L742.99,273.59 L743.51,273.42 L744.04,273.25 L744.57,273.08 L745.09,272.92 L745.62,272.76 L746.15,272.61 L746.67,272.46 L747.2,272.31 L747.73,272.17 L748.25,272.03 L748.78,271.9 L749.31,271.77 L749.83,271.64 L750.36,271.51 L750.89,271.39 L751.42,271.28 L751.94,271.16 L752.47,271.05 L753,270.95 L753.52,270.84 L754.05,270.74 L754.58,270.64 L755.1,270.55 L755.63,270.46 L756.16,270.37 L756.68,270.29 L757.21,270.21 L757.74,270.13 L758.26,270.06 L758.79,269.99 L759.32,269.92 L759.84,269.85 L760.37,269.79 L760.9,269.73 L761.42,269.68 L761.95,269.63 L762.48,269.58 L763.01,269.54 L763.53,269.5 L764.06,269.46 L764.59,269.42 L765.11,269.39 L765.64,269.37 L766.17,269.35 L766.69,269.33 L767.22,269.31 L767.75,269.3 L768.27,269.29 L768.8,269.29" fill="none" stroke="#2f8c1f" stroke-width="3.2"/>
<path d="M558.6,269.47 L559.13,269.47 L559.65,269.47 L560.18,269.47 L560.71,269.47 L561.23,269.47 L561.76,269.47 L562.29,269.48 L562.81,269.48 L563.34,269.48 L563.87,269.48 L564.39,269.48 L564.92,269.48 L565.45,269.49 L565.98,269.49 L566.5,269.49 L567.03,269.49 L567.56,269.49 L568.08,269.49 L568.61,269.5 L569.14,269.5 L569.66,269.5 L570.19,269.5 L570.72,269.5 L571.24,269.5 L571.77,269.51 L572.3,269.51 L572.82,269.51 L573.35,269.51 L573.88,269.51 L574.4,269.52 L574.93,269.52 L575.46,269.52 L575.98,269.52 L576.51,269.52 L577.04,269.53 L577.57,269.53 L578.09,269.53 L578.62,269.53 L579.15,269.53 L579.67,269.54 L580.2,269.54 L580.73,269.54 L581.25,269.54 L581.78,269.55 L582.31,269.55 L582.83,269.55 L583.36,269.55 L583.89,269.56 L584.41,269.56 L584.94,269.56 L585.47,269.56 L585.99,269.57 L586.52,269.57 L587.05,269.57 L587.57,269.57 L588.1,269.58 L588.63,269.58 L589.16,269.58 L589.68,269.58 L590.21,269.59 L590.74,269.59 L591.26,269.59 L591.79,269.6 L592.32,269.6 L592.84,269.6 L593.37,269.6 L593.9,269.61 L594.42,269.61 L594.95,269.61 L595.48,269.62 L596,269.62 L596.53,269.62 L597.06,269.63 L597.58,269.63 L598.11,269.63 L598.64,269.64 L599.16,269.64 L599.69,269.64 L600.22,269.65 L600.75,269.65 L601.27,269.65 L601.8,269.66 L602.33,269.66 L602.85,269.67 L603.38,269.67 L603.91,269.67 L604.43,269.68 L604.96,269.68 L605.49,269.69 L606.01,269.69 L606.54,269.69 L607.07,269.7 L607.59,269.7 L608.12,269.71 L608.65,269.71 L609.17,269.71 L609.7,269.72 L610.23,269.72 L610.75,269.73 L611.28,269.73 L611.81,269.74 L612.34,269.74 L612.86,269.75 L613.39,269.75 L613.92,269.76 L614.44,269.76 L614.97,269.77 L615.5,269.77 L616.02,269.78 L616.55,269.78 L617.08,269.79 L617.6,269.79 L618.13,269.8 L618.66,269.8 L619.18,269.81 L619.71,269.81 L620.24,269.82 L620.76,269.83 L621.29,269.83 L621.82,269.84 L622.34,269.84 L622.87,269.85 L623.4,269.86 L623.93,269.86 L624.45,269.87 L624.98,269.88 L625.51,269.88 L626.03,269.89 L626.56,269.9 L627.09,269.9 L627.61,269.91 L628.14,269.92 L628.67,269.92 L629.19,269.93 L629.72,269.94 L630.25,269.94 L630.77,269.95 L631.3,269.96 L631.83,269.97 L632.35,269.98 L632.88,269.98 L633.41,269.99 L633.93,270 L634.46,270.01 L634.99,270.02 L635.52,270.02 L636.04,270.03 L636.57,270.04 L637.1,270.05 L637.62,270.06 L638.15,270.07 L638.68,270.08 L639.2,270.09 L639.73,270.09 L640.26,270.1 L640.78,270.11 L641.31,270.12 L641.84,270.13 L642.36,270.14 L642.89,270.15 L643.42,270.16 L643.94,270.17 L644.47,270.18 L645,270.2 L645.52,270.21 L646.05,270.22 L646.58,270.23 L647.11,270.24 L647.63,270.25 L648.16,270.26 L648.69,270.27 L649.21,270.29 L649.74,270.3 L650.27,270.31 L650.79,270.32 L651.32,270.34 L651.85,270.35 L652.37,270.36 L652.9,270.38 L653.43,270.39 L653.95,270.4 L654.48,270.42 L655.01,270.43 L655.53,270.44 L656.06,270.46 L656.59,270.47 L657.11,270.49 L657.64,270.5 L658.17,270.52 L658.7,270.53 L659.22,270.55 L659.75,270.57 L660.28,270.58 L660.8,270.6 L661.33,270.62 L661.86,270.63 L662.38,270.65 L662.91,270.67 L663.44,270.69 L663.96,270.7 L664.49,270.72 L665.02,270.74 L665.54,270.76 L666.07,270.78 L666.6,270.8 L667.12,270.82 L667.65,270.84 L668.18,270.86 L668.7,270.88 L669.23,270.9 L669.76,270.92 L670.29,270.94 L670.81,270.96 L671.34,270.99 L671.87,271.01 L672.39,271.03 L672.92,271.06 L673.45,271.08 L673.97,271.1 L674.5,271.13 L675.03,271.15 L675.55,271.18 L676.08,271.21 L676.61,271.23 L677.13,271.26 L677.66,271.29 L678.19,271.31 L678.71,271.34 L679.24,271.37 L679.77,271.4 L680.29,271.43 L680.82,271.46 L681.35,271.49 L681.88,271.52 L682.4,271.55 L682.93,271.59 L683.46,271.62 L683.98,271.65 L684.51,271.69 L685.04,271.72 L685.56,271.76 L686.09,271.79 L686.62,271.83 L687.14,271.87 L687.67,271.9 L688.2,271.94 L688.72,271.98 L689.25,272.02 L689.78,272.06 L690.3,272.1 L690.83,272.15 L691.36,272.19 L691.88,272.23 L692.41,272.28 L692.94,272.32 L693.47,272.37 L693.99,272.42 L694.52,272.47 L695.05,272.52 L695.57,272.57 L696.1,272.62 L696.63,272.67 L697.15,272.72 L697.68,272.78 L698.21,272.83 L698.73,272.89 L699.26,272.95 L699.79,273.01 L700.31,273.07 L700.84,273.13 L701.37,273.19 L701.89,273.26 L702.42,273.32 L702.95,273.39 L703.47,273.46 L704,273.53 L704.53,273.6 L705.06,273.67 L705.58,273.75 L706.11,273.82 L706.64,273.9 L707.16,273.98 L707.69,274.06 L708.22,274.15 L708.74,274.23 L709.27,274.32 L709.8,274.41 L710.32,274.5 L710.85,274.6 L711.38,274.69 L711.9,274.79 L712.43,274.9 L712.96,275 L713.48,275.11 L714.01,275.21 L714.54,275.33 L715.06,275.44 L715.59,275.56 L716.12,275.68 L716.65,275.8 L717.17,275.93 L717.7,276.06 L718.23,276.2 L718.75,276.34 L719.28,276.48 L719.81,276.62 L720.33,276.77 L720.86,276.93 L721.39,277.09 L721.91,277.25 L722.44,277.42 L722.97,277.59 L723.49,277.77 L724.02,277.96 L724.55,278.15 L725.07,278.34 L725.6,278.54 L726.13,278.75 L726.65,278.97 L727.18,279.19 L727.71,279.42 L728.24,279.66 L728.76,279.9 L729.29,280.15 L729.82,280.42 L730.34,280.69 L730.87,280.97 L731.4,281.26 L731.92,281.56 L732.45,281.87 L732.98,282.19 L733.5,282.53 L734.03,282.88 L734.56,283.24 L735.08,283.62 L735.61,284.01 L736.14,284.42 L736.66,284.84 L737.19,285.28 L737.72,285.74 L738.24,286.22 L738.77,286.72 L739.3,287.24 L739.83,287.79 L740.35,288.36 L740.88,288.95 L741.41,289.57 L741.93,290.23 L742.46,290.91 L742.99,291.63 L743.51,292.38 L744.04,293.17 L744.57,294 L745.09,294.88 L745.62,295.8 L746.15,296.76 L746.67,297.79 L747.2,298.87 L747.73,300 L748.25,301.21 L748.78,302.48 L749.31,303.83 L749.83,305.26 L750.36,306.78 L750.89,308.39 L751.42,310.1 L751.94,311.92 L752.47,313.85 L753,315.91 L753.52,318.11 L754.05,320.45 L754.58,322.95 L755.1,325.61 L755.63,328.46 L756.16,331.49 L756.68,334.73 L757.21,338.18 L757.74,341.86 L758.26,345.77 L758.79,349.92 L759.32,354.32 L759.84,358.95 L760.37,363.8 L760.9,368.86 L761.42,374.09 L761.95,379.43 L762.48,384.82 L763.01,390.15 L763.53,395.32 L764.06,400.18 L764.59,404.59 L765.11,408.39 L765.64,411.48 L766.17,413.77 L766.69,415.29 L767.22,416.14 L767.75,416.5 L768.27,416.59 L768.8,416.6" fill="none" stroke="#ffa510" stroke-width="3.2"/>
<rect x="558.6" y="263.4" width="210.2" height="153.2" fill="none" stroke="#262626" stroke-width="1"/>
<line x1="558.6" y1="416.6" x2="558.6" y2="413.1" stroke="#262626" stroke-width="1"/>
<line x1="558.6" y1="263.4" x2="558.6" y2="266.9" stroke="#262626" stroke-width="1"/>
<line x1="663.7" y1="416.6" x2="663.7" y2="413.1" stroke="#262626" stroke-width="1"/>
<line x1="663.7" y1="263.4" x2="663.7" y2="266.9" stroke="#262626" stroke-width="1"/>
<line x1="768.8" y1="416.6" x2="768.8" y2="413.1" stroke="#262626" stroke-width="1"/>
<line x1="768.8" y1="263.4" x2="768.8" y2="266.9" stroke="#262626" stroke-width="1"/>
<line x1="558.6" y1="416.6" x2="562.1" y2="416.6" stroke="#262626" stroke-width="1"/>
<line x1="768.8" y1="416.6" x2="765.3" y2="416.6" stroke="#262626" stroke-width="1"/>
<line x1="558.6" y1="340" x2="562.1" y2="340" stroke="#262626" stroke-width="1"/>
<line x1="768.8" y1="340" x2="765.3" y2="340" stroke="#262626" stroke-width="1"/>
<line x1="558.6" y1="263.4" x2="562.1" y2="263.4" stroke="#262626" stroke-width="1"/>
<line x1="768.8" y1="263.4" x2="765.3" y2="263.4" stroke="#262626" stroke-width="1"/>
<text x="537.01" y="426.54" style="font-family:'Liberation Sans', sans-serif;font-size:23px" fill="#111">0</text>
<text x="517.83" y="349.94" style="font-family:'Liberation Sans', sans-serif;font-size:23px" fill="#111">0.5</text>
<path d="M0.3726,0 L0.2847,0 L0.2847,-0.560 C0.2637,-0.540 0.235,-0.519 0.1987,-0.497 C0.1625,-0.475 0.1303,-0.459 0.104,-0.454 L0.104,-0.539 C0.1504,-0.561 0.1952,-0.589 0.2446,-0.630 C0.2940,-0.672 0.3090,-0.695 0.3228,-0.716 L0.3726,-0.716 Z" transform="translate(537.01,273.63) scale(23)" fill="#111"/>
<path d="M0.3726,0 L0.2847,0 L0.2847,-0.560 C0.2637,-0.540 0.235,-0.519 0.1987,-0.497 C0.1625,-0.475 0.1303,-0.459 0.104,-0.454 L0.104,-0.539 C0.1504,-0.561 0.1952,-0.589 0.2446,-0.630 C0.2940,-0.672 0.3090,-0.695 0.3228,-0.716 L0.3726,-0.716 Z" transform="translate(537.28,456.3) scale(23)" fill="#111"/>
<text x="550.07" y="456.3" style="font-family:'Liberation Sans', sans-serif;font-size:23px" fill="#111">0</text>
<text x="562.86" y="445.3" style="font-family:'Liberation Sans', sans-serif;font-size:17.5px" fill="#111">-2</text>
<path d="M0.3726,0 L0.2847,0 L0.2847,-0.560 C0.2637,-0.540 0.235,-0.519 0.1987,-0.497 C0.1625,-0.475 0.1303,-0.459 0.104,-0.454 L0.104,-0.539 C0.1504,-0.561 0.1952,-0.589 0.2446,-0.630 C0.2940,-0.672 0.3090,-0.695 0.3228,-0.716 L0.3726,-0.716 Z" transform="translate(643.54,456.3) scale(23)" fill="#111"/>
<text x="656.33" y="456.3" style="font-family:'Liberation Sans', sans-serif;font-size:23px" fill="#111">0</text>
<text x="669.12" y="445.3" style="font-family:'Liberation Sans', sans-serif;font-size:17.5px" fill="#111">-</text>
<path d="M0.3726,0 L0.2847,0 L0.2847,-0.560 C0.2637,-0.540 0.235,-0.519 0.1987,-0.497 C0.1625,-0.475 0.1303,-0.459 0.104,-0.454 L0.104,-0.539 C0.1504,-0.561 0.1952,-0.589 0.2446,-0.630 C0.2940,-0.672 0.3090,-0.695 0.3228,-0.716 L0.3726,-0.716 Z" transform="translate(674.95,445.3) scale(17.5)" fill="#111"/>
<path d="M0.3726,0 L0.2847,0 L0.2847,-0.560 C0.2637,-0.540 0.235,-0.519 0.1987,-0.497 C0.1625,-0.475 0.1303,-0.459 0.104,-0.454 L0.104,-0.539 C0.1504,-0.561 0.1952,-0.589 0.2446,-0.630 C0.2940,-0.672 0.3090,-0.695 0.3228,-0.716 L0.3726,-0.716 Z" transform="translate(750.26,456.3) scale(23)" fill="#111"/>
<text x="763.05" y="456.3" style="font-family:'Liberation Sans', sans-serif;font-size:23px" fill="#111">0</text>
<text x="775.85" y="445.3" style="font-family:'Liberation Sans', sans-serif;font-size:17.5px" fill="#111">0</text>
<text x="0" y="0" transform="translate(506.17,396.78) rotate(-90)" style="font-family:'Liberation Sans', sans-serif;font-size:26.02px" fill="#111">Reflection</text>
<text x="588.33" y="484.56" style="font-family:'Liberation Sans', sans-serif;font-size:24.35px" fill="#111" textLength="118.43" lengthAdjust="spacingAndGlyphs">Saturation</text>
<text x="481.58" y="265.69" style="font-family:'Liberation Sans', sans-serif;font-weight:bold;font-size:26.74px" fill="#000">(c)</text>
<line x1="881.6" y1="263.4" x2="881.6" y2="416.8" stroke="#c8c8c8" stroke-width="0.8" stroke-dasharray="1,1"/>
<line x1="896.22" y1="263.4" x2="896.22" y2="416.8" stroke="#c8c8c8" stroke-width="0.8" stroke-dasharray="1,1"/>
<line x1="906.6" y1="263.4" x2="906.6" y2="416.8" stroke="#c8c8c8" stroke-width="0.8" stroke-dasharray="1,1"/>
<line x1="914.65" y1="263.4" x2="914.65" y2="416.8" stroke="#c8c8c8" stroke-width="0.8" stroke-dasharray="1,1"/>
<line x1="921.23" y1="263.4" x2="921.23" y2="416.8" stroke="#c8c8c8" stroke-width="0.8" stroke-dasharray="1,1"/>
<line x1="926.79" y1="263.4" x2="926.79" y2="416.8" stroke="#c8c8c8" stroke-width="0.8" stroke-dasharray="1,1"/>
<line x1="931.6" y1="263.4" x2="931.6" y2="416.8" stroke="#c8c8c8" stroke-width="0.8" stroke-dasharray="1,1"/>
<line x1="935.85" y1="263.4" x2="935.85" y2="416.8" stroke="#c8c8c8" stroke-width="0.8" stroke-dasharray="1,1"/>
<line x1="964.65" y1="263.4" x2="964.65" y2="416.8" stroke="#c8c8c8" stroke-width="0.8" stroke-dasharray="1,1"/>
<line x1="979.27" y1="263.4" x2="979.27" y2="416.8" stroke="#c8c8c8" stroke-width="0.8" stroke-dasharray="1,1"/>
<line x1="989.65" y1="263.4" x2="989.65" y2="416.8" stroke="#c8c8c8" stroke-width="0.8" stroke-dasharray="1,1"/>
<line x1="997.7" y1="263.4" x2="997.7" y2="416.8" stroke="#c8c8c8" stroke-width="0.8" stroke-dasharray="1,1"/>
<line x1="1004.28" y1="263.4" x2="1004.28" y2="416.8" stroke="#c8c8c8" stroke-width="0.8" stroke-dasharray="1,1"/>
<line x1="1009.84" y1="263.4" x2="1009.84" y2="416.8" stroke="#c8c8c8" stroke-width="0.8" stroke-dasharray="1,1"/>
<line x1="1014.65" y1="263.4" x2="1014.65" y2="416.8" stroke="#c8c8c8" stroke-width="0.8" stroke-dasharray="1,1"/>
<line x1="1018.9" y1="263.4" x2="1018.9" y2="416.8" stroke="#c8c8c8" stroke-width="0.8" stroke-dasharray="1,1"/>
<line x1="939.65" y1="263.4" x2="939.65" y2="416.8" stroke="#dcdcdc" stroke-width="1"/>
<line x1="856.6" y1="340.1" x2="1022.7" y2="340.1" stroke="#dcdcdc" stroke-width="1"/>
<path d="M856.6,269.36 L857.16,269.45 L857.71,269.54 L858.27,269.63 L858.82,269.72 L859.38,269.82 L859.93,269.91 L860.49,270.01 L861.04,270.11 L861.6,270.21 L862.16,270.31 L862.71,270.42 L863.27,270.52 L863.82,270.63 L864.38,270.74 L864.93,270.85 L865.49,270.96 L866.04,271.07 L866.6,271.19 L867.15,271.3 L867.71,271.42 L868.27,271.54 L868.82,271.66 L869.38,271.78 L869.93,271.91 L870.49,272.04 L871.04,272.16 L871.6,272.29 L872.15,272.43 L872.71,272.56 L873.27,272.69 L873.82,272.83 L874.38,272.97 L874.93,273.11 L875.49,273.26 L876.04,273.4 L876.6,273.55 L877.15,273.7 L877.71,273.85 L878.27,274 L878.82,274.16 L879.38,274.32 L879.93,274.48 L880.49,274.64 L881.04,274.81 L881.6,274.97 L882.15,275.14 L882.71,275.31 L883.26,275.49 L883.82,275.66 L884.38,275.84 L884.93,276.02 L885.49,276.21 L886.04,276.39 L886.6,276.58 L887.15,276.77 L887.71,276.97 L888.26,277.16 L888.82,277.36 L889.38,277.56 L889.93,277.77 L890.49,277.97 L891.04,278.18 L891.6,278.39 L892.15,278.61 L892.71,278.83 L893.26,279.05 L893.82,279.27 L894.38,279.5 L894.93,279.73 L895.49,279.96 L896.04,280.2 L896.6,280.43 L897.15,280.68 L897.71,280.92 L898.26,281.17 L898.82,281.42 L899.37,281.67 L899.93,281.93 L900.49,282.19 L901.04,282.46 L901.6,282.72 L902.15,282.99 L902.71,283.27 L903.26,283.55 L903.82,283.83 L904.37,284.11 L904.93,284.4 L905.49,284.69 L906.04,284.98 L906.6,285.28 L907.15,285.58 L907.71,285.89 L908.26,286.2 L908.82,286.51 L909.37,286.83 L909.93,287.15 L910.49,287.47 L911.04,287.8 L911.6,288.13 L912.15,288.47 L912.71,288.81 L913.26,289.15 L913.82,289.5 L914.37,289.85 L914.93,290.2 L915.48,290.56 L916.04,290.92 L916.6,291.29 L917.15,291.66 L917.71,292.04 L918.26,292.42 L918.82,292.8 L919.37,293.19 L919.93,293.58 L920.48,293.98 L921.04,294.38 L921.6,294.78 L922.15,295.19 L922.71,295.6 L923.26,296.02 L923.82,296.44 L924.37,296.87 L924.93,297.3 L925.48,297.73 L926.04,298.17 L926.6,298.61 L927.15,299.06 L927.71,299.51 L928.26,299.97 L928.82,300.43 L929.37,300.89 L929.93,301.36 L930.48,301.83 L931.04,302.31 L931.59,302.79 L932.15,303.28 L932.71,303.77 L933.26,304.27 L933.82,304.77 L934.37,305.27 L934.93,305.78 L935.48,306.29 L936.04,306.81 L936.59,307.33 L937.15,307.85 L937.71,308.38 L938.26,308.92 L938.82,309.46 L939.37,310 L939.93,310.55 L940.48,311.1 L941.04,311.65 L941.59,312.21 L942.15,312.78 L942.71,313.34 L943.26,313.92 L943.82,314.49 L944.37,315.07 L944.93,315.65 L945.48,316.24 L946.04,316.83 L946.59,317.43 L947.15,318.03 L947.71,318.63 L948.26,319.24 L948.82,319.85 L949.37,320.46 L949.93,321.08 L950.48,321.7 L951.04,322.33 L951.59,322.95 L952.15,323.59 L952.7,324.22 L953.26,324.86 L953.82,325.5 L954.37,326.14 L954.93,326.79 L955.48,327.44 L956.04,328.09 L956.59,328.75 L957.15,329.41 L957.7,330.07 L958.26,330.73 L958.82,331.4 L959.37,332.07 L959.93,332.74 L960.48,333.42 L961.04,334.09 L961.59,334.77 L962.15,335.45 L962.7,336.13 L963.26,336.81 L963.82,337.5 L964.37,338.19 L964.93,338.88 L965.48,339.57 L966.04,340.26 L966.59,340.95 L967.15,341.65 L967.7,342.34 L968.26,343.04 L968.81,343.73 L969.37,344.43 L969.93,345.13 L970.48,345.83 L971.04,346.53 L971.59,347.23 L972.15,347.93 L972.7,348.63 L973.26,349.33 L973.81,350.03 L974.37,350.73 L974.93,351.43 L975.48,352.13 L976.04,352.82 L976.59,353.52 L977.15,354.22 L977.7,354.91 L978.26,355.61 L978.81,356.3 L979.37,357 L979.93,357.69 L980.48,358.38 L981.04,359.07 L981.59,359.75 L982.15,360.44 L982.7,361.12 L983.26,361.8 L983.81,362.48 L984.37,363.16 L984.92,363.83 L985.48,364.5 L986.04,365.17 L986.59,365.84 L987.15,366.5 L987.7,367.16 L988.26,367.82 L988.81,368.47 L989.37,369.12 L989.92,369.77 L990.48,370.42 L991.04,371.06 L991.59,371.7 L992.15,372.33 L992.7,372.96 L993.26,373.59 L993.81,374.21 L994.37,374.83 L994.92,375.44 L995.48,376.05 L996.04,376.66 L996.59,377.26 L997.15,377.86 L997.7,378.45 L998.26,379.04 L998.81,379.62 L999.37,380.2 L999.92,380.78 L1000.48,381.35 L1001.03,381.91 L1001.59,382.47 L1002.15,383.03 L1002.7,383.58 L1003.26,384.12 L1003.81,384.66 L1004.37,385.19 L1004.92,385.72 L1005.48,386.25 L1006.03,386.77 L1006.59,387.28 L1007.15,387.79 L1007.7,388.29 L1008.26,388.79 L1008.81,389.28 L1009.37,389.76 L1009.92,390.24 L1010.48,390.72 L1011.03,391.19 L1011.59,391.65 L1012.15,392.11 L1012.7,392.56 L1013.26,393.01 L1013.81,393.45 L1014.37,393.89 L1014.92,394.32 L1015.48,394.74 L1016.03,395.16 L1016.59,395.57 L1017.14,395.98 L1017.7,396.38 L1018.26,396.78 L1018.81,397.17 L1019.37,397.56 L1019.92,397.94 L1020.48,398.31 L1021.03,398.68 L1021.59,399.04 L1022.14,399.4 L1022.7,399.76" fill="none" stroke="#ffa510" stroke-width="3.2"/>
<rect x="856.6" y="263.4" width="166.1" height="153.4" fill="none" stroke="#262626" stroke-width="1"/>
<line x1="856.6" y1="416.8" x2="856.6" y2="413.3" stroke="#262626" stroke-width="1"/>
<line x1="856.6" y1="263.4" x2="856.6" y2="266.9" stroke="#262626" stroke-width="1"/>
<line x1="939.65" y1="416.8" x2="939.65" y2="413.3" stroke="#262626" stroke-width="1"/>
<line x1="939.65" y1="263.4" x2="939.65" y2="266.9" stroke="#262626" stroke-width="1"/>
<line x1="1022.7" y1="416.8" x2="1022.7" y2="413.3" stroke="#262626" stroke-width="1"/>
<line x1="1022.7" y1="263.4" x2="1022.7" y2="266.9" stroke="#262626" stroke-width="1"/>
<line x1="856.6" y1="416.8" x2="860.1" y2="416.8" stroke="#262626" stroke-width="1"/>
<line x1="1022.7" y1="416.8" x2="1019.2" y2="416.8" stroke="#262626" stroke-width="1"/>
<line x1="856.6" y1="340.1" x2="860.1" y2="340.1" stroke="#262626" stroke-width="1"/>
<line x1="1022.7" y1="340.1" x2="1019.2" y2="340.1" stroke="#262626" stroke-width="1"/>
<line x1="856.6" y1="263.4" x2="860.1" y2="263.4" stroke="#262626" stroke-width="1"/>
<line x1="1022.7" y1="263.4" x2="1019.2" y2="263.4" stroke="#262626" stroke-width="1"/>
<text x="835.21" y="426.74" style="font-family:'Liberation Sans', sans-serif;font-size:23px" fill="#111">0</text>
<text x="816.03" y="350.04" style="font-family:'Liberation Sans', sans-serif;font-size:23px" fill="#111">0.5</text>
<path d="M0.3726,0 L0.2847,0 L0.2847,-0.560 C0.2637,-0.540 0.235,-0.519 0.1987,-0.497 C0.1625,-0.475 0.1303,-0.459 0.104,-0.454 L0.104,-0.539 C0.1504,-0.561 0.1952,-0.589 0.2446,-0.630 C0.2940,-0.672 0.3090,-0.695 0.3228,-0.716 L0.3726,-0.716 Z" transform="translate(835.21,273.63) scale(23)" fill="#111"/>
<path d="M0.3726,0 L0.2847,0 L0.2847,-0.560 C0.2637,-0.540 0.235,-0.519 0.1987,-0.497 C0.1625,-0.475 0.1303,-0.459 0.104,-0.454 L0.104,-0.539 C0.1504,-0.561 0.1952,-0.589 0.2446,-0.630 C0.2940,-0.672 0.3090,-0.695 0.3228,-0.716 L0.3726,-0.716 Z" transform="translate(836.44,456.3) scale(23)" fill="#111"/>
<text x="849.23" y="456.3" style="font-family:'Liberation Sans', sans-serif;font-size:23px" fill="#111">0</text>
<text x="862.02" y="445.3" style="font-family:'Liberation Sans', sans-serif;font-size:17.5px" fill="#111">-</text>
<path d="M0.3726,0 L0.2847,0 L0.2847,-0.560 C0.2637,-0.540 0.235,-0.519 0.1987,-0.497 C0.1625,-0.475 0.1303,-0.459 0.104,-0.454 L0.104,-0.539 C0.1504,-0.561 0.1952,-0.589 0.2446,-0.630 C0.2940,-0.672 0.3090,-0.695 0.3228,-0.716 L0.3726,-0.716 Z" transform="translate(867.85,445.3) scale(17.5)" fill="#111"/>
<path d="M0.3726,0 L0.2847,0 L0.2847,-0.560 C0.2637,-0.540 0.235,-0.519 0.1987,-0.497 C0.1625,-0.475 0.1303,-0.459 0.104,-0.454 L0.104,-0.539 C0.1504,-0.561 0.1952,-0.589 0.2446,-0.630 C0.2940,-0.672 0.3090,-0.695 0.3228,-0.716 L0.3726,-0.716 Z" transform="translate(921.11,456.3) scale(23)" fill="#111"/>
<text x="933.9" y="456.3" style="font-family:'Liberation Sans', sans-serif;font-size:23px" fill="#111">0</text>
<text x="946.7" y="445.3" style="font-family:'Liberation Sans', sans-serif;font-size:17.5px" fill="#111">0</text>
<path d="M0.3726,0 L0.2847,0 L0.2847,-0.560 C0.2637,-0.540 0.235,-0.519 0.1987,-0.497 C0.1625,-0.475 0.1303,-0.459 0.104,-0.454 L0.104,-0.539 C0.1504,-0.561 0.1952,-0.589 0.2446,-0.630 C0.2940,-0.672 0.3090,-0.695 0.3228,-0.716 L0.3726,-0.716 Z" transform="translate(1005.45,456.3) scale(23)" fill="#111"/>
<text x="1018.24" y="456.3" style="font-family:'Liberation Sans', sans-serif;font-size:23px" fill="#111">0</text>
<path d="M0.3726,0 L0.2847,0 L0.2847,-0.560 C0.2637,-0.540 0.235,-0.519 0.1987,-0.497 C0.1625,-0.475 0.1303,-0.459 0.104,-0.454 L0.104,-0.539 C0.1504,-0.561 0.1952,-0.589 0.2446,-0.630 C0.2940,-0.672 0.3090,-0.695 0.3228,-0.716 L0.3726,-0.716 Z" transform="translate(1031.04,445.3) scale(17.5)" fill="#111"/>
<text x="0" y="0" transform="translate(805.26,362.15) rotate(-90)" style="font-family:'Liberation Sans', sans-serif;font-size:28.21px" fill="#111">Δ R</text>
<text x="908.95" y="482.77" style="font-family:'Liberation Serif', serif;font-style:italic;font-size:27.11px" fill="#111" textLength="12.87" lengthAdjust="spacingAndGlyphs">γ</text>
<text x="922.67" y="486.4" style="font-family:'Liberation Serif', serif;font-size:16.97px" fill="#111" textLength="12.5" lengthAdjust="spacingAndGlyphs">2</text>
<text x="934.4" y="485.66" style="font-family:'Liberation Serif', serif;font-size:24.33px" fill="#111" textLength="12.02" lengthAdjust="spacingAndGlyphs">/</text>
<text x="949.49" y="483.9" style="font-family:'Liberation Serif', serif;font-size:20.76px" fill="#111" textLength="20.9" lengthAdjust="spacingAndGlyphs">Ω</text>
<text x="794.68" y="281.56" style="font-family:'Liberation Sans', sans-serif;font-weight:bold;font-size:28.77px" fill="#000">(d)</text>
<line x1="1197.08" y1="18.3" x2="1197.08" y2="416.8" stroke="#dcdcdc" stroke-width="1"/>
<line x1="1270.15" y1="18.3" x2="1270.15" y2="416.8" stroke="#dcdcdc" stroke-width="1"/>
<line x1="1343.22" y1="18.3" x2="1343.22" y2="416.8" stroke="#dcdcdc" stroke-width="1"/>
<line x1="1124" y1="337.1" x2="1416.3" y2="337.1" stroke="#dcdcdc" stroke-width="1"/>
<line x1="1124" y1="257.4" x2="1416.3" y2="257.4" stroke="#dcdcdc" stroke-width="1"/>
<line x1="1124" y1="177.7" x2="1416.3" y2="177.7" stroke="#dcdcdc" stroke-width="1"/>
<line x1="1124" y1="98" x2="1416.3" y2="98" stroke="#dcdcdc" stroke-width="1"/>
<clipPath id="ecl"><rect x="1119.0" y="18.3" width="302.3" height="403.5"/></clipPath><g clip-path="url(#ecl)">
<path d="M1124,400.58 L1124.24,400.47 L1124.49,400.36 L1124.73,400.25 L1124.98,400.13 L1125.22,400.01 L1125.46,399.89 L1125.71,399.77 L1125.95,399.64 L1126.19,399.52 L1126.44,399.39 L1126.68,399.26 L1126.93,399.12 L1127.17,398.99 L1127.41,398.85 L1127.66,398.71 L1127.9,398.57 L1128.14,398.43 L1128.39,398.29 L1128.63,398.14 L1128.88,398 L1129.12,397.85 L1129.36,397.7 L1129.61,397.55 L1129.85,397.4 L1130.09,397.24 L1130.34,397.09 L1130.58,396.93 L1130.83,396.78 L1131.07,396.62 L1131.31,396.46 L1131.56,396.3 L1131.8,396.14 L1132.04,395.98 L1132.29,395.81 L1132.53,395.65 L1132.78,395.48 L1133.02,395.32 L1133.26,395.15 L1133.51,394.99 L1133.75,394.82 L1134,394.65 L1134.24,394.49 L1134.48,394.32 L1134.73,394.15 L1134.97,393.98 L1135.21,393.81 L1135.46,393.64 L1135.7,393.47 L1135.95,393.3 L1136.19,393.13 L1136.43,392.96 L1136.68,392.79 L1136.92,392.62 L1137.16,392.46 L1137.41,392.29 L1137.65,392.12 L1137.9,391.95 L1138.14,391.78 L1138.38,391.61 L1138.63,391.44 L1138.87,391.28 L1139.11,391.11 L1139.36,390.94 L1139.6,390.78 L1139.85,390.61 L1140.09,390.45 L1140.33,390.29 L1140.58,390.13 L1140.82,389.96 L1141.07,389.8 L1141.31,389.64 L1141.55,389.48 L1141.8,389.33 L1142.04,389.17 L1142.28,389.02 L1142.53,388.86 L1142.77,388.71 L1143.02,388.56 L1143.26,388.41 L1143.5,388.26 L1143.75,388.11 L1143.99,387.97 L1144.23,387.82 L1144.48,387.68 L1144.72,387.54 L1144.97,387.4 L1145.21,387.26 L1145.45,387.12 L1145.7,386.99 L1145.94,386.86 L1146.18,386.73 L1146.43,386.6 L1146.67,386.48 L1146.92,386.35 L1147.16,386.23 L1147.4,386.11 L1147.65,385.99 L1147.89,385.87 L1148.13,385.76 L1148.38,385.64 L1148.62,385.53 L1148.87,385.41 L1149.11,385.3 L1149.35,385.19 L1149.6,385.09 L1149.84,384.98 L1150.09,384.87 L1150.33,384.77 L1150.57,384.66 L1150.82,384.56 L1151.06,384.46 L1151.3,384.36 L1151.55,384.26 L1151.79,384.16 L1152.04,384.06 L1152.28,383.96 L1152.52,383.87 L1152.77,383.77 L1153.01,383.68 L1153.25,383.58 L1153.5,383.49 L1153.74,383.4 L1153.99,383.31 L1154.23,383.22 L1154.47,383.13 L1154.72,383.04 L1154.96,382.95 L1155.2,382.86 L1155.45,382.78 L1155.69,382.69 L1155.94,382.6 L1156.18,382.52 L1156.42,382.44 L1156.67,382.35 L1156.91,382.27 L1157.15,382.18 L1157.4,382.1 L1157.64,382.02 L1157.89,381.94 L1158.13,381.86 L1158.37,381.78 L1158.62,381.69 L1158.86,381.61 L1159.11,381.53 L1159.35,381.45 L1159.59,381.37 L1159.84,381.3 L1160.08,381.22 L1160.32,381.14 L1160.57,381.06 L1160.81,380.98 L1161.06,380.9 L1161.3,380.82 L1161.54,380.74 L1161.79,380.67 L1162.03,380.59 L1162.27,380.51 L1162.52,380.43 L1162.76,380.35 L1163.01,380.27 L1163.25,380.19 L1163.49,380.11 L1163.74,380.03 L1163.98,379.95 L1164.22,379.88 L1164.47,379.8 L1164.71,379.72 L1164.96,379.63 L1165.2,379.55 L1165.44,379.47 L1165.69,379.39 L1165.93,379.31 L1166.18,379.23 L1166.42,379.14 L1166.66,379.06 L1166.91,378.98 L1167.15,378.89 L1167.39,378.81 L1167.64,378.72 L1167.88,378.64 L1168.13,378.55 L1168.37,378.46 L1168.61,378.38 L1168.86,378.29 L1169.1,378.2 L1169.34,378.11 L1169.59,378.02 L1169.83,377.93 L1170.08,377.83 L1170.32,377.74 L1170.56,377.65 L1170.81,377.55 L1171.05,377.45 L1171.29,377.36 L1171.54,377.26 L1171.78,377.16 L1172.03,377.06 L1172.27,376.96 L1172.51,376.86 L1172.76,376.76 L1173,376.65 L1173.24,376.55 L1173.49,376.44 L1173.73,376.33 L1173.98,376.22 L1174.22,376.11 L1174.46,376 L1174.71,375.89 L1174.95,375.78 L1175.2,375.66 L1175.44,375.54 L1175.68,375.42 L1175.93,375.3 L1176.17,375.18 L1176.41,375.06 L1176.66,374.94 L1176.9,374.81 L1177.15,374.68 L1177.39,374.56 L1177.63,374.42 L1177.88,374.29 L1178.12,374.16 L1178.36,374.02 L1178.61,373.89 L1178.85,373.75 L1179.1,373.6 L1179.34,373.46 L1179.58,373.32 L1179.83,373.17 L1180.07,373.02 L1180.31,372.87 L1180.56,372.72 L1180.8,372.57 L1181.05,372.42 L1181.29,372.26 L1181.53,372.1 L1181.78,371.95 L1182.02,371.79 L1182.26,371.63 L1182.51,371.46 L1182.75,371.3 L1183,371.13 L1183.24,370.97 L1183.48,370.8 L1183.73,370.63 L1183.97,370.46 L1184.22,370.29 L1184.46,370.12 L1184.7,369.94 L1184.95,369.77 L1185.19,369.59 L1185.43,369.42 L1185.68,369.24 L1185.92,369.06 L1186.17,368.88 L1186.41,368.7 L1186.65,368.51 L1186.9,368.33 L1187.14,368.15 L1187.38,367.96 L1187.63,367.78 L1187.87,367.59 L1188.12,367.4 L1188.36,367.22 L1188.6,367.03 L1188.85,366.84 L1189.09,366.65 L1189.33,366.45 L1189.58,366.26 L1189.82,366.07 L1190.07,365.88 L1190.31,365.68 L1190.55,365.49 L1190.8,365.29 L1191.04,365.09 L1191.29,364.9 L1191.53,364.7 L1191.77,364.5 L1192.02,364.3 L1192.26,364.1 L1192.5,363.9 L1192.75,363.7 L1192.99,363.5 L1193.24,363.3 L1193.48,363.09 L1193.72,362.89 L1193.97,362.69 L1194.21,362.48 L1194.45,362.28 L1194.7,362.07 L1194.94,361.87 L1195.19,361.66 L1195.43,361.45 L1195.67,361.25 L1195.92,361.04 L1196.16,360.83 L1196.4,360.62 L1196.65,360.41 L1196.89,360.2 L1197.14,359.99 L1197.38,359.78 L1197.62,359.56 L1197.87,359.35 L1198.11,359.14 L1198.35,358.92 L1198.6,358.71 L1198.84,358.49 L1199.09,358.27 L1199.33,358.06 L1199.57,357.84 L1199.82,357.62 L1200.06,357.4 L1200.31,357.18 L1200.55,356.96 L1200.79,356.74 L1201.04,356.51 L1201.28,356.29 L1201.52,356.06 L1201.77,355.84 L1202.01,355.61 L1202.26,355.38 L1202.5,355.15 L1202.74,354.92 L1202.99,354.69 L1203.23,354.45 L1203.47,354.21 L1203.72,353.97 L1203.96,353.72 L1204.21,353.48 L1204.45,353.22 L1204.69,352.97 L1204.94,352.71 L1205.18,352.45 L1205.42,352.18 L1205.67,351.91 L1205.91,351.64 L1206.16,351.36 L1206.4,351.08 L1206.64,350.8 L1206.89,350.51 L1207.13,350.21 L1207.37,349.92 L1207.62,349.61 L1207.86,349.31 L1208.11,348.99 L1208.35,348.68 L1208.59,348.35 L1208.84,348.02 L1209.08,347.69 L1209.33,347.35 L1209.57,347.01 L1209.81,346.66 L1210.06,346.3 L1210.3,345.93 L1210.54,345.56 L1210.79,345.19 L1211.03,344.81 L1211.28,344.41 L1211.52,344.02 L1211.76,343.61 L1212.01,343.2 L1212.25,342.78 L1212.49,342.35 L1212.74,341.92 L1212.98,341.47 L1213.23,341.02 L1213.47,340.56 L1213.71,340.08 L1213.96,339.6 L1214.2,339.11 L1214.44,338.62 L1214.69,338.11 L1214.93,337.59 L1215.18,337.06 L1215.42,336.52 L1215.66,335.97 L1215.91,335.4 L1216.15,334.83 L1216.4,334.25 L1216.64,333.65 L1216.88,333.04 L1217.13,332.42 L1217.37,331.79 L1217.61,331.15 L1217.86,330.49 L1218.1,329.82 L1218.35,329.14 L1218.59,328.45 L1218.83,327.74 L1219.08,327.01 L1219.32,326.25 L1219.56,325.47 L1219.81,324.68 L1220.05,323.88 L1220.3,323.06 L1220.54,322.23 L1220.78,321.38 L1221.03,320.52 L1221.27,319.65 L1221.51,318.77 L1221.76,317.87 L1222,316.95 L1222.25,316.03 L1222.49,315.09 L1222.73,314.14 L1222.98,313.18 L1223.22,312.2 L1223.46,311.21 L1223.71,310.22 L1223.95,309.21 L1224.2,308.19 L1224.44,307.15 L1224.68,306.11 L1224.93,305.06 L1225.17,304 L1225.42,302.93 L1225.66,301.85 L1225.9,300.76 L1226.15,299.65 L1226.39,298.54 L1226.63,297.42 L1226.88,296.29 L1227.12,295.14 L1227.37,293.99 L1227.61,292.82 L1227.85,291.63 L1228.1,290.43 L1228.34,289.22 L1228.58,287.99 L1228.83,286.74 L1229.07,285.46 L1229.32,284.17 L1229.56,282.85 L1229.8,281.51 L1230.05,280.13 L1230.29,278.73 L1230.53,277.29 L1230.78,275.82 L1231.02,274.32 L1231.27,272.77 L1231.51,271.19 L1231.75,269.56 L1232,267.88 L1232.24,266.16 L1232.48,264.38 L1232.73,262.56 L1232.97,260.68 L1233.22,258.74 L1233.46,256.74 L1233.7,254.69 L1233.95,252.57 L1234.19,250.39 L1234.44,248.15 L1234.68,245.83 L1234.92,243.45 L1235.17,241 L1235.41,238.48 L1235.65,235.89 L1235.9,233.23 L1236.14,230.49 L1236.39,227.68 L1236.63,224.79 L1236.87,221.83 L1237.12,218.79 L1237.36,215.67 L1237.6,212.48 L1237.85,209.21 L1238.09,205.87 L1238.34,202.45 L1238.58,198.95 L1238.82,195.37 L1239.07,191.73 L1239.31,188 L1239.55,184.21 L1239.8,180.34 L1240.04,176.4 L1240.29,172.4 L1240.53,168.33 L1240.77,164.19 L1241.02,160 L1241.26,155.75 L1241.51,151.44 L1241.75,147.08 L1241.99,142.67 L1242.24,138.22 L1242.48,133.74 L1242.72,129.22 L1242.97,124.67 L1243.21,120.1 L1243.46,115.51 L1243.7,110.92 L1243.94,106.33 L1244.19,101.74 L1244.43,97.17 L1244.67,92.62 L1244.92,88.1 L1245.16,83.62 L1245.41,79.2 L1245.65,74.83 L1245.89,70.54 L1246.14,66.32 L1246.38,62.2 L1246.62,58.19 L1246.87,54.28 L1247.11,50.5 L1247.36,46.86 L1247.6,43.37 L1247.84,40.03 L1248.09,36.86 L1248.33,33.87 L1248.57,31.07 L1248.82,28.47 L1249.06,26.08 L1249.31,23.9 L1249.55,21.95 L1249.79,20.23 L1250.04,18.74 L1250.28,17.5 L1250.53,16.51 L1250.77,15.77 L1251.01,15.28 L1251.26,15.05 L1251.5,15.08 L1251.74,15.36 L1251.99,15.89 L1252.23,16.68 L1252.48,17.72 L1252.72,19 L1252.96,20.53 L1253.21,22.28 L1253.45,24.27 L1253.69,26.47 L1253.94,28.88 L1254.18,31.5 L1254.43,34.31 L1254.67,37.31 L1254.91,40.47 L1255.16,43.81 L1255.4,47.29 L1255.64,50.92 L1255.89,54.68 L1256.13,58.55 L1256.38,62.54 L1256.62,66.63 L1256.86,70.81 L1257.11,75.06 L1257.35,79.38 L1257.59,83.77 L1257.84,88.2 L1258.08,92.67 L1258.33,97.17 L1258.57,101.7 L1258.81,106.24 L1259.06,110.79 L1259.3,115.34 L1259.55,119.89 L1259.79,124.42 L1260.03,128.94 L1260.28,133.43 L1260.52,137.9 L1260.76,142.33 L1261.01,146.72 L1261.25,151.08 L1261.5,155.39 L1261.74,159.66 L1261.98,163.87 L1262.23,168.03 L1262.47,172.14 L1262.71,176.19 L1262.96,180.18 L1263.2,184.11 L1263.45,187.98 L1263.69,191.79 L1263.93,195.53 L1264.18,199.22 L1264.42,202.83 L1264.66,206.39 L1264.91,209.87 L1265.15,213.3 L1265.4,216.66 L1265.64,219.95 L1265.88,223.18 L1266.13,226.35 L1266.37,229.46 L1266.62,232.5 L1266.86,235.48 L1267.1,238.39 L1267.35,241.25 L1267.59,244.05 L1267.83,246.79 L1268.08,249.47 L1268.32,252.09 L1268.57,254.66 L1268.81,257.17 L1269.05,259.63 L1269.3,262.03 L1269.54,264.38 L1269.78,266.68 L1270.03,268.93 L1270.27,271.13 L1270.52,273.28 L1270.76,275.38 L1271,277.44 L1271.25,279.45 L1271.49,281.41 L1271.73,283.34 L1271.98,285.21 L1272.22,287.05 L1272.47,288.85 L1272.71,290.6 L1272.95,292.32 L1273.2,293.99 L1273.44,295.63 L1273.68,297.24 L1273.93,298.8 L1274.17,300.34 L1274.42,301.83 L1274.66,303.3 L1274.9,304.73 L1275.15,306.13 L1275.39,307.5 L1275.64,308.84 L1275.88,310.15 L1276.12,311.43 L1276.37,312.68 L1276.61,313.91 L1276.85,315.1 L1277.1,316.28 L1277.34,317.42 L1277.59,318.54 L1277.83,319.64 L1278.07,320.71 L1278.32,321.76 L1278.56,322.79 L1278.8,323.79 L1279.05,324.77 L1279.29,325.74 L1279.54,326.68 L1279.78,327.6 L1280.02,328.5 L1280.27,329.38 L1280.51,330.25 L1280.75,331.09 L1281,331.92 L1281.24,332.73 L1281.49,333.52 L1281.73,334.3 L1281.97,335.06 L1282.22,335.81 L1282.46,336.54 L1282.71,337.25 L1282.95,337.95 L1283.19,338.64 L1283.44,339.31 L1283.68,339.97 L1283.92,340.61 L1284.17,341.25 L1284.41,341.87 L1284.66,342.47 L1284.9,343.07 L1285.14,343.65 L1285.39,344.23 L1285.63,344.79 L1285.87,345.34 L1286.12,345.88 L1286.36,346.41 L1286.61,346.93 L1286.85,347.44 L1287.09,347.94 L1287.34,348.43 L1287.58,348.91 L1287.82,349.38 L1288.07,349.84 L1288.31,350.3 L1288.56,350.74 L1288.8,351.18 L1289.04,351.61 L1289.29,352.03 L1289.53,352.45 L1289.77,352.85 L1290.02,353.25 L1290.26,353.65 L1290.51,354.03 L1290.75,354.41 L1290.99,354.78 L1291.24,355.15 L1291.48,355.51 L1291.73,355.86 L1291.97,356.21 L1292.21,356.55 L1292.46,356.88 L1292.7,357.21 L1292.94,357.54 L1293.19,357.86 L1293.43,358.17 L1293.68,358.48 L1293.92,358.78 L1294.16,359.08 L1294.41,359.37 L1294.65,359.66 L1294.89,359.94 L1295.14,360.22 L1295.38,360.5 L1295.63,360.77 L1295.87,361.04 L1296.11,361.3 L1296.36,361.56 L1296.6,361.81 L1296.84,362.06 L1297.09,362.31 L1297.33,362.55 L1297.58,362.79 L1297.82,363.02 L1298.06,363.26 L1298.31,363.49 L1298.55,363.71 L1298.79,363.93 L1299.04,364.15 L1299.28,364.37 L1299.53,364.58 L1299.77,364.79 L1300.01,364.99 L1300.26,365.2 L1300.5,365.4 L1300.75,365.6 L1300.99,365.79 L1301.23,365.98 L1301.48,366.17 L1301.72,366.36 L1301.96,366.55 L1302.21,366.73 L1302.45,366.91 L1302.7,367.08 L1302.94,367.26 L1303.18,367.43 L1303.43,367.6 L1303.67,367.77 L1303.91,367.94 L1304.16,368.1 L1304.4,368.26 L1304.65,368.42 L1304.89,368.58 L1305.13,368.73 L1305.38,368.89 L1305.62,369.04 L1305.86,369.19 L1306.11,369.34 L1306.35,369.48 L1306.6,369.63 L1306.84,369.77 L1307.08,369.91 L1307.33,370.05 L1307.57,370.19 L1307.82,370.32 L1308.06,370.46 L1308.3,370.59 L1308.55,370.72 L1308.79,370.85 L1309.03,370.98 L1309.28,371.1 L1309.52,371.23 L1309.77,371.35 L1310.01,371.47 L1310.25,371.59 L1310.5,371.71 L1310.74,371.83 L1310.98,371.95 L1311.23,372.06 L1311.47,372.17 L1311.72,372.29 L1311.96,372.4 L1312.2,372.51 L1312.45,372.62 L1312.69,372.72 L1312.93,372.83 L1313.18,372.94 L1313.42,373.04 L1313.67,373.14 L1313.91,373.24 L1314.15,373.34 L1314.4,373.44 L1314.64,373.54 L1314.88,373.64 L1315.13,373.74 L1315.37,373.83 L1315.62,373.93 L1315.86,374.02 L1316.1,374.11 L1316.35,374.2 L1316.59,374.29 L1316.84,374.38 L1317.08,374.47 L1317.32,374.56 L1317.57,374.64 L1317.81,374.73 L1318.05,374.81 L1318.3,374.9 L1318.54,374.98 L1318.79,375.06 L1319.03,375.14 L1319.27,375.22 L1319.52,375.3 L1319.76,375.38 L1320,375.46 L1320.25,375.53 L1320.49,375.61 L1320.74,375.69 L1320.98,375.76 L1321.22,375.83 L1321.47,375.91 L1321.71,375.98 L1321.95,376.05 L1322.2,376.12 L1322.44,376.19 L1322.69,376.26 L1322.93,376.33 L1323.17,376.39 L1323.42,376.46 L1323.66,376.53 L1323.9,376.59 L1324.15,376.66 L1324.39,376.72 L1324.64,376.78 L1324.88,376.85 L1325.12,376.91 L1325.37,376.97 L1325.61,377.03 L1325.86,377.09 L1326.1,377.15 L1326.34,377.21 L1326.59,377.27 L1326.83,377.32 L1327.07,377.38 L1327.32,377.44 L1327.56,377.49 L1327.81,377.55 L1328.05,377.6 L1328.29,377.66 L1328.54,377.71 L1328.78,377.76 L1329.02,377.82 L1329.27,377.87 L1329.51,377.92 L1329.76,377.97 L1330,378.02 L1330.24,378.07 L1330.49,378.12 L1330.73,378.17 L1330.97,378.22 L1331.22,378.27 L1331.46,378.32 L1331.71,378.37 L1331.95,378.42 L1332.19,378.47 L1332.44,378.51 L1332.68,378.56 L1332.93,378.61 L1333.17,378.65 L1333.41,378.7 L1333.66,378.75 L1333.9,378.79 L1334.14,378.84 L1334.39,378.88 L1334.63,378.93 L1334.88,378.97 L1335.12,379.02 L1335.36,379.06 L1335.61,379.1 L1335.85,379.15 L1336.09,379.19 L1336.34,379.23 L1336.58,379.27 L1336.83,379.32 L1337.07,379.36 L1337.31,379.4 L1337.56,379.44 L1337.8,379.48 L1338.04,379.52 L1338.29,379.56 L1338.53,379.6 L1338.78,379.64 L1339.02,379.68 L1339.26,379.72 L1339.51,379.76 L1339.75,379.8 L1339.99,379.83 L1340.24,379.87 L1340.48,379.91 L1340.73,379.95 L1340.97,379.98 L1341.21,380.02 L1341.46,380.05 L1341.7,380.09 L1341.95,380.13 L1342.19,380.16 L1342.43,380.2 L1342.68,380.23 L1342.92,380.27 L1343.16,380.31 L1343.41,380.35 L1343.65,380.39 L1343.9,380.43 L1344.14,380.48 L1344.38,380.52 L1344.63,380.57 L1344.87,380.62 L1345.11,380.66 L1345.36,380.71 L1345.6,380.76 L1345.85,380.81 L1346.09,380.86 L1346.33,380.91 L1346.58,380.97 L1346.82,381.02 L1347.06,381.07 L1347.31,381.12 L1347.55,381.17 L1347.8,381.22 L1348.04,381.27 L1348.28,381.32 L1348.53,381.37 L1348.77,381.42 L1349.01,381.47 L1349.26,381.52 L1349.5,381.57 L1349.75,381.61 L1349.99,381.66 L1350.23,381.7 L1350.48,381.74 L1350.72,381.78 L1350.97,381.82 L1351.21,381.86 L1351.45,381.9 L1351.7,381.93 L1351.94,381.96 L1352.18,381.99 L1352.43,382.02 L1352.67,382.05 L1352.92,382.07 L1353.16,382.09 L1353.4,382.11 L1353.65,382.13 L1353.89,382.14 L1354.13,382.15 L1354.38,382.15 L1354.62,382.15 L1354.87,382.14 L1355.11,382.13 L1355.35,382.11 L1355.6,382.09 L1355.84,382.06 L1356.08,382.03 L1356.33,382 L1356.57,381.97 L1356.82,381.93 L1357.06,381.89 L1357.3,381.85 L1357.55,381.81 L1357.79,381.77 L1358.04,381.73 L1358.28,381.69 L1358.52,381.66 L1358.77,381.62 L1359.01,381.58 L1359.25,381.55 L1359.5,381.52 L1359.74,381.49 L1359.99,381.46 L1360.23,381.44 L1360.47,381.43 L1360.72,381.41 L1360.96,381.4 L1361.2,381.4 L1361.45,381.4 L1361.69,381.4 L1361.94,381.4 L1362.18,381.39 L1362.42,381.39 L1362.67,381.39 L1362.91,381.39 L1363.15,381.39 L1363.4,381.39 L1363.64,381.38 L1363.89,381.38 L1364.13,381.38 L1364.37,381.38 L1364.62,381.38 L1364.86,381.38 L1365.1,381.38 L1365.35,381.38 L1365.59,381.38 L1365.84,381.38 L1366.08,381.38 L1366.32,381.37 L1366.57,381.37 L1366.81,381.37 L1367.06,381.37 L1367.3,381.37 L1367.54,381.38 L1367.79,381.38 L1368.03,381.38 L1368.27,381.38 L1368.52,381.38 L1368.76,381.38 L1369.01,381.38 L1369.25,381.38 L1369.49,381.39 L1369.74,381.39 L1369.98,381.39 L1370.22,381.39 L1370.47,381.4 L1370.71,381.4 L1370.96,381.41 L1371.2,381.43 L1371.44,381.46 L1371.69,381.5 L1371.93,381.54 L1372.17,381.58 L1372.42,381.63 L1372.66,381.69 L1372.91,381.74 L1373.15,381.8 L1373.39,381.85 L1373.64,381.9 L1373.88,381.95 L1374.12,382 L1374.37,382.04 L1374.61,382.07 L1374.86,382.1 L1375.1,382.12 L1375.34,382.12 L1375.59,382.12 L1375.83,382.12 L1376.08,382.11 L1376.32,382.1 L1376.56,382.08 L1376.81,382.05 L1377.05,382.03 L1377.29,382 L1377.54,381.96 L1377.78,381.92 L1378.03,381.88 L1378.27,381.84 L1378.51,381.8 L1378.76,381.75 L1379,381.7 L1379.24,381.65 L1379.49,381.6 L1379.73,381.54 L1379.98,381.49 L1380.22,381.43 L1380.46,381.38 L1380.71,381.32 L1380.95,381.27 L1381.19,381.21 L1381.44,381.15 L1381.68,381.1 L1381.93,381.05 L1382.17,380.99 L1382.41,380.94 L1382.66,380.89 L1382.9,380.85 L1383.15,380.8 L1383.39,380.76 L1383.63,380.72 L1383.88,380.69 L1384.12,380.65 L1384.36,380.62 L1384.61,380.6 L1384.85,380.57 L1385.1,380.56 L1385.34,380.54 L1385.58,380.53 L1385.83,380.53 L1386.07,380.53 L1386.31,380.54 L1386.56,380.55 L1386.8,380.56 L1387.05,380.58 L1387.29,380.6 L1387.53,380.62 L1387.78,380.65 L1388.02,380.68 L1388.26,380.71 L1388.51,380.75 L1388.75,380.78 L1389,380.82 L1389.24,380.86 L1389.48,380.91 L1389.73,380.95 L1389.97,381 L1390.21,381.04 L1390.46,381.09 L1390.7,381.14 L1390.95,381.19 L1391.19,381.23 L1391.43,381.28 L1391.68,381.33 L1391.92,381.38 L1392.17,381.43 L1392.41,381.48 L1392.65,381.54 L1392.9,381.6 L1393.14,381.67 L1393.38,381.75 L1393.63,381.83 L1393.87,381.91 L1394.12,381.98 L1394.36,382.06 L1394.6,382.13 L1394.85,382.2 L1395.09,382.26 L1395.33,382.32 L1395.58,382.36 L1395.82,382.39 L1396.07,382.42 L1396.31,382.45 L1396.55,382.47 L1396.8,382.5 L1397.04,382.52 L1397.28,382.54 L1397.53,382.57 L1397.77,382.59 L1398.02,382.61 L1398.26,382.64 L1398.5,382.66 L1398.75,382.68 L1398.99,382.7 L1399.23,382.72 L1399.48,382.74 L1399.72,382.76 L1399.97,382.78 L1400.21,382.79 L1400.45,382.81 L1400.7,382.83 L1400.94,382.84 L1401.19,382.86 L1401.43,382.87 L1401.67,382.89 L1401.92,382.9 L1402.16,382.92 L1402.4,382.93 L1402.65,382.94 L1402.89,382.95 L1403.14,382.96 L1403.38,382.97 L1403.62,382.98 L1403.87,382.99 L1404.11,383 L1404.35,383.01 L1404.6,383.01 L1404.84,383.02 L1405.09,383.02 L1405.33,383.03 L1405.57,383.03 L1405.82,383.04 L1406.06,383.04 L1406.3,383.05 L1406.55,383.05 L1406.79,383.06 L1407.04,383.06 L1407.28,383.06 L1407.52,383.06 L1407.77,383.07 L1408.01,383.07 L1408.26,383.07 L1408.5,383.07 L1408.74,383.07 L1408.99,383.07 L1409.23,383.07 L1409.47,383.07 L1409.72,383.07 L1409.96,383.07 L1410.21,383.06 L1410.45,383.06 L1410.69,383.06 L1410.94,383.06 L1411.18,383.05 L1411.42,383.05 L1411.67,383.04 L1411.91,383.04 L1412.16,383.03 L1412.4,383.03 L1412.64,383.02 L1412.89,383.02 L1413.13,383.01 L1413.37,383 L1413.62,382.99 L1413.86,382.99 L1414.11,382.98 L1414.35,382.97 L1414.59,382.96 L1414.84,382.95 L1415.08,382.94 L1415.32,382.92 L1415.57,382.91 L1415.81,382.9 L1416.06,382.89 L1416.3,382.87 L1416.3,416.8 L1124,416.8 Z" fill="rgba(120,120,120,0.11)" stroke="none" stroke-width="1" stroke-linejoin="round"/>
<path d="M1124,400.58 L1124.24,400.47 L1124.49,400.36 L1124.73,400.25 L1124.98,400.13 L1125.22,400.01 L1125.46,399.89 L1125.71,399.77 L1125.95,399.64 L1126.19,399.52 L1126.44,399.39 L1126.68,399.26 L1126.93,399.12 L1127.17,398.99 L1127.41,398.85 L1127.66,398.71 L1127.9,398.57 L1128.14,398.43 L1128.39,398.29 L1128.63,398.14 L1128.88,398 L1129.12,397.85 L1129.36,397.7 L1129.61,397.55 L1129.85,397.4 L1130.09,397.24 L1130.34,397.09 L1130.58,396.93 L1130.83,396.78 L1131.07,396.62 L1131.31,396.46 L1131.56,396.3 L1131.8,396.14 L1132.04,395.98 L1132.29,395.81 L1132.53,395.65 L1132.78,395.48 L1133.02,395.32 L1133.26,395.15 L1133.51,394.99 L1133.75,394.82 L1134,394.65 L1134.24,394.49 L1134.48,394.32 L1134.73,394.15 L1134.97,393.98 L1135.21,393.81 L1135.46,393.64 L1135.7,393.47 L1135.95,393.3 L1136.19,393.13 L1136.43,392.96 L1136.68,392.79 L1136.92,392.62 L1137.16,392.46 L1137.41,392.29 L1137.65,392.12 L1137.9,391.95 L1138.14,391.78 L1138.38,391.61 L1138.63,391.44 L1138.87,391.28 L1139.11,391.11 L1139.36,390.94 L1139.6,390.78 L1139.85,390.61 L1140.09,390.45 L1140.33,390.29 L1140.58,390.13 L1140.82,389.96 L1141.07,389.8 L1141.31,389.64 L1141.55,389.48 L1141.8,389.33 L1142.04,389.17 L1142.28,389.02 L1142.53,388.86 L1142.77,388.71 L1143.02,388.56 L1143.26,388.41 L1143.5,388.26 L1143.75,388.11 L1143.99,387.97 L1144.23,387.82 L1144.48,387.68 L1144.72,387.54 L1144.97,387.4 L1145.21,387.26 L1145.45,387.12 L1145.7,386.99 L1145.94,386.86 L1146.18,386.73 L1146.43,386.6 L1146.67,386.48 L1146.92,386.35 L1147.16,386.23 L1147.4,386.11 L1147.65,385.99 L1147.89,385.87 L1148.13,385.76 L1148.38,385.64 L1148.62,385.53 L1148.87,385.41 L1149.11,385.3 L1149.35,385.19 L1149.6,385.09 L1149.84,384.98 L1150.09,384.87 L1150.33,384.77 L1150.57,384.66 L1150.82,384.56 L1151.06,384.46 L1151.3,384.36 L1151.55,384.26 L1151.79,384.16 L1152.04,384.06 L1152.28,383.96 L1152.52,383.87 L1152.77,383.77 L1153.01,383.68 L1153.25,383.58 L1153.5,383.49 L1153.74,383.4 L1153.99,383.31 L1154.23,383.22 L1154.47,383.13 L1154.72,383.04 L1154.96,382.95 L1155.2,382.86 L1155.45,382.78 L1155.69,382.69 L1155.94,382.6 L1156.18,382.52 L1156.42,382.44 L1156.67,382.35 L1156.91,382.27 L1157.15,382.18 L1157.4,382.1 L1157.64,382.02 L1157.89,381.94 L1158.13,381.86 L1158.37,381.78 L1158.62,381.69 L1158.86,381.61 L1159.11,381.53 L1159.35,381.45 L1159.59,381.37 L1159.84,381.3 L1160.08,381.22 L1160.32,381.14 L1160.57,381.06 L1160.81,380.98 L1161.06,380.9 L1161.3,380.82 L1161.54,380.74 L1161.79,380.67 L1162.03,380.59 L1162.27,380.51 L1162.52,380.43 L1162.76,380.35 L1163.01,380.27 L1163.25,380.19 L1163.49,380.11 L1163.74,380.03 L1163.98,379.95 L1164.22,379.88 L1164.47,379.8 L1164.71,379.72 L1164.96,379.63 L1165.2,379.55 L1165.44,379.47 L1165.69,379.39 L1165.93,379.31 L1166.18,379.23 L1166.42,379.14 L1166.66,379.06 L1166.91,378.98 L1167.15,378.89 L1167.39,378.81 L1167.64,378.72 L1167.88,378.64 L1168.13,378.55 L1168.37,378.46 L1168.61,378.38 L1168.86,378.29 L1169.1,378.2 L1169.34,378.11 L1169.59,378.02 L1169.83,377.93 L1170.08,377.83 L1170.32,377.74 L1170.56,377.65 L1170.81,377.55 L1171.05,377.45 L1171.29,377.36 L1171.54,377.26 L1171.78,377.16 L1172.03,377.06 L1172.27,376.96 L1172.51,376.86 L1172.76,376.76 L1173,376.65 L1173.24,376.55 L1173.49,376.44 L1173.73,376.33 L1173.98,376.22 L1174.22,376.11 L1174.46,376 L1174.71,375.89 L1174.95,375.78 L1175.2,375.66 L1175.44,375.54 L1175.68,375.42 L1175.93,375.3 L1176.17,375.18 L1176.41,375.06 L1176.66,374.94 L1176.9,374.81 L1177.15,374.68 L1177.39,374.56 L1177.63,374.42 L1177.88,374.29 L1178.12,374.16 L1178.36,374.02 L1178.61,373.89 L1178.85,373.75 L1179.1,373.6 L1179.34,373.46 L1179.58,373.32 L1179.83,373.17 L1180.07,373.02 L1180.31,372.87 L1180.56,372.72 L1180.8,372.57 L1181.05,372.42 L1181.29,372.26 L1181.53,372.1 L1181.78,371.95 L1182.02,371.79 L1182.26,371.63 L1182.51,371.46 L1182.75,371.3 L1183,371.13 L1183.24,370.97 L1183.48,370.8 L1183.73,370.63 L1183.97,370.46 L1184.22,370.29 L1184.46,370.12 L1184.7,369.94 L1184.95,369.77 L1185.19,369.59 L1185.43,369.42 L1185.68,369.24 L1185.92,369.06 L1186.17,368.88 L1186.41,368.7 L1186.65,368.51 L1186.9,368.33 L1187.14,368.15 L1187.38,367.96 L1187.63,367.78 L1187.87,367.59 L1188.12,367.4 L1188.36,367.22 L1188.6,367.03 L1188.85,366.84 L1189.09,366.65 L1189.33,366.45 L1189.58,366.26 L1189.82,366.07 L1190.07,365.88 L1190.31,365.68 L1190.55,365.49 L1190.8,365.29 L1191.04,365.09 L1191.29,364.9 L1191.53,364.7 L1191.77,364.5 L1192.02,364.3 L1192.26,364.1 L1192.5,363.9 L1192.75,363.7 L1192.99,363.5 L1193.24,363.3 L1193.48,363.09 L1193.72,362.89 L1193.97,362.69 L1194.21,362.48 L1194.45,362.28 L1194.7,362.07 L1194.94,361.87 L1195.19,361.66 L1195.43,361.45 L1195.67,361.25 L1195.92,361.04 L1196.16,360.83 L1196.4,360.62 L1196.65,360.41 L1196.89,360.2 L1197.14,359.99 L1197.38,359.78 L1197.62,359.56 L1197.87,359.35 L1198.11,359.14 L1198.35,358.92 L1198.6,358.71 L1198.84,358.49 L1199.09,358.27 L1199.33,358.06 L1199.57,357.84 L1199.82,357.62 L1200.06,357.4 L1200.31,357.18 L1200.55,356.96 L1200.79,356.74 L1201.04,356.51 L1201.28,356.29 L1201.52,356.06 L1201.77,355.84 L1202.01,355.61 L1202.26,355.38 L1202.5,355.15 L1202.74,354.92 L1202.99,354.69 L1203.23,354.45 L1203.47,354.21 L1203.72,353.97 L1203.96,353.72 L1204.21,353.48 L1204.45,353.22 L1204.69,352.97 L1204.94,352.71 L1205.18,352.45 L1205.42,352.18 L1205.67,351.91 L1205.91,351.64 L1206.16,351.36 L1206.4,351.08 L1206.64,350.8 L1206.89,350.51 L1207.13,350.21 L1207.37,349.92 L1207.62,349.61 L1207.86,349.31 L1208.11,348.99 L1208.35,348.68 L1208.59,348.35 L1208.84,348.02 L1209.08,347.69 L1209.33,347.35 L1209.57,347.01 L1209.81,346.66 L1210.06,346.3 L1210.3,345.93 L1210.54,345.56 L1210.79,345.19 L1211.03,344.81 L1211.28,344.41 L1211.52,344.02 L1211.76,343.61 L1212.01,343.2 L1212.25,342.78 L1212.49,342.35 L1212.74,341.92 L1212.98,341.47 L1213.23,341.02 L1213.47,340.56 L1213.71,340.08 L1213.96,339.6 L1214.2,339.11 L1214.44,338.62 L1214.69,338.11 L1214.93,337.59 L1215.18,337.06 L1215.42,336.52 L1215.66,335.97 L1215.91,335.4 L1216.15,334.83 L1216.4,334.25 L1216.64,333.65 L1216.88,333.04 L1217.13,332.42 L1217.37,331.79 L1217.61,331.15 L1217.86,330.49 L1218.1,329.82 L1218.35,329.14 L1218.59,328.45 L1218.83,327.74 L1219.08,327.01 L1219.32,326.25 L1219.56,325.47 L1219.81,324.68 L1220.05,323.88 L1220.3,323.06 L1220.54,322.23 L1220.78,321.38 L1221.03,320.52 L1221.27,319.65 L1221.51,318.77 L1221.76,317.87 L1222,316.95 L1222.25,316.03 L1222.49,315.09 L1222.73,314.14 L1222.98,313.18 L1223.22,312.2 L1223.46,311.21 L1223.71,310.22 L1223.95,309.21 L1224.2,308.19 L1224.44,307.15 L1224.68,306.11 L1224.93,305.06 L1225.17,304 L1225.42,302.93 L1225.66,301.85 L1225.9,300.76 L1226.15,299.65 L1226.39,298.54 L1226.63,297.42 L1226.88,296.29 L1227.12,295.14 L1227.37,293.99 L1227.61,292.82 L1227.85,291.63 L1228.1,290.43 L1228.34,289.22 L1228.58,287.99 L1228.83,286.74 L1229.07,285.46 L1229.32,284.17 L1229.56,282.85 L1229.8,281.51 L1230.05,280.13 L1230.29,278.73 L1230.53,277.29 L1230.78,275.82 L1231.02,274.32 L1231.27,272.77 L1231.51,271.19 L1231.75,269.56 L1232,267.88 L1232.24,266.16 L1232.48,264.38 L1232.73,262.56 L1232.97,260.68 L1233.22,258.74 L1233.46,256.74 L1233.7,254.69 L1233.95,252.57 L1234.19,250.39 L1234.44,248.15 L1234.68,245.83 L1234.92,243.45 L1235.17,241 L1235.41,238.48 L1235.65,235.89 L1235.9,233.23 L1236.14,230.49 L1236.39,227.68 L1236.63,224.79 L1236.87,221.83 L1237.12,218.79 L1237.36,215.67 L1237.6,212.48 L1237.85,209.21 L1238.09,205.87 L1238.34,202.45 L1238.58,198.95 L1238.82,195.37 L1239.07,191.73 L1239.31,188 L1239.55,184.21 L1239.8,180.34 L1240.04,176.4 L1240.29,172.4 L1240.53,168.33 L1240.77,164.19 L1241.02,160 L1241.26,155.75 L1241.51,151.44 L1241.75,147.08 L1241.99,142.67 L1242.24,138.22 L1242.48,133.74 L1242.72,129.22 L1242.97,124.67 L1243.21,120.1 L1243.46,115.51 L1243.7,110.92 L1243.94,106.33 L1244.19,101.74 L1244.43,97.17 L1244.67,92.62 L1244.92,88.1 L1245.16,83.62 L1245.41,79.2 L1245.65,74.83 L1245.89,70.54 L1246.14,66.32 L1246.38,62.2 L1246.62,58.19 L1246.87,54.28 L1247.11,50.5 L1247.36,46.86 L1247.6,43.37 L1247.84,40.03 L1248.09,36.86 L1248.33,33.87 L1248.57,31.07 L1248.82,28.47 L1249.06,26.08 L1249.31,23.9 L1249.55,21.95 L1249.79,20.23 L1250.04,18.74 L1250.28,17.5 L1250.53,16.51 L1250.77,15.77 L1251.01,15.28 L1251.26,15.05 L1251.5,15.08 L1251.74,15.36 L1251.99,15.89 L1252.23,16.68 L1252.48,17.72 L1252.72,19 L1252.96,20.53 L1253.21,22.28 L1253.45,24.27 L1253.69,26.47 L1253.94,28.88 L1254.18,31.5 L1254.43,34.31 L1254.67,37.31 L1254.91,40.47 L1255.16,43.81 L1255.4,47.29 L1255.64,50.92 L1255.89,54.68 L1256.13,58.55 L1256.38,62.54 L1256.62,66.63 L1256.86,70.81 L1257.11,75.06 L1257.35,79.38 L1257.59,83.77 L1257.84,88.2 L1258.08,92.67 L1258.33,97.17 L1258.57,101.7 L1258.81,106.24 L1259.06,110.79 L1259.3,115.34 L1259.55,119.89 L1259.79,124.42 L1260.03,128.94 L1260.28,133.43 L1260.52,137.9 L1260.76,142.33 L1261.01,146.72 L1261.25,151.08 L1261.5,155.39 L1261.74,159.66 L1261.98,163.87 L1262.23,168.03 L1262.47,172.14 L1262.71,176.19 L1262.96,180.18 L1263.2,184.11 L1263.45,187.98 L1263.69,191.79 L1263.93,195.53 L1264.18,199.22 L1264.42,202.83 L1264.66,206.39 L1264.91,209.87 L1265.15,213.3 L1265.4,216.66 L1265.64,219.95 L1265.88,223.18 L1266.13,226.35 L1266.37,229.46 L1266.62,232.5 L1266.86,235.48 L1267.1,238.39 L1267.35,241.25 L1267.59,244.05 L1267.83,246.79 L1268.08,249.47 L1268.32,252.09 L1268.57,254.66 L1268.81,257.17 L1269.05,259.63 L1269.3,262.03 L1269.54,264.38 L1269.78,266.68 L1270.03,268.93 L1270.27,271.13 L1270.52,273.28 L1270.76,275.38 L1271,277.44 L1271.25,279.45 L1271.49,281.41 L1271.73,283.34 L1271.98,285.21 L1272.22,287.05 L1272.47,288.85 L1272.71,290.6 L1272.95,292.32 L1273.2,293.99 L1273.44,295.63 L1273.68,297.24 L1273.93,298.8 L1274.17,300.34 L1274.42,301.83 L1274.66,303.3 L1274.9,304.73 L1275.15,306.13 L1275.39,307.5 L1275.64,308.84 L1275.88,310.15 L1276.12,311.43 L1276.37,312.68 L1276.61,313.91 L1276.85,315.1 L1277.1,316.28 L1277.34,317.42 L1277.59,318.54 L1277.83,319.64 L1278.07,320.71 L1278.32,321.76 L1278.56,322.79 L1278.8,323.79 L1279.05,324.77 L1279.29,325.74 L1279.54,326.68 L1279.78,327.6 L1280.02,328.5 L1280.27,329.38 L1280.51,330.25 L1280.75,331.09 L1281,331.92 L1281.24,332.73 L1281.49,333.52 L1281.73,334.3 L1281.97,335.06 L1282.22,335.81 L1282.46,336.54 L1282.71,337.25 L1282.95,337.95 L1283.19,338.64 L1283.44,339.31 L1283.68,339.97 L1283.92,340.61 L1284.17,341.25 L1284.41,341.87 L1284.66,342.47 L1284.9,343.07 L1285.14,343.65 L1285.39,344.23 L1285.63,344.79 L1285.87,345.34 L1286.12,345.88 L1286.36,346.41 L1286.61,346.93 L1286.85,347.44 L1287.09,347.94 L1287.34,348.43 L1287.58,348.91 L1287.82,349.38 L1288.07,349.84 L1288.31,350.3 L1288.56,350.74 L1288.8,351.18 L1289.04,351.61 L1289.29,352.03 L1289.53,352.45 L1289.77,352.85 L1290.02,353.25 L1290.26,353.65 L1290.51,354.03 L1290.75,354.41 L1290.99,354.78 L1291.24,355.15 L1291.48,355.51 L1291.73,355.86 L1291.97,356.21 L1292.21,356.55 L1292.46,356.88 L1292.7,357.21 L1292.94,357.54 L1293.19,357.86 L1293.43,358.17 L1293.68,358.48 L1293.92,358.78 L1294.16,359.08 L1294.41,359.37 L1294.65,359.66 L1294.89,359.94 L1295.14,360.22 L1295.38,360.5 L1295.63,360.77 L1295.87,361.04 L1296.11,361.3 L1296.36,361.56 L1296.6,361.81 L1296.84,362.06 L1297.09,362.31 L1297.33,362.55 L1297.58,362.79 L1297.82,363.02 L1298.06,363.26 L1298.31,363.49 L1298.55,363.71 L1298.79,363.93 L1299.04,364.15 L1299.28,364.37 L1299.53,364.58 L1299.77,364.79 L1300.01,364.99 L1300.26,365.2 L1300.5,365.4 L1300.75,365.6 L1300.99,365.79 L1301.23,365.98 L1301.48,366.17 L1301.72,366.36 L1301.96,366.55 L1302.21,366.73 L1302.45,366.91 L1302.7,367.08 L1302.94,367.26 L1303.18,367.43 L1303.43,367.6 L1303.67,367.77 L1303.91,367.94 L1304.16,368.1 L1304.4,368.26 L1304.65,368.42 L1304.89,368.58 L1305.13,368.73 L1305.38,368.89 L1305.62,369.04 L1305.86,369.19 L1306.11,369.34 L1306.35,369.48 L1306.6,369.63 L1306.84,369.77 L1307.08,369.91 L1307.33,370.05 L1307.57,370.19 L1307.82,370.32 L1308.06,370.46 L1308.3,370.59 L1308.55,370.72 L1308.79,370.85 L1309.03,370.98 L1309.28,371.1 L1309.52,371.23 L1309.77,371.35 L1310.01,371.47 L1310.25,371.59 L1310.5,371.71 L1310.74,371.83 L1310.98,371.95 L1311.23,372.06 L1311.47,372.17 L1311.72,372.29 L1311.96,372.4 L1312.2,372.51 L1312.45,372.62 L1312.69,372.72 L1312.93,372.83 L1313.18,372.94 L1313.42,373.04 L1313.67,373.14 L1313.91,373.24 L1314.15,373.34 L1314.4,373.44 L1314.64,373.54 L1314.88,373.64 L1315.13,373.74 L1315.37,373.83 L1315.62,373.93 L1315.86,374.02 L1316.1,374.11 L1316.35,374.2 L1316.59,374.29 L1316.84,374.38 L1317.08,374.47 L1317.32,374.56 L1317.57,374.64 L1317.81,374.73 L1318.05,374.81 L1318.3,374.9 L1318.54,374.98 L1318.79,375.06 L1319.03,375.14 L1319.27,375.22 L1319.52,375.3 L1319.76,375.38 L1320,375.46 L1320.25,375.53 L1320.49,375.61 L1320.74,375.69 L1320.98,375.76 L1321.22,375.83 L1321.47,375.91 L1321.71,375.98 L1321.95,376.05 L1322.2,376.12 L1322.44,376.19 L1322.69,376.26 L1322.93,376.33 L1323.17,376.39 L1323.42,376.46 L1323.66,376.53 L1323.9,376.59 L1324.15,376.66 L1324.39,376.72 L1324.64,376.78 L1324.88,376.85 L1325.12,376.91 L1325.37,376.97 L1325.61,377.03 L1325.86,377.09 L1326.1,377.15 L1326.34,377.21 L1326.59,377.27 L1326.83,377.32 L1327.07,377.38 L1327.32,377.44 L1327.56,377.49 L1327.81,377.55 L1328.05,377.6 L1328.29,377.66 L1328.54,377.71 L1328.78,377.76 L1329.02,377.82 L1329.27,377.87 L1329.51,377.92 L1329.76,377.97 L1330,378.02 L1330.24,378.07 L1330.49,378.12 L1330.73,378.17 L1330.97,378.22 L1331.22,378.27 L1331.46,378.32 L1331.71,378.37 L1331.95,378.42 L1332.19,378.47 L1332.44,378.51 L1332.68,378.56 L1332.93,378.61 L1333.17,378.65 L1333.41,378.7 L1333.66,378.75 L1333.9,378.79 L1334.14,378.84 L1334.39,378.88 L1334.63,378.93 L1334.88,378.97 L1335.12,379.02 L1335.36,379.06 L1335.61,379.1 L1335.85,379.15 L1336.09,379.19 L1336.34,379.23 L1336.58,379.27 L1336.83,379.32 L1337.07,379.36 L1337.31,379.4 L1337.56,379.44 L1337.8,379.48 L1338.04,379.52 L1338.29,379.56 L1338.53,379.6 L1338.78,379.64 L1339.02,379.68 L1339.26,379.72 L1339.51,379.76 L1339.75,379.8 L1339.99,379.83 L1340.24,379.87 L1340.48,379.91 L1340.73,379.95 L1340.97,379.98 L1341.21,380.02 L1341.46,380.05 L1341.7,380.09 L1341.95,380.13 L1342.19,380.16 L1342.43,380.2 L1342.68,380.23 L1342.92,380.27 L1343.16,380.31 L1343.41,380.35 L1343.65,380.39 L1343.9,380.43 L1344.14,380.48 L1344.38,380.52 L1344.63,380.57 L1344.87,380.62 L1345.11,380.66 L1345.36,380.71 L1345.6,380.76 L1345.85,380.81 L1346.09,380.86 L1346.33,380.91 L1346.58,380.97 L1346.82,381.02 L1347.06,381.07 L1347.31,381.12 L1347.55,381.17 L1347.8,381.22 L1348.04,381.27 L1348.28,381.32 L1348.53,381.37 L1348.77,381.42 L1349.01,381.47 L1349.26,381.52 L1349.5,381.57 L1349.75,381.61 L1349.99,381.66 L1350.23,381.7 L1350.48,381.74 L1350.72,381.78 L1350.97,381.82 L1351.21,381.86 L1351.45,381.9 L1351.7,381.93 L1351.94,381.96 L1352.18,381.99 L1352.43,382.02 L1352.67,382.05 L1352.92,382.07 L1353.16,382.09 L1353.4,382.11 L1353.65,382.13 L1353.89,382.14 L1354.13,382.15 L1354.38,382.15 L1354.62,382.15 L1354.87,382.14 L1355.11,382.13 L1355.35,382.11 L1355.6,382.09 L1355.84,382.06 L1356.08,382.03 L1356.33,382 L1356.57,381.97 L1356.82,381.93 L1357.06,381.89 L1357.3,381.85 L1357.55,381.81 L1357.79,381.77 L1358.04,381.73 L1358.28,381.69 L1358.52,381.66 L1358.77,381.62 L1359.01,381.58 L1359.25,381.55 L1359.5,381.52 L1359.74,381.49 L1359.99,381.46 L1360.23,381.44 L1360.47,381.43 L1360.72,381.41 L1360.96,381.4 L1361.2,381.4 L1361.45,381.4 L1361.69,381.4 L1361.94,381.4 L1362.18,381.39 L1362.42,381.39 L1362.67,381.39 L1362.91,381.39 L1363.15,381.39 L1363.4,381.39 L1363.64,381.38 L1363.89,381.38 L1364.13,381.38 L1364.37,381.38 L1364.62,381.38 L1364.86,381.38 L1365.1,381.38 L1365.35,381.38 L1365.59,381.38 L1365.84,381.38 L1366.08,381.38 L1366.32,381.37 L1366.57,381.37 L1366.81,381.37 L1367.06,381.37 L1367.3,381.37 L1367.54,381.38 L1367.79,381.38 L1368.03,381.38 L1368.27,381.38 L1368.52,381.38 L1368.76,381.38 L1369.01,381.38 L1369.25,381.38 L1369.49,381.39 L1369.74,381.39 L1369.98,381.39 L1370.22,381.39 L1370.47,381.4 L1370.71,381.4 L1370.96,381.41 L1371.2,381.43 L1371.44,381.46 L1371.69,381.5 L1371.93,381.54 L1372.17,381.58 L1372.42,381.63 L1372.66,381.69 L1372.91,381.74 L1373.15,381.8 L1373.39,381.85 L1373.64,381.9 L1373.88,381.95 L1374.12,382 L1374.37,382.04 L1374.61,382.07 L1374.86,382.1 L1375.1,382.12 L1375.34,382.12 L1375.59,382.12 L1375.83,382.12 L1376.08,382.11 L1376.32,382.1 L1376.56,382.08 L1376.81,382.05 L1377.05,382.03 L1377.29,382 L1377.54,381.96 L1377.78,381.92 L1378.03,381.88 L1378.27,381.84 L1378.51,381.8 L1378.76,381.75 L1379,381.7 L1379.24,381.65 L1379.49,381.6 L1379.73,381.54 L1379.98,381.49 L1380.22,381.43 L1380.46,381.38 L1380.71,381.32 L1380.95,381.27 L1381.19,381.21 L1381.44,381.15 L1381.68,381.1 L1381.93,381.05 L1382.17,380.99 L1382.41,380.94 L1382.66,380.89 L1382.9,380.85 L1383.15,380.8 L1383.39,380.76 L1383.63,380.72 L1383.88,380.69 L1384.12,380.65 L1384.36,380.62 L1384.61,380.6 L1384.85,380.57 L1385.1,380.56 L1385.34,380.54 L1385.58,380.53 L1385.83,380.53 L1386.07,380.53 L1386.31,380.54 L1386.56,380.55 L1386.8,380.56 L1387.05,380.58 L1387.29,380.6 L1387.53,380.62 L1387.78,380.65 L1388.02,380.68 L1388.26,380.71 L1388.51,380.75 L1388.75,380.78 L1389,380.82 L1389.24,380.86 L1389.48,380.91 L1389.73,380.95 L1389.97,381 L1390.21,381.04 L1390.46,381.09 L1390.7,381.14 L1390.95,381.19 L1391.19,381.23 L1391.43,381.28 L1391.68,381.33 L1391.92,381.38 L1392.17,381.43 L1392.41,381.48 L1392.65,381.54 L1392.9,381.6 L1393.14,381.67 L1393.38,381.75 L1393.63,381.83 L1393.87,381.91 L1394.12,381.98 L1394.36,382.06 L1394.6,382.13 L1394.85,382.2 L1395.09,382.26 L1395.33,382.32 L1395.58,382.36 L1395.82,382.39 L1396.07,382.42 L1396.31,382.45 L1396.55,382.47 L1396.8,382.5 L1397.04,382.52 L1397.28,382.54 L1397.53,382.57 L1397.77,382.59 L1398.02,382.61 L1398.26,382.64 L1398.5,382.66 L1398.75,382.68 L1398.99,382.7 L1399.23,382.72 L1399.48,382.74 L1399.72,382.76 L1399.97,382.78 L1400.21,382.79 L1400.45,382.81 L1400.7,382.83 L1400.94,382.84 L1401.19,382.86 L1401.43,382.87 L1401.67,382.89 L1401.92,382.9 L1402.16,382.92 L1402.4,382.93 L1402.65,382.94 L1402.89,382.95 L1403.14,382.96 L1403.38,382.97 L1403.62,382.98 L1403.87,382.99 L1404.11,383 L1404.35,383.01 L1404.6,383.01 L1404.84,383.02 L1405.09,383.02 L1405.33,383.03 L1405.57,383.03 L1405.82,383.04 L1406.06,383.04 L1406.3,383.05 L1406.55,383.05 L1406.79,383.06 L1407.04,383.06 L1407.28,383.06 L1407.52,383.06 L1407.77,383.07 L1408.01,383.07 L1408.26,383.07 L1408.5,383.07 L1408.74,383.07 L1408.99,383.07 L1409.23,383.07 L1409.47,383.07 L1409.72,383.07 L1409.96,383.07 L1410.21,383.06 L1410.45,383.06 L1410.69,383.06 L1410.94,383.06 L1411.18,383.05 L1411.42,383.05 L1411.67,383.04 L1411.91,383.04 L1412.16,383.03 L1412.4,383.03 L1412.64,383.02 L1412.89,383.02 L1413.13,383.01 L1413.37,383 L1413.62,382.99 L1413.86,382.99 L1414.11,382.98 L1414.35,382.97 L1414.59,382.96 L1414.84,382.95 L1415.08,382.94 L1415.32,382.92 L1415.57,382.91 L1415.81,382.9 L1416.06,382.89 L1416.3,382.87" fill="none" stroke="#000" stroke-width="3.2" stroke-linejoin="round"/>
<path d="M1124,413.41 L1124.24,413.39 L1124.49,413.38 L1124.73,413.36 L1124.98,413.35 L1125.22,413.33 L1125.46,413.31 L1125.71,413.3 L1125.95,413.28 L1126.19,413.27 L1126.44,413.25 L1126.68,413.24 L1126.93,413.22 L1127.17,413.2 L1127.41,413.19 L1127.66,413.17 L1127.9,413.15 L1128.14,413.14 L1128.39,413.12 L1128.63,413.1 L1128.88,413.09 L1129.12,413.07 L1129.36,413.05 L1129.61,413.04 L1129.85,413.02 L1130.09,413 L1130.34,412.98 L1130.58,412.97 L1130.83,412.95 L1131.07,412.93 L1131.31,412.91 L1131.56,412.9 L1131.8,412.88 L1132.04,412.86 L1132.29,412.84 L1132.53,412.82 L1132.78,412.8 L1133.02,412.78 L1133.26,412.77 L1133.51,412.75 L1133.75,412.73 L1134,412.71 L1134.24,412.69 L1134.48,412.67 L1134.73,412.65 L1134.97,412.63 L1135.21,412.61 L1135.46,412.59 L1135.7,412.57 L1135.95,412.55 L1136.19,412.53 L1136.43,412.51 L1136.68,412.49 L1136.92,412.47 L1137.16,412.45 L1137.41,412.43 L1137.65,412.41 L1137.9,412.38 L1138.14,412.36 L1138.38,412.34 L1138.63,412.32 L1138.87,412.3 L1139.11,412.28 L1139.36,412.25 L1139.6,412.23 L1139.85,412.21 L1140.09,412.19 L1140.33,412.16 L1140.58,412.14 L1140.82,412.12 L1141.07,412.09 L1141.31,412.07 L1141.55,412.05 L1141.8,412.02 L1142.04,412 L1142.28,411.97 L1142.53,411.95 L1142.77,411.93 L1143.02,411.9 L1143.26,411.88 L1143.5,411.85 L1143.75,411.83 L1143.99,411.8 L1144.23,411.78 L1144.48,411.75 L1144.72,411.73 L1144.97,411.7 L1145.21,411.67 L1145.45,411.65 L1145.7,411.62 L1145.94,411.59 L1146.18,411.57 L1146.43,411.54 L1146.67,411.51 L1146.92,411.49 L1147.16,411.46 L1147.4,411.43 L1147.65,411.4 L1147.89,411.37 L1148.13,411.35 L1148.38,411.32 L1148.62,411.29 L1148.87,411.26 L1149.11,411.23 L1149.35,411.2 L1149.6,411.17 L1149.84,411.14 L1150.09,411.11 L1150.33,411.08 L1150.57,411.05 L1150.82,411.02 L1151.06,410.99 L1151.3,410.96 L1151.55,410.92 L1151.79,410.89 L1152.04,410.86 L1152.28,410.83 L1152.52,410.8 L1152.77,410.76 L1153.01,410.73 L1153.25,410.7 L1153.5,410.66 L1153.74,410.63 L1153.99,410.6 L1154.23,410.56 L1154.47,410.53 L1154.72,410.49 L1154.96,410.46 L1155.2,410.42 L1155.45,410.39 L1155.69,410.35 L1155.94,410.32 L1156.18,410.28 L1156.42,410.24 L1156.67,410.21 L1156.91,410.17 L1157.15,410.13 L1157.4,410.09 L1157.64,410.06 L1157.89,410.02 L1158.13,409.98 L1158.37,409.94 L1158.62,409.9 L1158.86,409.86 L1159.11,409.82 L1159.35,409.78 L1159.59,409.74 L1159.84,409.7 L1160.08,409.66 L1160.32,409.62 L1160.57,409.57 L1160.81,409.53 L1161.06,409.49 L1161.3,409.45 L1161.54,409.4 L1161.79,409.36 L1162.03,409.32 L1162.27,409.27 L1162.52,409.23 L1162.76,409.18 L1163.01,409.14 L1163.25,409.09 L1163.49,409.04 L1163.74,409 L1163.98,408.95 L1164.22,408.9 L1164.47,408.86 L1164.71,408.81 L1164.96,408.76 L1165.2,408.71 L1165.44,408.66 L1165.69,408.61 L1165.93,408.56 L1166.18,408.51 L1166.42,408.46 L1166.66,408.41 L1166.91,408.35 L1167.15,408.3 L1167.39,408.25 L1167.64,408.2 L1167.88,408.14 L1168.13,408.09 L1168.37,408.03 L1168.61,407.98 L1168.86,407.92 L1169.1,407.87 L1169.34,407.81 L1169.59,407.75 L1169.83,407.69 L1170.08,407.64 L1170.32,407.58 L1170.56,407.52 L1170.81,407.46 L1171.05,407.4 L1171.29,407.34 L1171.54,407.27 L1171.78,407.21 L1172.03,407.15 L1172.27,407.09 L1172.51,407.02 L1172.76,406.96 L1173,406.89 L1173.24,406.83 L1173.49,406.76 L1173.73,406.69 L1173.98,406.63 L1174.22,406.56 L1174.46,406.49 L1174.71,406.42 L1174.95,406.35 L1175.2,406.28 L1175.44,406.21 L1175.68,406.14 L1175.93,406.06 L1176.17,405.99 L1176.41,405.92 L1176.66,405.84 L1176.9,405.77 L1177.15,405.69 L1177.39,405.61 L1177.63,405.53 L1177.88,405.46 L1178.12,405.38 L1178.36,405.3 L1178.61,405.22 L1178.85,405.13 L1179.1,405.05 L1179.34,404.97 L1179.58,404.88 L1179.83,404.8 L1180.07,404.71 L1180.31,404.63 L1180.56,404.54 L1180.8,404.45 L1181.05,404.36 L1181.29,404.27 L1181.53,404.18 L1181.78,404.09 L1182.02,403.99 L1182.26,403.9 L1182.51,403.8 L1182.75,403.71 L1183,403.61 L1183.24,403.51 L1183.48,403.41 L1183.73,403.31 L1183.97,403.21 L1184.22,403.11 L1184.46,403.01 L1184.7,402.9 L1184.95,402.8 L1185.19,402.69 L1185.43,402.58 L1185.68,402.47 L1185.92,402.36 L1186.17,402.25 L1186.41,402.14 L1186.65,402.03 L1186.9,401.91 L1187.14,401.79 L1187.38,401.68 L1187.63,401.56 L1187.87,401.44 L1188.12,401.31 L1188.36,401.19 L1188.6,401.07 L1188.85,400.94 L1189.09,400.81 L1189.33,400.69 L1189.58,400.56 L1189.82,400.42 L1190.07,400.29 L1190.31,400.16 L1190.55,400.02 L1190.8,399.88 L1191.04,399.74 L1191.29,399.6 L1191.53,399.46 L1191.77,399.31 L1192.02,399.17 L1192.26,399.02 L1192.5,398.87 L1192.75,398.72 L1192.99,398.57 L1193.24,398.41 L1193.48,398.25 L1193.72,398.09 L1193.97,397.93 L1194.21,397.77 L1194.45,397.61 L1194.7,397.44 L1194.94,397.27 L1195.19,397.1 L1195.43,396.93 L1195.67,396.75 L1195.92,396.57 L1196.16,396.4 L1196.4,396.21 L1196.65,396.03 L1196.89,395.84 L1197.14,395.65 L1197.38,395.46 L1197.62,395.27 L1197.87,395.07 L1198.11,394.87 L1198.35,394.67 L1198.6,394.47 L1198.84,394.26 L1199.09,394.05 L1199.33,393.84 L1199.57,393.63 L1199.82,393.41 L1200.06,393.19 L1200.31,392.96 L1200.55,392.74 L1200.79,392.51 L1201.04,392.27 L1201.28,392.04 L1201.52,391.8 L1201.77,391.56 L1202.01,391.31 L1202.26,391.06 L1202.5,390.81 L1202.74,390.55 L1202.99,390.29 L1203.23,390.03 L1203.47,389.76 L1203.72,389.49 L1203.96,389.22 L1204.21,388.94 L1204.45,388.66 L1204.69,388.37 L1204.94,388.08 L1205.18,387.78 L1205.42,387.48 L1205.67,387.18 L1205.91,386.87 L1206.16,386.56 L1206.4,386.24 L1206.64,385.92 L1206.89,385.59 L1207.13,385.26 L1207.37,384.93 L1207.62,384.58 L1207.86,384.24 L1208.11,383.88 L1208.35,383.53 L1208.59,383.16 L1208.84,382.8 L1209.08,382.42 L1209.33,382.04 L1209.57,381.65 L1209.81,381.26 L1210.06,380.86 L1210.3,380.46 L1210.54,380.05 L1210.79,379.63 L1211.03,379.2 L1211.28,378.77 L1211.52,378.34 L1211.76,377.89 L1212.01,377.44 L1212.25,376.98 L1212.49,376.51 L1212.74,376.03 L1212.98,375.55 L1213.23,375.06 L1213.47,374.56 L1213.71,374.05 L1213.96,373.53 L1214.2,373.01 L1214.44,372.47 L1214.69,371.93 L1214.93,371.38 L1215.18,370.82 L1215.42,370.24 L1215.66,369.66 L1215.91,369.07 L1216.15,368.47 L1216.4,367.85 L1216.64,367.23 L1216.88,366.59 L1217.13,365.95 L1217.37,365.29 L1217.61,364.62 L1217.86,363.93 L1218.1,363.24 L1218.35,362.53 L1218.59,361.81 L1218.83,361.08 L1219.08,360.33 L1219.32,359.57 L1219.56,358.79 L1219.81,358 L1220.05,357.2 L1220.3,356.37 L1220.54,355.54 L1220.78,354.69 L1221.03,353.82 L1221.27,352.93 L1221.51,352.03 L1221.76,351.11 L1222,350.17 L1222.25,349.22 L1222.49,348.24 L1222.73,347.25 L1222.98,346.23 L1223.22,345.2 L1223.46,344.14 L1223.71,343.07 L1223.95,341.97 L1224.2,340.85 L1224.44,339.7 L1224.68,338.54 L1224.93,337.35 L1225.17,336.13 L1225.42,334.89 L1225.66,333.63 L1225.9,332.34 L1226.15,331.02 L1226.39,329.67 L1226.63,328.3 L1226.88,326.89 L1227.12,325.46 L1227.37,324 L1227.61,322.5 L1227.85,320.98 L1228.1,319.42 L1228.34,317.82 L1228.58,316.2 L1228.83,314.54 L1229.07,312.84 L1229.32,311.11 L1229.56,309.33 L1229.8,307.52 L1230.05,305.68 L1230.29,303.79 L1230.53,301.86 L1230.78,299.88 L1231.02,297.87 L1231.27,295.81 L1231.51,293.7 L1231.75,291.55 L1232,289.36 L1232.24,287.11 L1232.48,284.82 L1232.73,282.47 L1232.97,280.08 L1233.22,277.63 L1233.46,275.13 L1233.7,272.58 L1233.95,269.97 L1234.19,267.3 L1234.44,264.58 L1234.68,261.8 L1234.92,258.96 L1235.17,256.06 L1235.41,253.1 L1235.65,250.08 L1235.9,247 L1236.14,243.85 L1236.39,240.64 L1236.63,237.37 L1236.87,234.03 L1237.12,230.62 L1237.36,227.15 L1237.6,223.61 L1237.85,220.01 L1238.09,216.34 L1238.34,212.61 L1238.58,208.8 L1238.82,204.94 L1239.07,201 L1239.31,197.01 L1239.55,192.95 L1239.8,188.82 L1240.04,184.64 L1240.29,180.39 L1240.53,176.09 L1240.77,171.74 L1241.02,167.33 L1241.26,162.87 L1241.51,158.36 L1241.75,153.81 L1241.99,149.22 L1242.24,144.59 L1242.48,139.93 L1242.72,135.25 L1242.97,130.54 L1243.21,125.82 L1243.46,121.09 L1243.7,116.36 L1243.94,111.63 L1244.19,106.91 L1244.43,102.22 L1244.67,97.55 L1244.92,92.92 L1245.16,88.33 L1245.41,83.8 L1245.65,79.34 L1245.89,74.95 L1246.14,70.65 L1246.38,66.44 L1246.62,62.34 L1246.87,58.36 L1247.11,54.51 L1247.36,50.79 L1247.6,47.23 L1247.84,43.83 L1248.09,40.61 L1248.33,37.56 L1248.57,34.71 L1248.82,32.06 L1249.06,29.62 L1249.31,27.41 L1249.55,25.41 L1249.79,23.66 L1250.04,22.14 L1250.28,20.87 L1250.53,19.85 L1250.77,19.09 L1251.01,18.58 L1251.26,18.33 L1251.5,18.34 L1251.74,18.61 L1251.99,19.13 L1252.23,19.91 L1252.48,20.94 L1252.72,22.22 L1252.96,23.74 L1253.21,25.5 L1253.45,27.49 L1253.69,29.7 L1253.94,32.12 L1254.18,34.75 L1254.43,37.58 L1254.67,40.59 L1254.91,43.77 L1255.16,47.12 L1255.4,50.63 L1255.64,54.28 L1255.89,58.06 L1256.13,61.97 L1256.38,65.99 L1256.62,70.11 L1256.86,74.32 L1257.11,78.61 L1257.35,82.97 L1257.59,87.39 L1257.84,91.87 L1258.08,96.38 L1258.33,100.93 L1258.57,105.5 L1258.81,110.09 L1259.06,114.7 L1259.3,119.3 L1259.55,123.9 L1259.79,128.49 L1260.03,133.06 L1260.28,137.62 L1260.52,142.14 L1260.76,146.64 L1261.01,151.1 L1261.25,155.52 L1261.5,159.9 L1261.74,164.24 L1261.98,168.52 L1262.23,172.76 L1262.47,176.94 L1262.71,181.06 L1262.96,185.13 L1263.2,189.14 L1263.45,193.09 L1263.69,196.99 L1263.93,200.81 L1264.18,204.58 L1264.42,208.28 L1264.66,211.93 L1264.91,215.5 L1265.15,219.02 L1265.4,222.47 L1265.64,225.86 L1265.88,229.18 L1266.13,232.44 L1266.37,235.65 L1266.62,238.79 L1266.86,241.86 L1267.1,244.88 L1267.35,247.84 L1267.59,250.74 L1267.83,253.59 L1268.08,256.37 L1268.32,259.1 L1268.57,261.77 L1268.81,264.39 L1269.05,266.96 L1269.3,269.47 L1269.54,271.94 L1269.78,274.35 L1270.03,276.71 L1270.27,279.02 L1270.52,281.28 L1270.76,283.5 L1271,285.67 L1271.25,287.8 L1271.49,289.88 L1271.73,291.92 L1271.98,293.92 L1272.22,295.87 L1272.47,297.79 L1272.71,299.66 L1272.95,301.5 L1273.2,303.3 L1273.44,305.06 L1273.68,306.79 L1273.93,308.48 L1274.17,310.13 L1274.42,311.75 L1274.66,313.34 L1274.9,314.9 L1275.15,316.42 L1275.39,317.92 L1275.64,319.38 L1275.88,320.82 L1276.12,322.22 L1276.37,323.6 L1276.61,324.95 L1276.85,326.27 L1277.1,327.57 L1277.34,328.84 L1277.59,330.09 L1277.83,331.31 L1278.07,332.51 L1278.32,333.69 L1278.56,334.84 L1278.8,335.97 L1279.05,337.08 L1279.29,338.17 L1279.54,339.23 L1279.78,340.28 L1280.02,341.3 L1280.27,342.31 L1280.51,343.3 L1280.75,344.27 L1281,345.22 L1281.24,346.16 L1281.49,347.07 L1281.73,347.97 L1281.97,348.86 L1282.22,349.72 L1282.46,350.58 L1282.71,351.41 L1282.95,352.23 L1283.19,353.04 L1283.44,353.83 L1283.68,354.61 L1283.92,355.37 L1284.17,356.13 L1284.41,356.86 L1284.66,357.59 L1284.9,358.3 L1285.14,359 L1285.39,359.69 L1285.63,360.36 L1285.87,361.03 L1286.12,361.68 L1286.36,362.32 L1286.61,362.96 L1286.85,363.58 L1287.09,364.19 L1287.34,364.79 L1287.58,365.38 L1287.82,365.96 L1288.07,366.53 L1288.31,367.09 L1288.56,367.64 L1288.8,368.19 L1289.04,368.72 L1289.29,369.25 L1289.53,369.77 L1289.77,370.28 L1290.02,370.78 L1290.26,371.27 L1290.51,371.76 L1290.75,372.24 L1290.99,372.71 L1291.24,373.17 L1291.48,373.63 L1291.73,374.08 L1291.97,374.52 L1292.21,374.96 L1292.46,375.38 L1292.7,375.81 L1292.94,376.22 L1293.19,376.63 L1293.43,377.04 L1293.68,377.44 L1293.92,377.83 L1294.16,378.22 L1294.41,378.6 L1294.65,378.97 L1294.89,379.34 L1295.14,379.71 L1295.38,380.06 L1295.63,380.42 L1295.87,380.77 L1296.11,381.11 L1296.36,381.45 L1296.6,381.79 L1296.84,382.11 L1297.09,382.44 L1297.33,382.76 L1297.58,383.08 L1297.82,383.39 L1298.06,383.7 L1298.31,384 L1298.55,384.3 L1298.79,384.59 L1299.04,384.88 L1299.28,385.17 L1299.53,385.45 L1299.77,385.73 L1300.01,386.01 L1300.26,386.28 L1300.5,386.55 L1300.75,386.82 L1300.99,387.08 L1301.23,387.34 L1301.48,387.59 L1301.72,387.84 L1301.96,388.09 L1302.21,388.34 L1302.45,388.58 L1302.7,388.82 L1302.94,389.05 L1303.18,389.28 L1303.43,389.51 L1303.67,389.74 L1303.91,389.97 L1304.16,390.19 L1304.4,390.41 L1304.65,390.62 L1304.89,390.84 L1305.13,391.05 L1305.38,391.25 L1305.62,391.46 L1305.86,391.66 L1306.11,391.86 L1306.35,392.06 L1306.6,392.26 L1306.84,392.45 L1307.08,392.64 L1307.33,392.83 L1307.57,393.02 L1307.82,393.2 L1308.06,393.39 L1308.3,393.57 L1308.55,393.74 L1308.79,393.92 L1309.03,394.09 L1309.28,394.27 L1309.52,394.44 L1309.77,394.6 L1310.01,394.77 L1310.25,394.93 L1310.5,395.1 L1310.74,395.26 L1310.98,395.42 L1311.23,395.57 L1311.47,395.73 L1311.72,395.88 L1311.96,396.04 L1312.2,396.19 L1312.45,396.33 L1312.69,396.48 L1312.93,396.63 L1313.18,396.77 L1313.42,396.91 L1313.67,397.05 L1313.91,397.19 L1314.15,397.33 L1314.4,397.47 L1314.64,397.6 L1314.88,397.73 L1315.13,397.87 L1315.37,398 L1315.62,398.13 L1315.86,398.25 L1316.1,398.38 L1316.35,398.51 L1316.59,398.63 L1316.84,398.75 L1317.08,398.87 L1317.32,398.99 L1317.57,399.11 L1317.81,399.23 L1318.05,399.35 L1318.3,399.46 L1318.54,399.58 L1318.79,399.69 L1319.03,399.8 L1319.27,399.91 L1319.52,400.02 L1319.76,400.13 L1320,400.24 L1320.25,400.35 L1320.49,400.45 L1320.74,400.56 L1320.98,400.66 L1321.22,400.76 L1321.47,400.86 L1321.71,400.96 L1321.95,401.06 L1322.2,401.16 L1322.44,401.26 L1322.69,401.35 L1322.93,401.45 L1323.17,401.55 L1323.42,401.64 L1323.66,401.73 L1323.9,401.82 L1324.15,401.92 L1324.39,402.01 L1324.64,402.1 L1324.88,402.18 L1325.12,402.27 L1325.37,402.36 L1325.61,402.45 L1325.86,402.53 L1326.1,402.62 L1326.34,402.7 L1326.59,402.78 L1326.83,402.87 L1327.07,402.95 L1327.32,403.03 L1327.56,403.11 L1327.81,403.19 L1328.05,403.27 L1328.29,403.35 L1328.54,403.42 L1328.78,403.5 L1329.02,403.58 L1329.27,403.65 L1329.51,403.73 L1329.76,403.8 L1330,403.87 L1330.24,403.95 L1330.49,404.02 L1330.73,404.09 L1330.97,404.16 L1331.22,404.23 L1331.46,404.3 L1331.71,404.37 L1331.95,404.44 L1332.19,404.51 L1332.44,404.57 L1332.68,404.64 L1332.93,404.71 L1333.17,404.77 L1333.41,404.84 L1333.66,404.9 L1333.9,404.97 L1334.14,405.03 L1334.39,405.09 L1334.63,405.16 L1334.88,405.22 L1335.12,405.28 L1335.36,405.34 L1335.61,405.4 L1335.85,405.46 L1336.09,405.52 L1336.34,405.58 L1336.58,405.64 L1336.83,405.7 L1337.07,405.75 L1337.31,405.81 L1337.56,405.87 L1337.8,405.92 L1338.04,405.98 L1338.29,406.03 L1338.53,406.09 L1338.78,406.14 L1339.02,406.2 L1339.26,406.25 L1339.51,406.3 L1339.75,406.36 L1339.99,406.41 L1340.24,406.46 L1340.48,406.51 L1340.73,406.56 L1340.97,406.62 L1341.21,406.67 L1341.46,406.72 L1341.7,406.77 L1341.95,406.81 L1342.19,406.86 L1342.43,406.91 L1342.68,406.96 L1342.92,407.01 L1343.16,407.06 L1343.41,407.1 L1343.65,407.15 L1343.9,407.2 L1344.14,407.24 L1344.38,407.29 L1344.63,407.33 L1344.87,407.38 L1345.11,407.42 L1345.36,407.47 L1345.6,407.51 L1345.85,407.55 L1346.09,407.6 L1346.33,407.64 L1346.58,407.68 L1346.82,407.73 L1347.06,407.77 L1347.31,407.81 L1347.55,407.85 L1347.8,407.89 L1348.04,407.93 L1348.28,407.97 L1348.53,408.01 L1348.77,408.05 L1349.01,408.09 L1349.26,408.13 L1349.5,408.17 L1349.75,408.21 L1349.99,408.25 L1350.23,408.29 L1350.48,408.33 L1350.72,408.37 L1350.97,408.4 L1351.21,408.44 L1351.45,408.48 L1351.7,408.51 L1351.94,408.55 L1352.18,408.59 L1352.43,408.62 L1352.67,408.66 L1352.92,408.69 L1353.16,408.73 L1353.4,408.76 L1353.65,408.8 L1353.89,408.83 L1354.13,408.87 L1354.38,408.9 L1354.62,408.94 L1354.87,408.97 L1355.11,409 L1355.35,409.04 L1355.6,409.07 L1355.84,409.1 L1356.08,409.14 L1356.33,409.17 L1356.57,409.2 L1356.82,409.23 L1357.06,409.26 L1357.3,409.3 L1357.55,409.33 L1357.79,409.36 L1358.04,409.39 L1358.28,409.42 L1358.52,409.45 L1358.77,409.48 L1359.01,409.51 L1359.25,409.54 L1359.5,409.57 L1359.74,409.6 L1359.99,409.63 L1360.23,409.66 L1360.47,409.69 L1360.72,409.72 L1360.96,409.75 L1361.2,409.77 L1361.45,409.8 L1361.69,409.83 L1361.94,409.86 L1362.18,409.89 L1362.42,409.91 L1362.67,409.94 L1362.91,409.97 L1363.15,409.99 L1363.4,410.02 L1363.64,410.05 L1363.89,410.08 L1364.13,410.1 L1364.37,410.13 L1364.62,410.15 L1364.86,410.18 L1365.1,410.21 L1365.35,410.23 L1365.59,410.26 L1365.84,410.28 L1366.08,410.31 L1366.32,410.33 L1366.57,410.36 L1366.81,410.38 L1367.06,410.41 L1367.3,410.43 L1367.54,410.45 L1367.79,410.48 L1368.03,410.5 L1368.27,410.53 L1368.52,410.55 L1368.76,410.57 L1369.01,410.6 L1369.25,410.62 L1369.49,410.64 L1369.74,410.67 L1369.98,410.69 L1370.22,410.71 L1370.47,410.73 L1370.71,410.76 L1370.96,410.78 L1371.2,410.8 L1371.44,410.82 L1371.69,410.85 L1371.93,410.87 L1372.17,410.89 L1372.42,410.91 L1372.66,410.93 L1372.91,410.95 L1373.15,410.97 L1373.39,411 L1373.64,411.02 L1373.88,411.04 L1374.12,411.06 L1374.37,411.08 L1374.61,411.1 L1374.86,411.12 L1375.1,411.14 L1375.34,411.16 L1375.59,411.18 L1375.83,411.2 L1376.08,411.22 L1376.32,411.24 L1376.56,411.26 L1376.81,411.28 L1377.05,411.3 L1377.29,411.32 L1377.54,411.34 L1377.78,411.36 L1378.03,411.37 L1378.27,411.39 L1378.51,411.41 L1378.76,411.43 L1379,411.45 L1379.24,411.47 L1379.49,411.49 L1379.73,411.5 L1379.98,411.52 L1380.22,411.54 L1380.46,411.56 L1380.71,411.58 L1380.95,411.59 L1381.19,411.61 L1381.44,411.63 L1381.68,411.65 L1381.93,411.66 L1382.17,411.68 L1382.41,411.7 L1382.66,411.72 L1382.9,411.73 L1383.15,411.75 L1383.39,411.77 L1383.63,411.78 L1383.88,411.8 L1384.12,411.82 L1384.36,411.83 L1384.61,411.85 L1384.85,411.87 L1385.1,411.88 L1385.34,411.9 L1385.58,411.91 L1385.83,411.93 L1386.07,411.95 L1386.31,411.96 L1386.56,411.98 L1386.8,411.99 L1387.05,412.01 L1387.29,412.02 L1387.53,412.04 L1387.78,412.06 L1388.02,412.07 L1388.26,412.09 L1388.51,412.1 L1388.75,412.12 L1389,412.13 L1389.24,412.15 L1389.48,412.16 L1389.73,412.18 L1389.97,412.19 L1390.21,412.2 L1390.46,412.22 L1390.7,412.23 L1390.95,412.25 L1391.19,412.26 L1391.43,412.28 L1391.68,412.29 L1391.92,412.3 L1392.17,412.32 L1392.41,412.33 L1392.65,412.35 L1392.9,412.36 L1393.14,412.37 L1393.38,412.39 L1393.63,412.4 L1393.87,412.42 L1394.12,412.43 L1394.36,412.44 L1394.6,412.46 L1394.85,412.47 L1395.09,412.48 L1395.33,412.5 L1395.58,412.51 L1395.82,412.52 L1396.07,412.53 L1396.31,412.55 L1396.55,412.56 L1396.8,412.57 L1397.04,412.59 L1397.28,412.6 L1397.53,412.61 L1397.77,412.62 L1398.02,412.64 L1398.26,412.65 L1398.5,412.66 L1398.75,412.67 L1398.99,412.69 L1399.23,412.7 L1399.48,412.71 L1399.72,412.72 L1399.97,412.73 L1400.21,412.75 L1400.45,412.76 L1400.7,412.77 L1400.94,412.78 L1401.19,412.79 L1401.43,412.8 L1401.67,412.82 L1401.92,412.83 L1402.16,412.84 L1402.4,412.85 L1402.65,412.86 L1402.89,412.87 L1403.14,412.88 L1403.38,412.9 L1403.62,412.91 L1403.87,412.92 L1404.11,412.93 L1404.35,412.94 L1404.6,412.95 L1404.84,412.96 L1405.09,412.97 L1405.33,412.98 L1405.57,413 L1405.82,413.01 L1406.06,413.02 L1406.3,413.03 L1406.55,413.04 L1406.79,413.05 L1407.04,413.06 L1407.28,413.07 L1407.52,413.08 L1407.77,413.09 L1408.01,413.1 L1408.26,413.11 L1408.5,413.12 L1408.74,413.13 L1408.99,413.14 L1409.23,413.15 L1409.47,413.16 L1409.72,413.17 L1409.96,413.18 L1410.21,413.19 L1410.45,413.2 L1410.69,413.21 L1410.94,413.22 L1411.18,413.23 L1411.42,413.24 L1411.67,413.25 L1411.91,413.26 L1412.16,413.27 L1412.4,413.28 L1412.64,413.29 L1412.89,413.3 L1413.13,413.31 L1413.37,413.32 L1413.62,413.33 L1413.86,413.34 L1414.11,413.35 L1414.35,413.35 L1414.59,413.36 L1414.84,413.37 L1415.08,413.38 L1415.32,413.39 L1415.57,413.4 L1415.81,413.41 L1416.06,413.42 L1416.3,413.43" fill="none" stroke="#fb2a10" stroke-width="3.2" stroke-dasharray="11.2,11.4" stroke-dashoffset="3.2"/>
</g>
<rect x="1124.0" y="18.3" width="292.3" height="398.5" fill="none" stroke="#262626" stroke-width="1"/>
<line x1="1124" y1="416.8" x2="1124" y2="412.8" stroke="#262626" stroke-width="1"/>
<line x1="1124" y1="18.3" x2="1124" y2="22.3" stroke="#262626" stroke-width="1"/>
<path d="M0.3726,0 L0.2847,0 L0.2847,-0.560 C0.2637,-0.540 0.235,-0.519 0.1987,-0.497 C0.1625,-0.475 0.1303,-0.459 0.104,-0.454 L0.104,-0.539 C0.1504,-0.561 0.1952,-0.589 0.2446,-0.630 C0.2940,-0.672 0.3090,-0.695 0.3228,-0.716 L0.3726,-0.716 Z" transform="translate(1105.11,450.2) scale(23)" fill="#111"/>
<text x="1117.9" y="450.2" style="font-family:'Liberation Sans', sans-serif;font-size:23px" fill="#111">20</text>
<line x1="1197.08" y1="416.8" x2="1197.08" y2="412.8" stroke="#262626" stroke-width="1"/>
<line x1="1197.08" y1="18.3" x2="1197.08" y2="22.3" stroke="#262626" stroke-width="1"/>
<path d="M0.3726,0 L0.2847,0 L0.2847,-0.560 C0.2637,-0.540 0.235,-0.519 0.1987,-0.497 C0.1625,-0.475 0.1303,-0.459 0.104,-0.454 L0.104,-0.539 C0.1504,-0.561 0.1952,-0.589 0.2446,-0.630 C0.2940,-0.672 0.3090,-0.695 0.3228,-0.716 L0.3726,-0.716 Z" transform="translate(1178.19,450.2) scale(23)" fill="#111"/>
<text x="1190.98" y="450.2" style="font-family:'Liberation Sans', sans-serif;font-size:23px" fill="#111">40</text>
<line x1="1270.15" y1="416.8" x2="1270.15" y2="412.8" stroke="#262626" stroke-width="1"/>
<line x1="1270.15" y1="18.3" x2="1270.15" y2="22.3" stroke="#262626" stroke-width="1"/>
<path d="M0.3726,0 L0.2847,0 L0.2847,-0.560 C0.2637,-0.540 0.235,-0.519 0.1987,-0.497 C0.1625,-0.475 0.1303,-0.459 0.104,-0.454 L0.104,-0.539 C0.1504,-0.561 0.1952,-0.589 0.2446,-0.630 C0.2940,-0.672 0.3090,-0.695 0.3228,-0.716 L0.3726,-0.716 Z" transform="translate(1251.26,450.2) scale(23)" fill="#111"/>
<text x="1264.05" y="450.2" style="font-family:'Liberation Sans', sans-serif;font-size:23px" fill="#111">60</text>
<line x1="1343.22" y1="416.8" x2="1343.22" y2="412.8" stroke="#262626" stroke-width="1"/>
<line x1="1343.22" y1="18.3" x2="1343.22" y2="22.3" stroke="#262626" stroke-width="1"/>
<path d="M0.3726,0 L0.2847,0 L0.2847,-0.560 C0.2637,-0.540 0.235,-0.519 0.1987,-0.497 C0.1625,-0.475 0.1303,-0.459 0.104,-0.454 L0.104,-0.539 C0.1504,-0.561 0.1952,-0.589 0.2446,-0.630 C0.2940,-0.672 0.3090,-0.695 0.3228,-0.716 L0.3726,-0.716 Z" transform="translate(1324.34,450.2) scale(23)" fill="#111"/>
<text x="1337.13" y="450.2" style="font-family:'Liberation Sans', sans-serif;font-size:23px" fill="#111">80</text>
<line x1="1416.3" y1="416.8" x2="1416.3" y2="412.8" stroke="#262626" stroke-width="1"/>
<line x1="1416.3" y1="18.3" x2="1416.3" y2="22.3" stroke="#262626" stroke-width="1"/>
<text x="1397.41" y="450.2" style="font-family:'Liberation Sans', sans-serif;font-size:23px" fill="#111">200</text>
<line x1="1124" y1="416.8" x2="1128" y2="416.8" stroke="#262626" stroke-width="1"/>
<line x1="1416.3" y1="416.8" x2="1412.3" y2="416.8" stroke="#262626" stroke-width="1"/>
<text x="1102.51" y="426.54" style="font-family:'Liberation Sans', sans-serif;font-size:23px" fill="#111">0</text>
<line x1="1124" y1="337.1" x2="1128" y2="337.1" stroke="#262626" stroke-width="1"/>
<line x1="1416.3" y1="337.1" x2="1412.3" y2="337.1" stroke="#262626" stroke-width="1"/>
<text x="1083.33" y="346.84" style="font-family:'Liberation Sans', sans-serif;font-size:23px" fill="#111">0.2</text>
<line x1="1124" y1="257.4" x2="1128" y2="257.4" stroke="#262626" stroke-width="1"/>
<line x1="1416.3" y1="257.4" x2="1412.3" y2="257.4" stroke="#262626" stroke-width="1"/>
<text x="1083.33" y="267.13" style="font-family:'Liberation Sans', sans-serif;font-size:23px" fill="#111">0.4</text>
<line x1="1124" y1="177.7" x2="1128" y2="177.7" stroke="#262626" stroke-width="1"/>
<line x1="1416.3" y1="177.7" x2="1412.3" y2="177.7" stroke="#262626" stroke-width="1"/>
<text x="1083.33" y="187.44" style="font-family:'Liberation Sans', sans-serif;font-size:23px" fill="#111">0.6</text>
<line x1="1124" y1="98" x2="1128" y2="98" stroke="#262626" stroke-width="1"/>
<line x1="1416.3" y1="98" x2="1412.3" y2="98" stroke="#262626" stroke-width="1"/>
<text x="1083.33" y="107.73" style="font-family:'Liberation Sans', sans-serif;font-size:23px" fill="#111">0.8</text>
<line x1="1124" y1="18.3" x2="1128" y2="18.3" stroke="#262626" stroke-width="1"/>
<line x1="1416.3" y1="18.3" x2="1412.3" y2="18.3" stroke="#262626" stroke-width="1"/>
<path d="M0.3726,0 L0.2847,0 L0.2847,-0.560 C0.2637,-0.540 0.235,-0.519 0.1987,-0.497 C0.1625,-0.475 0.1303,-0.459 0.104,-0.454 L0.104,-0.539 C0.1504,-0.561 0.1952,-0.589 0.2446,-0.630 C0.2940,-0.672 0.3090,-0.695 0.3228,-0.716 L0.3726,-0.716 Z" transform="translate(1102.51,28.33) scale(23)" fill="#111"/>
<text x="0" y="0" transform="translate(1071.13,313.1) rotate(-90)" style="font-family:'Liberation Sans', sans-serif;font-size:25.7px" fill="#111">Absorption (a.u.)</text>
<text x="1190.42" y="483.87" style="font-family:'Liberation Sans', sans-serif;font-size:26.31px" fill="#111">Energy (meV)</text>
<rect x="1278.7" y="37.5" width="169.6" height="58.5" fill="#fff" stroke="#2a2a2a" stroke-width="1"/>
<line x1="1284.7" y1="53.2" x2="1343.6" y2="53.2" stroke="#000" stroke-width="3.2"/>
<line x1="1284.7" y1="80.7" x2="1343.6" y2="80.7" stroke="#fb2a10" stroke-width="3.2" stroke-dasharray="11.2,11.3"/>
<text x="1347.29" y="61.7" style="font-family:'Liberation Sans', sans-serif;font-size:19.59px" fill="#111" textLength="95.14" lengthAdjust="spacingAndGlyphs">Measured</text>
<text x="1347.56" y="89.2" style="font-family:'Liberation Sans', sans-serif;font-size:20.5px" fill="#111">Fit</text>
<line x1="1192.2" y1="205.4" x2="1224" y2="205.4" stroke="#000" stroke-width="1.2"/>
<path d="M1230.4,205.4 L1221,200.6 L1221,210.2 Z" fill="#000" stroke="none" stroke-width="1" stroke-linejoin="round"/>
<line x1="1279" y1="205.4" x2="1308.7" y2="205.4" stroke="#000" stroke-width="1.2"/>
<path d="M1272.4,205.4 L1281.8,200.6 L1281.8,210.2 Z" fill="#000" stroke="none" stroke-width="1" stroke-linejoin="round"/>
<text x="1284" y="190.31" style="font-family:'Liberation Sans', sans-serif;font-size:28.71px" fill="#111" textLength="103.95" lengthAdjust="spacingAndGlyphs" stroke="#fff" stroke-width="2.5" paint-order="stroke">7.4 meV</text>
<text x="1065.38" y="21.49" style="font-family:'Liberation Sans', sans-serif;font-weight:bold;font-size:28.13px" fill="#000">(e)</text>
</svg></body></html>
